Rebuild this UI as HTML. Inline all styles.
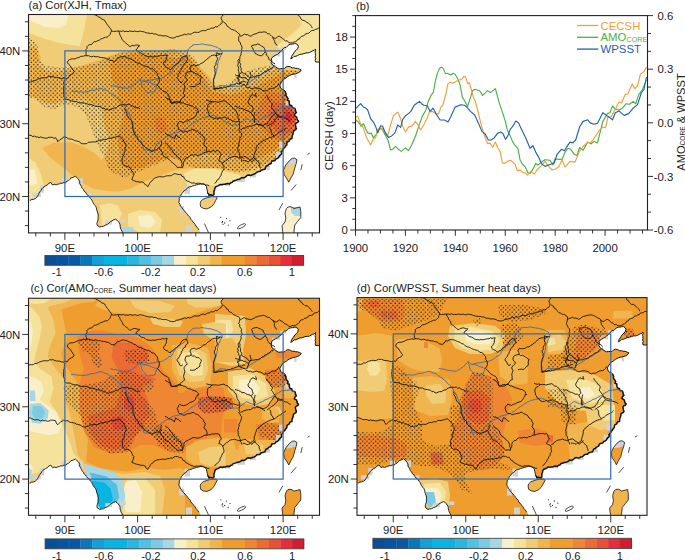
<!DOCTYPE html>
<html><head><meta charset="utf-8"><title>figure</title>
<style>html,body{margin:0;padding:0;background:#fff;} svg{display:block;} text{font-family:"Liberation Sans", sans-serif;}</style>
</head><body>
<svg width="685" height="560" viewBox="0 0 685 560">
<defs><pattern id="stip" patternUnits="userSpaceOnUse" width="4.33" height="4.38"><circle cx="1.1" cy="1.1" r="0.64" fill="#000"/><circle cx="3.27" cy="3.29" r="0.64" fill="#000"/></pattern></defs>
<rect width="685" height="560" fill="#fff"/>
<clipPath id="clipa"><rect x="28.5" y="14.5" width="291.00" height="218.40"/></clipPath>
<g clip-path="url(#clipa)">
<rect x="28.5" y="14.5" width="291.00" height="218.40" fill="#f1cc76"/>
<path d="M28.5,14.5 87.0,14.5 85.9,20.4 82.7,35.5 79.5,46.2 70.9,45.1 55.9,41.9 40.9,37.6 30.1,33.3 28.5,33.0Z" fill="#f6e39b"/>
<path d="M297.5,14.5 320.0,14.5 320.0,62.0 314.0,62.0 305.0,58.0 295.0,58.0 285.0,52.0 276.0,46.2 284.6,39.8 295.3,31.2 301.8,24.7Z" fill="#f6e39b"/>
<path d="M183.7,173.5 194.5,168.8 215.9,169.2 237.4,174.6 246.0,177.8 240.0,180.0 230.0,183.0 215.0,186.0 205.0,184.5 195.0,185.0 188.0,187.0Z" fill="#f6e39b"/>
<path d="M28.5,158.0 35.0,162.0 40.0,172.0 44.0,185.0 38.0,196.0 28.5,200.0Z" fill="#f6e39b"/>
<path d="M100.0,205.0 110.0,203.0 118.0,206.0 122.0,214.0 118.0,222.0 110.0,224.0 102.0,225.0Z" fill="#f6e39b"/>
<path d="M128.0,214.0 140.0,210.0 155.0,212.0 162.0,220.0 160.0,233.0 140.0,233.0 128.0,226.0Z" fill="#f6e39b"/>
<path d="M28.5,14.5 68.8,14.5 65.6,24.7 58.0,28.0 45.2,26.9 32.3,21.5 28.5,19.0Z" fill="#f9f0cb"/>
<path d="M28.5,169.0 35.0,170.0 37.0,184.0 28.5,186.0Z" fill="#f9f0cb"/>
<path d="M138.0,216.0 150.0,215.0 156.0,222.0 150.0,228.0 140.0,226.0Z" fill="#f9f0cb"/>
<path d="M120.0,228.0 133.0,227.0 134.0,233.0 120.0,233.0Z" fill="#a8d7e3"/>
<path d="M28.5,46.2 36.6,48.3 40.9,56.9 38.7,65.5 49.5,71.9 64.5,70.9 81.6,65.5 98.8,60.1 109.5,55.8 120.3,52.6 135.3,51.6 148.2,52.2 173.0,49.4 188.0,54.8 196.6,63.4 209.5,76.2 213.8,84.8 222.4,89.1 237.4,88.0 250.3,82.7 263.1,76.2 273.9,69.8 280.3,68.7 301.8,70.9 300.0,78.0 290.0,95.0 296.0,112.0 296.0,128.0 285.0,148.0 276.0,158.5 263.1,164.9 250.3,169.2 237.4,171.4 215.9,168.1 190.2,168.1 175.0,170.0 156.8,177.0 143.9,182.1 131.0,188.5 118.1,191.7 105.3,190.7 92.4,188.5 77.4,179.9 66.5,170.0 57.8,163.6 49.0,156.6 42.0,147.8 54.3,142.6 71.8,142.6 85.8,147.8 94.6,153.1 101.6,160.1 106.0,155.0 110.0,140.0 104.0,125.0 101.6,107.5 94.0,104.0 85.0,100.0 73.5,100.0 64.8,99.0 54.3,104.0 45.5,103.0 36.8,98.0 28.5,97.0Z" fill="#f0b54e"/>
<path d="M109.5,63.4 118.1,58.0 131.0,53.7 148.2,53.7 165.3,56.9 175.0,58.0 188.0,57.0 196.0,66.0 205.0,80.0 212.0,92.0 230.0,95.0 250.0,90.0 265.0,82.0 280.0,75.0 301.0,73.0 300.0,78.0 290.0,95.0 296.0,112.0 296.0,128.0 285.0,145.0 278.2,147.8 267.4,154.2 254.5,159.6 237.4,158.5 215.9,154.2 194.5,154.2 181.8,160.9 170.0,156.5 161.3,159.4 151.1,163.8 140.9,168.2 129.2,169.6 120.4,163.8 119.0,149.2 117.5,134.6 123.5,116.3 119.1,100.5 117.4,90.0 111.7,78.4Z" fill="#f09d30"/>
<path d="M155.0,119.0 161.0,117.0 166.0,121.0 167.0,129.0 162.0,134.0 156.0,131.0Z" fill="#ee8633"/>
<path d="M268.2,90.9 276.3,92.5 284.3,95.7 290.7,107.0 296.0,112.0 296.0,128.0 287.5,137.5 281.0,140.7 273.0,137.5 265.0,131.0 258.6,123.0 255.4,115.0 258.6,105.4 263.4,95.7Z" fill="#ee8633"/>
<path d="M273.0,102.1 281.0,103.8 290.7,105.4 294.0,111.8 296.0,120.0 294.0,126.3 290.7,132.7 284.3,134.3 276.3,131.0 269.8,123.0 268.2,111.8Z" fill="#ec6b34"/>
<path d="M282.7,107.0 290.7,107.8 294.0,113.4 295.0,120.0 293.1,123.0 287.5,124.6 283.5,118.2Z" fill="#e95137"/>
<path d="M285.5,112.0 290.0,112.5 292.0,117.0 289.0,121.0 286.0,119.0Z" fill="#e72e38"/>
<path d="M28.5,37.6 34.4,41.9 38.7,48.3 37.7,56.9 45.2,65.5 60.2,67.6 81.6,66.6 98.8,62.3 107.4,58.0 120.3,52.6 131.0,50.9 148.2,50.5 173.0,49.4 185.9,50.5 194.5,56.9 200.9,69.8 209.5,80.5 214.0,87.0 224.5,86.0 232.0,80.0 243.8,71.9 258.8,67.6 271.7,65.5 280.3,69.8 301.8,70.9 300.0,78.0 290.0,95.0 296.0,112.0 296.0,128.0 285.0,148.0 278.2,158.5 265.3,167.0 250.3,171.4 237.4,172.4 215.9,168.1 194.5,168.1 190.5,166.7 181.8,160.9 170.0,158.0 158.4,163.8 143.8,169.6 130.0,176.0 121.9,176.9 112.0,172.0 107.3,168.2 106.8,161.8 101.6,153.1 97.2,144.3 94.6,137.3 91.1,128.5 88.4,121.5 85.8,114.5 80.6,109.3 73.5,105.8 64.8,104.0 54.3,109.3 45.5,107.5 36.8,100.5 28.5,96.0Z" fill="url(#stip)"/>
<path d="M320.0,61.9 315.5,61.9 315.5,49.0 311.1,51.7 306.0,52.9 301.8,54.2 297.6,55.5 294.2,56.3 290.8,58.9 291.6,56.3 293.3,53.8 295.0,51.2 297.6,48.7 298.4,46.2 295.9,43.6 290.8,44.2 287.4,46.2 283.2,48.7 279.0,52.9 273.9,56.1 271.5,58.5 271.2,62.5 272.5,65.0 273.9,65.7 278.8,68.9 284.6,68.4 287.9,66.3 292.1,67.9 297.5,68.4 301.3,70.0 299.6,72.1 295.4,73.8 291.1,74.8 287.9,76.4 284.1,79.1 281.4,82.3 279.8,85.0 280.5,88.0 285.2,91.1 287.3,97.5 289.5,103.9 292.1,107.1 295.4,109.8 296.4,112.5 294.3,115.7 296.4,116.8 298.6,121.1 295.4,124.3 296.4,128.6 293.2,132.9 292.1,137.1 288.9,141.4 285.7,145.7 283.0,150.0 281.4,152.0 280.4,155.0 276.1,158.8 272.9,160.9 268.6,164.6 265.4,167.9 260.0,171.6 255.7,173.2 250.4,175.4 246.1,176.4 241.8,177.5 237.5,179.6 234.3,180.7 230.7,182.7 226.4,183.8 222.1,184.8 217.9,185.9 215.5,187.0 214.5,190.0 214.0,193.0 212.5,195.5 209.0,195.5 207.5,193.0 206.8,189.0 206.5,186.5 205.0,184.8 200.7,183.8 196.4,184.8 192.7,185.9 187.9,187.5 184.1,190.7 181.4,193.9 179.3,198.2 178.8,202.5 180.4,206.2 182.5,208.9 185.2,212.1 188.9,216.4 192.1,220.7 196.0,226.0 199.0,230.0 200.8,233.0 320.0,233.0Z" fill="#fff"/>
<path d="M28.0,200.8 29.8,200.8 36.8,197.3 42.9,187.7 45.5,185.9 50.8,182.4 52.5,185.0 57.8,184.2 65.7,182.4 70.9,178.0 75.3,176.3 78.8,179.8 80.6,185.0 84.1,191.2 89.3,196.4 91.9,199.9 96.3,207.8 98.1,216.6 97.2,225.3 99.8,227.1 105.1,225.3 110.3,221.8 115.6,219.2 119.1,222.7 122.6,233.0 28.0,233.0Z" fill="#fff"/>
<path d="M200.7,201.4 202.9,199.3 207.1,197.7 211.4,196.6 215.7,196.6 217.3,197.7 215.7,200.4 214.1,203.6 211.4,206.8 207.1,208.9 203.4,208.4 200.7,206.8 200.2,203.6Z" fill="#f1cc76" stroke="#111" stroke-width="0.8"/>
<path d="M61.5,178.0 66.6,178.0 66.6,183.5 61.5,183.5Z" fill="#d2d2d2"/>
<path d="M78.4,178.0 82.7,178.0 82.7,184.5 78.4,184.5Z" fill="#d2d2d2"/>
<path d="M32.3,192.8 40.9,192.8 40.9,197.0 32.3,197.0Z" fill="#d2d2d2"/>
<path d="M39.8,185.3 44.1,185.3 44.1,192.8 39.8,192.8Z" fill="#d2d2d2"/>
<path d="M87.0,192.8 91.3,192.8 91.3,196.5 87.0,196.5Z" fill="#d2d2d2"/>
<path d="M105.3,220.7 112.0,220.7 112.0,224.5 105.3,224.5Z" fill="#d2d2d2"/>
<path d="M120.0,219.0 126.0,219.0 126.0,222.5 120.0,222.5Z" fill="#d2d2d2"/>
<path d="M184.5,186.0 190.0,186.0 190.0,194.0 184.5,194.0Z" fill="#d2d2d2"/>
<path d="M179.0,206.0 184.0,206.0 184.0,213.0 179.0,213.0Z" fill="#d2d2d2"/>
<path d="M186.0,225.0 192.0,225.0 192.0,232.0 186.0,232.0Z" fill="#d2d2d2"/>
<path d="M237.0,178.0 245.0,178.0 245.0,182.0 237.0,182.0Z" fill="#d2d2d2"/>
<path d="M265.0,166.0 270.0,166.0 270.0,170.0 265.0,170.0Z" fill="#d2d2d2"/>
<path d="M276.0,152.0 281.0,152.0 281.0,158.0 276.0,158.0Z" fill="#d2d2d2"/>
<path d="M285.7,100.7 288.5,100.7 288.5,105.5 285.7,105.5Z" fill="#d2d2d2"/>
<path d="M279.0,141.4 283.0,141.4 283.0,147.9 279.0,147.9Z" fill="#d2d2d2"/>
<path d="M280.3,47.3 286.1,47.3 286.1,50.2 280.3,50.2Z" fill="#d2d2d2"/>
<path d="M272.1,54.3 275.0,54.3 275.0,56.6 272.1,56.6Z" fill="#d2d2d2"/>
<path d="M277.4,53.1 280.3,53.1 280.3,56.6 277.4,56.6Z" fill="#d2d2d2"/>
<path d="M294.3,74.3 296.6,74.3 296.6,78.6 294.3,78.6Z" fill="#d2d2d2"/>
<path d="M250.0,175.0 256.0,175.0 256.0,177.5 250.0,177.5Z" fill="#d2d2d2"/>
<path d="M225.0,183.0 230.0,183.0 230.0,186.0 225.0,186.0Z" fill="#d2d2d2"/>
<path d="M294.8,158.2 297.0,159.8 296.2,163.5 294.8,168.0 293.2,174.0 291.0,177.8 288.8,182.2 287.2,179.2 284.2,174.8 283.5,170.2 285.8,165.0 289.5,160.5 292.5,158.2Z" fill="#f1cc76"/>
<path d="M292.5,158.2 294.8,158.2 297.0,159.8 296.2,163.5 290.0,165.5 285.8,165.5 289.5,160.5Z" fill="#d2d2d2"/>
<path d="M294.8,158.2 297.0,159.8 296.2,163.5 294.8,168.0 293.2,174.0 291.0,177.8 288.8,182.2 287.2,179.2 284.2,174.8 283.5,170.2 285.8,165.0 289.5,160.5 292.5,158.2Z" fill="none" stroke="#111" stroke-width="0.8"/>
<path d="M288.0,207.0 291.0,206.7 294.0,208.5 300.0,207.0 300.8,211.5 300.8,217.5 297.8,221.2 294.8,225.0 294.0,231.0 294.0,233.5 282.5,233.5 282.7,231.8 282.0,225.8 285.0,222.0 285.8,218.2 285.0,213.0 286.5,208.5Z" fill="#f9f0cb"/>
<path d="M291.0,207.0 300.0,207.0 300.8,211.5 300.8,216.0 295.0,216.0 291.0,212.0Z" fill="#a8d7e3"/>
<path d="M288.0,207.0 291.0,206.7 294.0,208.5 300.0,207.0 300.8,211.5 300.8,217.5 297.8,221.2 294.8,225.0 294.0,231.0 294.0,233.5 282.5,233.5 282.7,231.8 282.0,225.8 285.0,222.0 285.8,218.2 285.0,213.0 286.5,208.5Z" fill="none" stroke="#111" stroke-width="0.8"/>
<path d="M320.0,61.9 317.8,62.1 315.5,61.9 315.2,60.3 315.7,58.7 315.1,57.1 315.5,55.5 315.4,53.8 315.1,52.2 315.5,50.6 315.5,49.0 314.3,50.3 312.6,50.9 311.1,51.7 309.5,52.5 307.8,52.9 306.0,52.9 303.9,53.6 301.8,54.2 299.6,54.5 297.6,55.5 296.0,56.3 294.2,56.3 292.7,57.8 290.8,58.9 291.6,56.3 293.3,53.8 295.0,51.2 296.4,50.0 297.6,48.7 298.4,46.2 297.5,44.6 295.9,43.6 294.2,43.7 292.5,44.1 290.8,44.2 288.9,44.8 287.4,46.2 286.2,47.4 284.4,47.6 283.2,48.7 281.9,50.2 280.7,51.8 279.0,52.9 277.5,54.3 275.7,55.2 273.9,56.1 272.5,57.1 271.5,58.5 271.7,60.5 271.2,62.5 272.5,65.0 273.9,65.7 275.5,66.8 277.1,67.9 278.8,68.9 280.7,68.6 282.7,68.6 284.6,68.4 286.0,67.0 287.9,66.3 290.2,66.7 292.1,67.9 293.9,67.8 295.7,68.4 297.5,68.4 299.4,69.1 301.3,70.0 299.6,72.1 297.6,73.1 295.4,73.8 293.2,74.2 291.1,74.8 289.5,75.6 287.9,76.4 286.1,77.9 284.1,79.1 282.5,80.5 281.4,82.3 279.8,85.0 280.5,88.0 282.0,89.2 283.8,89.9 285.2,91.1" fill="none" stroke="#111" stroke-width="1.0" stroke-linejoin="round"/>
<path d="M285.2,91.1 285.5,92.4 286.0,93.7 285.8,95.2 286.5,96.3 287.3,97.5 288.1,98.7 287.4,100.3 289.3,101.1 289.2,102.6 289.5,103.9 290.0,105.3 291.7,105.6 292.1,107.1 293.2,108.0 294.8,108.3 295.4,109.8 295.6,111.3 296.4,112.5 295.0,113.8 294.3,115.7 296.4,116.8 297.0,118.3 297.3,120.0 298.6,121.1 297.8,122.4 296.2,123.0 295.4,124.3 295.6,125.8 295.9,127.2 296.4,128.6 295.7,129.7 294.3,130.4 293.4,131.3 293.2,132.9 292.9,134.3 292.2,135.6 292.1,137.1 291.9,138.6 290.2,139.0 289.5,140.2 288.9,141.4 287.4,141.9 286.8,143.2 286.8,144.9 285.7,145.7 285.0,147.2 283.6,148.4 283.0,150.0 281.4,152.0 281.7,153.8 280.4,155.0 279.4,156.0 278.6,157.3 277.6,158.4 276.1,158.8 274.9,160.5 272.9,160.9 271.5,161.5 271.2,163.3 270.0,164.0 268.6,164.6 267.7,165.8 266.0,166.3 265.4,167.9 264.7,169.3 263.3,169.5 262.1,170.0 260.7,170.3 260.0,171.6 258.4,171.6 256.9,172.1 255.7,173.2 254.5,174.1 253.1,174.4 251.8,175.1 250.4,175.4 248.8,175.1 247.3,175.3 246.1,176.4 244.8,177.4 243.4,177.7 241.8,177.5 240.6,178.6 239.1,179.3 237.5,179.6 235.9,180.2 234.3,180.7 233.0,181.2 232.1,182.4 230.7,182.7 229.5,183.9 227.9,183.5 226.4,183.8 225.0,184.3 223.5,184.3 222.1,184.8 220.5,184.4 219.2,185.2 217.9,185.9 216.7,186.4 215.5,187.0 214.8,188.4 214.5,190.0 213.9,191.4 214.0,193.0 213.9,194.7 212.5,195.5 210.7,194.8 209.0,195.5 208.7,194.0 207.5,193.0" fill="none" stroke="#111" stroke-width="1.5" stroke-linejoin="round"/>
<path d="M207.5,193.0 207.4,190.9 206.8,189.0 206.5,186.5 205.0,184.8 202.9,184.0 200.7,183.8 198.6,184.4 196.4,184.8 194.6,185.4 192.7,185.9 191.2,186.7 189.5,186.9 187.9,187.5 186.9,188.8 185.6,189.9 184.1,190.7 182.9,192.5 181.4,193.9 180.6,196.2 179.3,198.2 179.2,200.4 178.8,202.5 179.9,204.2 180.4,206.2 181.8,207.3 182.5,208.9 184.1,210.3 185.2,212.1 186.7,213.3 187.7,214.9 188.9,216.4 190.3,217.6 190.8,219.4 192.1,220.7 193.0,222.1 194.3,223.2 195.2,224.6 196.0,226.0 197.1,227.3 198.1,228.6 199.0,230.0" fill="none" stroke="#111" stroke-width="0.9" stroke-linejoin="round"/>
<path d="M29.8,200.8 31.3,199.6 33.4,199.4 35.3,198.6 36.8,197.3 37.6,195.9 38.5,194.5 39.1,193.0 39.9,191.6 41.0,190.4 41.8,188.9 42.9,187.7 45.5,185.9 47.4,185.0 48.8,183.3 50.8,182.4 52.5,185.0 54.2,184.3 56.1,184.9 57.8,184.2 59.4,183.9 60.9,183.1 62.5,183.2 64.0,182.3 65.7,182.4 67.0,181.3 68.6,180.6 69.8,179.4 70.9,178.0 73.2,177.3 75.3,176.3 76.6,177.3 77.7,178.5 78.8,179.8 79.7,181.4 79.7,183.4 80.6,185.0 81.4,186.6 82.1,188.2 83.4,189.6 84.1,191.2 85.6,192.3 86.5,194.0 87.7,195.4 89.3,196.4 90.3,198.4 91.9,199.9 92.5,201.6 93.4,203.2 94.3,204.8 95.7,206.1 96.3,207.8 96.6,209.6 97.2,211.3 97.8,213.0 98.2,214.7 98.1,216.6 98.1,218.4 98.0,220.1 97.4,221.8 96.9,223.5 97.2,225.3 99.8,227.1 101.5,226.5 103.5,226.3 105.1,225.3 107.1,224.5 108.8,223.3 110.3,221.8 112.0,220.8 113.7,219.8 115.6,219.2 117.0,220.2 118.1,221.3 119.1,222.7 120.0,224.3 120.1,226.2 120.5,228.0 121.1,229.7 122.0,231.3 122.6,233.0" fill="none" stroke="#111" stroke-width="0.9" stroke-linejoin="round"/>
<path d="M110.5,85.4 112.1,85.8 113.7,86.3 115.5,86.1 117.0,86.8 118.6,87.3 120.3,87.4 122.2,87.8 124.1,88.1 126.1,88.1 128.0,88.4 129.4,87.3 131.1,86.7 132.4,85.5 134.0,84.7 135.3,83.6 136.6,82.5 137.5,81.0 138.8,79.8 140.0,78.6 141.6,80.3 143.6,81.5 145.3,81.3 146.9,80.6 148.5,80.2 150.2,79.9 151.9,80.1 153.5,79.5 155.2,79.3 156.7,78.6 158.4,78.7 160.1,78.5 161.7,78.0 163.3,77.5 164.7,76.5 166.3,75.6 167.6,74.4 169.0,73.3 170.8,72.9 172.1,71.6 172.9,70.2 173.6,68.6 174.6,67.3 175.1,65.7 176.4,64.6 177.9,63.9 179.1,62.9 180.2,61.5 181.5,60.6 182.9,59.7 184.1,58.3 185.4,57.0 186.9,55.8 187.3,53.8 187.4,51.8 187.9,49.9 189.1,48.6 190.2,47.2 191.8,46.4 192.8,44.9 194.4,44.7 196.1,44.6 197.7,44.5 199.4,44.5 201.0,44.0 202.6,43.9 204.2,44.5 205.9,44.6 207.5,44.9 209.1,45.2 210.8,45.2 212.4,45.8 214.0,46.4 215.6,46.8 217.3,47.3 218.6,48.5 220.3,48.9 221.5,50.7 222.2,52.8 221.6,54.3 220.8,55.7 220.2,57.2 219.7,58.8 218.9,60.2 218.3,61.7 217.9,63.4 217.4,65.0 217.6,66.7 216.9,68.3 216.8,70.0 216.3,71.6 216.0,73.3 215.2,74.8 214.8,76.5 214.3,78.2 213.7,79.8 213.4,81.5 213.1,83.5 213.4,85.4 213.3,87.4 213.4,89.4 215.1,88.4 216.7,87.4 218.4,86.5 220.0,85.4 221.7,85.5 223.4,85.7 225.2,85.8 226.9,86.2 228.6,86.2 230.3,86.4 232.1,86.6 233.8,86.4 235.5,86.1 237.1,86.1 238.8,86.3 240.5,86.1 242.1,85.4 243.8,85.3 245.5,85.4 246.8,84.4 248.0,83.2 249.3,82.3 250.6,81.2 252.2,80.5 253.4,79.5 254.9,78.8 256.3,78.0 257.5,76.7 259.1,76.2 260.5,75.3 261.7,74.1 263.2,73.5 264.7,72.9 266.2,72.1 267.3,70.8 269.0,70.4 270.2,69.2 271.6,68.4 273.0,67.6 274.3,66.3 275.0,64.7" fill="none" stroke="#3f6fa6" stroke-width="0.95" stroke-linejoin="round"/>
<path d="M140.0,78.6 140.2,80.3 141.0,81.8 141.2,83.5 141.6,85.1 142.0,86.7 143.3,88.1 144.7,89.6 145.8,91.1 147.0,92.7 148.6,92.7 150.2,92.0 151.8,92.2 153.4,91.9 155.0,91.7 155.3,89.6 156.2,87.7 157.0,85.7 155.3,84.9 153.5,84.2 151.6,83.7 150.0,82.7 148.5,82.0 146.8,81.9 145.3,81.4 143.6,81.5" fill="none" stroke="#3f6fa6" stroke-width="0.95" stroke-linejoin="round"/>
<path d="M71.2,91.3 72.9,91.2 74.6,91.4 76.3,91.4 77.9,92.1 79.6,91.9 81.3,91.9 83.0,92.3 84.6,91.9 86.3,91.9 87.9,91.5 89.5,90.8 91.1,90.4 92.8,90.3 94.4,90.2 96.0,89.6 97.6,89.3 99.1,88.5 100.7,88.4 102.4,88.7 103.8,89.7 105.4,90.1 107.0,90.5 108.5,91.3 109.6,92.6 111.1,93.4 112.3,94.5 113.9,95.0 114.9,96.5 116.4,97.3 117.9,98.4 118.8,100.1 120.3,101.2 121.7,102.5 123.0,103.8 124.3,105.2 125.2,106.9 125.9,108.7 127.2,110.1 128.0,111.9 128.9,113.4 129.3,115.2 130.1,116.8 130.9,118.5 131.5,120.2 131.9,121.9 132.6,123.4 132.9,125.0 133.2,126.7 133.6,128.2 133.7,129.9 134.4,131.4 134.7,133.0 135.3,134.6 135.6,136.2 135.9,137.8 137.6,138.5 138.9,139.7 140.5,140.6 141.8,141.8 142.0,143.5 142.6,145.0 143.2,146.6 143.4,148.2 143.8,149.8 145.4,150.3 147.1,149.8 148.7,150.5 150.4,150.4 152.1,150.6 153.7,150.8 154.6,149.2 155.1,147.3 155.9,145.7 156.6,144.0 158.1,143.0 159.7,142.0 160.9,140.6 162.5,139.8 163.9,138.6 165.3,137.4 167.0,136.7 168.6,135.7 170.2,134.8 171.9,134.1 173.4,133.3 174.9,132.9 176.5,132.4 178.2,132.4 179.6,131.6 181.2,131.0 182.8,130.8 184.0,129.6 185.7,129.0 187.1,128.1 188.4,127.0 189.6,125.8 190.9,124.8 192.3,123.9 193.8,123.0 195.3,122.1 196.6,121.0 198.2,120.3 199.6,119.3 201.3,118.8 202.6,117.6 204.5,117.5 206.2,116.9 208.0,116.3 209.9,116.4 211.7,115.6 213.5,115.4 215.0,116.0 216.6,116.5 217.9,117.5 219.4,118.2 220.8,119.0 222.3,119.7 223.9,120.4 225.2,121.5 226.8,122.2 228.2,123.3 229.7,124.1 231.0,125.2 232.7,125.2 234.3,124.9 235.9,124.9 237.6,125.2 239.0,124.0 240.4,122.9 242.0,122.0 243.4,120.8 245.0,119.8 246.3,118.6 248.0,119.4 249.8,120.1 251.5,120.8 253.4,121.2 255.1,121.9 256.5,121.1 258.2,120.8 259.4,119.5 261.0,119.2 262.5,118.4 263.9,117.6 265.2,116.6 266.9,116.3 268.4,115.6 269.7,114.7 271.2,114.0 272.6,113.2 274.2,112.4 275.4,111.1 277.0,110.4 278.5,109.5 280.1,108.7 281.4,107.6 283.2,107.6 284.9,107.4 286.6,107.0 288.4,107.0 290.1,106.5 291.6,107.4 293.1,108.2 294.7,108.8" fill="none" stroke="#3f6fa6" stroke-width="0.95" stroke-linejoin="round"/>
<path d="M92.8,14.2 94.4,14.7 96.0,15.2 97.4,16.1 98.8,17.1 100.4,17.5 101.5,19.1 103.1,19.5 104.6,20.2 105.4,21.8 106.4,23.2 107.3,24.8 108.5,26.1 109.5,27.8 111.0,29.1 111.5,31.1 113.3,31.4 115.0,31.4 116.8,31.1 118.5,31.1 120.3,31.1 121.8,31.4 123.4,30.8 124.9,31.7 126.5,31.2 128.0,31.7 129.6,31.1 131.3,31.2 133.0,31.7 134.7,31.0 136.4,31.5 138.1,31.7 139.7,31.1 141.2,31.4 142.8,31.6 144.3,32.0 145.8,32.6 147.3,33.0 148.9,33.1 150.4,33.5 152.1,33.2 153.5,34.0 155.2,33.9 156.8,34.4 158.3,35.3 160.1,35.1 161.7,35.7 163.3,36.0 165.1,35.7 166.7,36.1 168.3,36.7 169.8,37.5 171.4,37.9 173.1,38.0 174.8,37.7 176.3,36.7 178.1,36.5 179.7,35.9 181.3,35.4 183.0,35.0 184.5,34.2 186.4,34.8 187.8,33.7 189.6,34.3 191.3,33.9 192.8,33.1 194.2,32.2 195.8,32.3 197.4,32.4 199.0,32.3 200.4,31.3 201.9,30.8 203.4,30.4 205.1,30.9 206.5,30.0 207.9,29.2 209.5,29.2 210.8,28.2 212.4,28.1 214.0,28.1 215.2,26.7 216.9,27.0 218.3,26.1 219.6,24.8 221.2,23.8 222.2,22.2 222.1,20.5 221.2,18.9 221.2,17.2 222.6,16.0 223.2,14.2" fill="none" stroke="#141414" stroke-width="0.9" stroke-linejoin="round"/>
<path d="M111.5,31.1 110.6,32.7 110.1,34.6 108.7,36.0 107.3,37.1 105.5,37.2 103.9,37.8 102.4,38.6 100.7,39.0 99.3,40.2 97.6,40.7 96.1,41.6 94.2,41.8 92.8,42.9 91.7,44.4 89.7,44.6 88.1,45.5 86.9,46.8 87.1,48.4 85.9,49.7 86.0,51.3 86.0,52.8 86.0,54.4 86.9,55.8" fill="none" stroke="#141414" stroke-width="0.9" stroke-linejoin="round"/>
<path d="M118.4,31.1 119.3,32.6 119.8,34.3 120.3,36.0 121.4,37.4 121.8,39.3 123.2,40.5 124.3,41.9 125.8,43.0 127.2,44.3 128.7,45.4 129.9,46.8 131.2,45.9 132.7,45.4 134.4,45.8 135.8,44.9 137.8,45.1 139.7,45.8 138.0,46.8 137.3,48.7 135.8,49.9 137.4,50.6 138.7,51.8 140.4,52.5 141.7,53.8 143.3,54.2 144.6,55.5 146.2,56.0 147.8,56.5 149.5,56.7 151.2,56.7 152.8,56.9 154.5,56.8 156.1,56.2 157.8,56.2 159.4,55.8 160.9,55.1 162.6,55.7 164.1,55.1 165.7,55.3 167.2,54.8 166.7,56.4 166.8,58.1 166.2,59.7 165.7,61.4 163.9,62.0 163.3,63.7 164.7,64.9 165.3,66.7 167.0,67.6 168.7,68.5 170.2,69.6" fill="none" stroke="#141414" stroke-width="0.9" stroke-linejoin="round"/>
<path d="M86.9,55.8 88.6,55.7 90.2,56.4 91.8,56.8 93.5,56.1 95.1,56.7 96.8,56.7 98.5,56.8 100.1,57.4 101.7,57.6 103.4,57.7 105.0,58.0 106.6,58.7 108.3,59.0 109.5,60.4 111.3,60.5 113.0,60.8 114.4,61.7 115.8,60.7 116.9,59.4 117.4,57.7 119.1,57.4 120.8,56.8 122.5,56.6 124.3,56.7 126.1,56.9 127.5,57.9 129.2,58.3 130.8,59.1 132.3,59.8 133.8,60.7 135.2,61.5 136.4,62.6 137.9,63.1 139.4,63.5 140.8,64.2 142.2,65.0 143.6,65.7 145.1,66.1 146.5,66.6 148.0,66.9 149.4,67.7 150.5,69.0 152.3,68.6 153.5,69.6 154.8,70.9 156.0,72.3 157.4,73.5 157.4,75.2 158.5,76.6 158.9,78.2 159.3,79.8 159.4,81.5 158.5,83.5 157.4,85.4 158.7,86.7 159.6,88.5 161.3,89.4 162.5,90.7 164.0,91.7 166.0,91.9 167.2,93.3 168.7,95.0 169.2,97.3 169.5,98.8 169.8,100.4 170.7,101.7 171.2,103.2 173.1,103.3 175.1,102.6 177.0,103.2 178.9,102.1 181.0,101.2" fill="none" stroke="#141414" stroke-width="0.9" stroke-linejoin="round"/>
<path d="M86.9,55.8 85.2,55.6 83.6,56.1 81.9,56.3 80.3,56.5 78.8,57.7 77.1,57.7 75.7,58.6 74.1,58.9 72.4,58.9 70.8,59.1 69.3,59.7 67.9,60.9 67.3,62.6 68.6,64.3 70.2,65.7 71.1,67.2 71.9,68.8 73.2,70.1 74.2,71.6 73.2,73.5 71.2,74.5 69.3,75.5 68.8,77.3 67.3,78.5" fill="none" stroke="#141414" stroke-width="0.9" stroke-linejoin="round"/>
<path d="M28.5,82.2 30.3,82.1 31.9,81.5 33.4,80.6 35.2,80.8 36.7,79.9 38.1,78.9 39.8,78.5 41.4,77.8 43.1,77.7 44.9,77.8 46.6,77.6 48.2,76.6 49.8,76.3 51.6,76.5 53.2,76.9 54.8,77.3 56.5,77.4 58.2,77.6 59.7,78.3 61.4,78.5 63.4,78.0 65.3,78.3 67.3,78.5" fill="none" stroke="#141414" stroke-width="0.9" stroke-linejoin="round"/>
<path d="M64.3,79.5 64.3,81.4 63.7,83.4 64.3,85.4 63.9,87.0 63.5,88.5 63.8,90.2 63.9,91.8 63.4,93.3 64.2,94.7 63.8,96.5 64.6,97.9 65.3,99.3 66.9,99.4 68.6,99.5 70.0,100.4 71.6,101.0 73.2,101.2 74.9,101.4 76.5,101.6 78.1,102.4 79.6,103.0 81.4,102.5 83.0,103.2 84.7,103.0 86.3,103.7 87.9,104.1 89.5,104.8 91.2,104.5 92.8,105.2 94.3,105.9 95.9,106.3 97.5,106.4 99.2,106.4 100.7,107.1 102.1,108.3 103.9,108.1 105.2,109.3 107.1,109.2 108.5,110.1 109.9,109.3 111.6,109.4 112.8,108.4 114.4,108.1 116.1,107.9 117.3,106.7 118.7,105.6 120.3,105.2 121.8,104.7 123.4,104.7 124.9,104.8 126.5,104.9 128.0,104.2 129.7,104.5 131.1,105.4 132.6,105.9 134.0,106.8 135.3,107.9 137.1,107.4 138.7,107.8 140.0,108.8" fill="none" stroke="#141414" stroke-width="0.9" stroke-linejoin="round"/>
<path d="M131.9,121.9 132.8,123.5 132.7,125.2 132.4,127.0 132.8,128.6 133.3,130.3 133.9,131.9 134.2,133.6 135.1,135.0 136.6,136.0 137.6,137.4 137.7,139.3 138.7,140.6 139.8,141.8 141.4,142.6 142.1,144.4 143.5,145.3 144.7,146.5 145.8,147.8 147.4,148.6 149.0,149.5 150.6,150.3 151.7,151.8 153.2,150.8 154.8,150.0 156.7,149.9 157.8,148.2 159.6,147.8" fill="none" stroke="#141414" stroke-width="0.9" stroke-linejoin="round"/>
<path d="M125.0,108.8 125.1,110.6 126.5,111.9 127.0,113.6 127.0,115.4 128.0,116.9 128.7,118.4 130.0,119.3 131.4,120.3 131.9,121.9" fill="none" stroke="#141414" stroke-width="0.9" stroke-linejoin="round"/>
<path d="M28.5,134.9 30.0,135.3 31.5,135.6 32.8,136.6 34.5,136.1 35.9,136.9 37.5,136.9 39.0,137.7 40.7,136.9 42.2,137.5 43.8,137.8 45.5,138.2 47.2,138.1 48.9,137.3 50.6,137.3 52.3,137.3 54.0,138.3 55.7,137.8 57.0,139.7 57.7,141.8 59.7,139.8 61.2,139.1 62.6,138.3 63.6,136.9 65.3,137.2 67.0,137.6 68.4,138.9 70.2,139.0 71.9,139.1 73.5,139.8 74.8,140.6 76.4,140.8 77.8,141.3 79.4,141.6 80.5,143.0 81.8,143.7 83.4,143.8 85.1,143.7 86.8,143.7 88.2,142.3 89.9,142.2 91.6,142.1 93.3,141.8 95.1,142.0 96.7,141.7 98.2,140.7 99.8,140.2 101.5,140.1 103.2,139.8 104.8,139.4 106.5,139.5 107.9,138.2 109.7,138.6 111.2,137.8 112.8,137.7 114.5,137.4 116.0,137.0 117.6,136.4 119.1,135.9 120.5,137.1 121.9,138.4 123.0,139.8 123.9,141.1 124.2,142.6 125.7,143.5 126.0,145.1 126.0,146.8 124.9,148.2 125.1,150.0 124.9,151.6 124.0,153.1 124.0,154.8 122.9,156.1 122.7,157.7 122.0,159.1 121.9,161.0 122.6,162.6 122.9,164.3 124.0,165.8" fill="none" stroke="#141414" stroke-width="0.9" stroke-linejoin="round"/>
<path d="M124.0,165.8 125.6,166.0 127.1,166.3 128.6,166.8 129.9,167.7 130.9,169.2 131.7,170.9 133.0,172.2 133.9,173.7 133.7,175.3 133.0,176.7 132.3,178.1 131.9,179.7 133.3,180.4 134.8,181.0 136.3,181.6 137.9,181.7 139.8,182.2 141.9,181.9 143.8,182.7 144.8,184.3 146.6,185.2 147.8,186.7 148.8,185.1 149.6,183.3 150.7,181.7 152.1,180.9 153.0,179.4 154.3,178.4 155.7,177.7 157.6,177.1 159.6,176.6 161.6,176.8 163.2,177.0 164.8,176.4 166.3,175.9 167.9,175.8 169.5,175.7 171.2,175.8 172.5,174.7 173.9,173.9 175.5,173.7 177.4,174.4 179.4,174.6 181.4,174.7 181.9,176.3 183.8,176.9 184.4,178.4 185.4,179.7 187.2,181.0 189.3,181.7 190.7,182.6 192.1,183.2 194.0,182.7 195.3,183.7 196.9,183.4 198.5,183.2 200.0,183.3 201.6,184.3 203.2,183.7 204.6,184.3 206.0,185.2 207.7,185.1 209.1,185.7" fill="none" stroke="#141414" stroke-width="0.9" stroke-linejoin="round"/>
<path d="M159.6,147.8 160.0,149.6 161.3,151.0 162.3,152.5 162.5,154.4 163.6,155.8 164.8,157.2 166.8,157.4 168.0,158.9 169.5,159.7 171.5,161.8 172.6,163.0 174.1,163.9 175.2,165.2 176.6,166.2 177.5,167.7 179.1,167.3 180.8,167.4 182.4,167.7 183.0,166.3 183.5,164.9 183.4,163.3 183.6,161.8 184.5,160.4 185.1,159.0" fill="none" stroke="#141414" stroke-width="0.9" stroke-linejoin="round"/>
<path d="M245.0,156.3 246.2,157.6 247.9,158.2 249.2,159.4 250.6,160.4 251.7,161.8 253.3,160.7 254.3,159.1 255.6,157.7" fill="none" stroke="#141414" stroke-width="0.9" stroke-linejoin="round"/>
<path d="M161.6,141.8 161.6,143.5 161.1,145.0 160.2,146.3 159.6,147.8" fill="none" stroke="#141414" stroke-width="0.9" stroke-linejoin="round"/>
<path d="M239.8,121.9 239.5,123.5 239.2,125.1 239.7,126.7 239.4,128.3 238.8,129.9 239.6,131.3 240.9,132.5 241.8,133.9 241.5,135.5 241.0,136.9 239.8,138.2 239.8,139.8 239.6,141.5 238.9,143.0 238.8,144.6 238.3,146.2 237.8,147.8 237.8,149.5 238.0,151.1 239.2,152.6 239.8,154.1 239.8,155.8 240.0,157.4 241.1,158.7 241.9,160.1 241.8,161.8" fill="none" stroke="#141414" stroke-width="0.9" stroke-linejoin="round"/>
<path d="M170.2,69.6 171.8,68.6 172.7,66.9 174.1,65.7 175.6,65.0 176.5,63.6 178.1,63.1 179.0,61.7 179.9,60.5 180.6,59.0 181.5,57.6 182.9,56.7 184.9,56.3 186.9,55.8 187.2,57.8 187.9,59.7 186.5,60.6 186.3,62.4 184.8,63.2 184.0,64.6 182.9,65.7 182.2,67.1 181.8,68.8 181.0,70.2 180.0,71.6 179.2,73.1 178.0,74.3 178.2,76.3 177.0,77.5 178.0,78.8 178.7,80.3 179.6,81.7 181.0,82.7 182.9,81.5" fill="none" stroke="#141414" stroke-width="0.9" stroke-linejoin="round"/>
<path d="M207.5,110.6 208.3,111.9 208.9,113.3 209.0,114.9 210.2,116.3 211.7,117.4 213.5,117.9 215.0,118.9 216.6,118.0 218.4,118.7 220.0,117.8 221.8,118.0 223.4,117.4 225.0,116.9 226.2,118.0 228.0,118.1 229.0,119.6 230.8,119.8 232.0,120.9 233.6,121.0 235.1,121.7 236.6,121.9 238.3,121.3 239.8,121.9" fill="none" stroke="#141414" stroke-width="0.9" stroke-linejoin="round"/>
<path d="M212.5,101.8 214.5,101.6 216.4,101.9 218.3,102.2 220.2,101.7 222.1,101.1 224.0,100.8" fill="none" stroke="#141414" stroke-width="0.9" stroke-linejoin="round"/>
<path d="M222.2,53.8 220.2,53.9 218.2,53.4 216.3,52.8 216.3,54.6 216.3,56.3 217.6,57.9 217.3,59.7 216.6,61.3 215.9,62.8 216.1,64.6 214.6,65.9 214.4,67.6 215.1,69.0 214.8,70.6 215.1,72.0 215.4,73.5 214.8,75.0 214.6,76.6 214.0,78.0 213.4,79.5 213.5,81.1 213.8,82.8 213.7,84.5 214.1,86.1 214.3,87.7 214.4,89.4 215.8,88.5 217.6,88.7 219.1,88.2 220.6,87.5 222.2,87.4" fill="none" stroke="#141414" stroke-width="0.9" stroke-linejoin="round"/>
<path d="M240.1,36.3 241.7,35.8 243.1,35.1 244.4,34.1 246.1,34.6 247.8,34.8 249.4,35.7 251.0,36.3 252.4,35.0 254.1,34.2 255.9,33.7 257.6,33.0 259.2,32.2 260.9,32.3 262.6,32.1 264.2,31.9 266.1,32.2 267.4,33.7 269.3,33.9 270.7,35.2 272.0,36.5 273.4,37.7 275.1,38.5 276.6,37.8 277.8,36.5 279.5,36.3 281.0,37.4 282.5,38.4 283.9,39.6 285.3,40.9 287.3,40.9 288.6,42.5 290.4,42.9 292.2,42.9 293.8,42.1 295.5,41.6 297.0,40.7 297.8,39.3 299.6,38.9 300.3,37.4 301.4,36.3 303.1,36.0 304.5,35.3 305.6,33.7 307.4,33.6 308.9,33.1 310.1,31.9 311.3,30.7 312.9,30.4 314.5,30.2 315.6,29.0 317.4,29.1 318.5,27.8 320.0,27.4" fill="none" stroke="#141414" stroke-width="0.9" stroke-linejoin="round"/>
<path d="M297.6,14.2 298.3,15.7 299.9,16.4 300.5,17.8 301.1,19.3 302.5,20.2 304.1,20.6 305.6,21.4 306.9,22.4 308.4,23.1 309.5,24.2 310.8,25.3 311.6,26.6 312.3,28.1" fill="none" stroke="#141414" stroke-width="0.9" stroke-linejoin="round"/>
<path d="M239.6,34.0 239.8,35.5 238.6,36.9 238.7,38.4 238.7,39.9 239.0,41.6 240.5,42.7 240.6,44.5 241.6,45.8 242.1,47.8 241.6,49.8 241.6,51.8 241.0,53.3 241.0,55.0 240.0,56.4 239.9,58.1 239.6,59.7 239.8,61.2 239.6,62.8 240.8,64.1 240.0,65.8 240.7,67.2 241.2,68.6 241.0,70.2 241.6,71.6 240.9,73.2 239.2,74.2 238.6,76.0 237.7,77.5 238.3,79.0 238.3,80.6 239.2,82.0 239.6,83.5 241.2,83.6 242.5,84.7 244.2,84.4 245.5,85.4" fill="none" stroke="#141414" stroke-width="0.9" stroke-linejoin="round"/>
<path d="M223.2,21.3 224.1,22.7 225.7,23.4 226.5,24.9 227.3,26.4 228.8,27.2 230.0,28.3 231.3,29.3 232.9,29.8 234.4,30.2 235.8,31.1 237.1,32.0 238.2,33.3 239.6,34.0" fill="none" stroke="#141414" stroke-width="0.9" stroke-linejoin="round"/>
<path d="M251.4,45.8 252.8,45.3 254.4,44.9 256.0,44.9 257.3,43.9 259.0,44.3 260.4,45.1 261.6,46.3 263.2,46.8 264.4,48.3 265.1,49.9 265.2,51.8 264.0,53.2 262.9,54.8 261.3,55.8 259.8,55.5 258.2,55.1 256.9,54.2 255.4,53.8 254.7,52.2 253.5,50.8 253.1,49.0 252.2,47.4 251.4,45.8" fill="none" stroke="#141414" stroke-width="0.9" stroke-linejoin="round"/>
<path d="M265.2,51.8 266.4,53.2 266.3,55.2 267.8,56.4 268.7,58.0 269.1,59.7 270.8,60.3 272.0,61.8 273.3,63.0 275.0,63.7" fill="none" stroke="#141414" stroke-width="0.9" stroke-linejoin="round"/>
<path d="M273.0,37.0 273.2,38.7 274.1,40.2 274.8,41.7 275.0,43.4 276.5,44.3 277.0,45.8" fill="none" stroke="#141414" stroke-width="0.9" stroke-linejoin="round"/>
<path d="M241.6,71.6 242.8,72.7 244.2,73.6 245.7,74.4 246.8,75.7 248.2,76.5 249.5,77.5 251.2,77.7 252.8,77.1 254.3,76.2 256.1,76.7 257.6,75.3 259.3,75.5 260.7,74.7 262.0,73.7 263.3,72.7 264.6,71.7 266.5,71.6 267.4,69.9 269.1,69.6 270.4,68.7 272.0,68.1 273.0,66.7" fill="none" stroke="#141414" stroke-width="0.9" stroke-linejoin="round"/>
<path d="M224.0,100.8 225.7,101.4 227.2,102.5 228.4,103.9 230.0,104.8 231.2,106.0 232.3,107.3 233.3,108.7 235.1,109.4 236.0,110.8 236.7,112.3 237.2,113.8 238.0,115.2 238.0,116.9 238.2,118.7 238.9,120.4 239.8,121.9" fill="none" stroke="#141414" stroke-width="0.9" stroke-linejoin="round"/>
<path d="M191.2,65.3 192.8,65.6 194.4,64.7 195.9,65.7 197.5,65.3 199.3,64.7 200.8,63.6 202.5,62.8 203.9,62.1 205.0,60.9 206.1,59.7 207.5,59.0 208.5,57.7 209.8,56.9 210.9,55.8 212.5,55.3 214.2,55.1 215.8,55.6 217.5,55.3 220.0,54.0" fill="none" stroke="#141414" stroke-width="0.9" stroke-linejoin="round"/>
<path d="M191.2,65.3 190.0,67.8 190.4,69.8 191.2,71.6 189.5,71.6 187.9,72.2 186.2,72.9 185.9,74.8 185.0,76.6 185.8,77.9 186.7,79.1 187.5,80.4 186.0,81.4 185.0,82.9 183.8,84.2 184.6,86.0 185.0,88.0 184.2,89.8 183.8,91.7 183.4,93.5 184.5,95.0 184.4,96.8 182.5,97.7 181.3,99.3 180.4,100.9 178.8,101.8" fill="none" stroke="#141414" stroke-width="0.9" stroke-linejoin="round"/>
<path d="M191.2,71.6 192.9,72.0 194.5,72.6 195.8,73.8 197.5,74.1 198.5,75.4 199.8,76.0 201.3,76.6 201.1,78.2 200.2,79.7 200.5,81.4 200.0,82.9 198.9,84.1 197.2,84.4 196.2,85.6 195.0,86.7 193.3,86.5 191.7,86.5 190.0,86.7" fill="none" stroke="#141414" stroke-width="0.9" stroke-linejoin="round"/>
<path d="M213.8,88.7 215.3,89.1 216.7,88.4 218.3,88.7 219.8,88.3 221.2,88.0 222.9,88.1 224.4,87.3 226.0,87.3 227.5,86.7 229.0,86.3 230.4,85.5 231.9,84.9 233.5,84.8 235.0,84.2 236.5,83.3 238.5,83.8 239.9,82.5 241.5,82.0 243.2,81.6 245.0,81.7" fill="none" stroke="#141414" stroke-width="0.9" stroke-linejoin="round"/>
<path d="M238.8,59.0 237.9,60.5 238.3,62.2 238.2,63.8 237.5,65.3 238.4,66.8 238.7,68.4 238.2,70.1 238.8,71.6 239.0,73.3 239.4,75.0 240.0,76.6 238.5,77.7 237.5,79.1" fill="none" stroke="#141414" stroke-width="0.9" stroke-linejoin="round"/>
<path d="M206.3,100.5 207.9,100.3 209.4,101.3 211.0,101.3 212.5,101.8 211.0,102.4 209.8,103.4 208.5,104.2 207.5,105.6 208.0,107.2 207.1,108.9 207.5,110.6" fill="none" stroke="#141414" stroke-width="0.9" stroke-linejoin="round"/>
<path d="M165.0,96.8 166.4,98.0 168.1,98.9 170.0,99.3 171.1,101.0 171.2,103.0 172.7,102.4 174.3,102.0 175.8,101.6 177.5,101.8 179.0,102.5 180.6,102.8 182.2,102.9 183.8,103.0 185.2,104.0 186.8,104.5 188.5,104.7 190.0,105.6 191.7,105.7 193.3,106.4 194.6,107.7 196.2,108.1 197.4,109.1 198.1,110.5 198.7,111.9 197.2,111.9 196.6,113.3 196.4,114.8 195.4,116.1 194.5,117.3 193.3,118.2 191.7,118.4 190.5,119.4 189.1,119.9 187.4,121.0 185.3,121.2 183.8,122.6 181.8,122.0 179.7,121.3 178.5,122.4 177.8,123.9 177.1,125.3 178.3,127.2 178.4,129.4 179.8,129.9 181.1,130.7 182.3,131.7 183.8,132.1 185.5,131.5 187.4,131.4 189.1,130.8 191.1,130.1 193.1,129.4 194.6,129.7 195.6,131.1 197.4,131.0 198.5,132.1 199.6,133.7 201.4,134.5 202.5,136.1 203.9,137.1 204.6,138.6 205.2,140.1 204.2,142.1 203.9,144.3 204.3,145.9 206.2,146.6 206.6,148.3 206.6,150.3 206.6,152.3" fill="none" stroke="#141414" stroke-width="0.9" stroke-linejoin="round"/>
<path d="M165.0,133.4 166.4,134.1 167.5,135.1 169.2,135.1 170.4,136.1 171.7,137.0 173.2,137.8 174.4,138.8 175.4,136.9 175.7,134.8 177.2,135.6 178.1,137.2 179.9,137.6 181.1,138.8" fill="none" stroke="#141414" stroke-width="0.9" stroke-linejoin="round"/>
<path d="M185.1,159.0 186.3,157.9 187.9,157.6 189.1,156.6 190.2,155.4 191.8,155.0 193.4,155.2 195.0,154.5 196.6,155.4 198.2,155.3 199.8,155.0 201.3,154.6 202.6,153.8 203.8,152.8 205.2,152.3 206.9,151.9 208.5,151.5 210.3,151.8 211.9,151.0 213.6,150.5 215.2,151.5 216.9,150.4 218.6,151.0 219.8,152.1 220.6,153.5 221.3,155.0 220.2,156.2 219.9,157.7 219.4,159.2 218.6,160.5 219.7,161.7 221.4,161.9 222.6,163.1 223.9,162.0 225.3,161.0 226.8,160.1 228.1,159.0 229.3,157.7 231.1,157.4 232.9,156.6 234.7,156.3 236.8,156.8 238.7,157.7 240.2,157.0 241.9,157.4 243.5,156.9 245.0,156.3" fill="none" stroke="#141414" stroke-width="0.9" stroke-linejoin="round"/>
<path d="M222.6,163.1 222.8,165.0 223.9,166.6 224.0,168.5 223.4,169.9 222.4,171.1 221.9,172.5 221.3,173.9 220.8,175.9 219.5,177.5 218.6,179.3 216.9,180.3 216.2,182.2 214.6,183.3" fill="none" stroke="#141414" stroke-width="0.9" stroke-linejoin="round"/>
<path d="M165.0,142.8 166.5,143.6 167.7,144.8 168.6,146.2 170.0,147.1 170.4,148.6 171.9,149.5 172.6,150.8 173.0,152.3 174.6,153.4 175.9,154.8 177.1,156.3 178.4,157.7 180.1,158.8 181.1,160.5 181.6,162.1 182.1,163.8 181.5,165.6 182.4,167.2" fill="none" stroke="#141414" stroke-width="0.9" stroke-linejoin="round"/>
<path d="M240.4,129.4 242.1,129.1 243.4,127.8 245.4,128.3 246.6,126.7 248.4,126.6 250.0,126.0 251.8,126.1 253.3,125.4 254.9,124.8 256.4,124.0 258.2,124.4 260.1,124.5 261.8,125.3 263.6,125.1 265.3,124.0 267.2,124.0 267.8,122.5 268.9,121.2 269.9,119.9 270.3,118.3 271.5,117.2 272.5,115.9 274.1,114.8 275.2,113.2" fill="none" stroke="#141414" stroke-width="0.9" stroke-linejoin="round"/>
<path d="M269.9,126.6 270.1,128.5 270.8,130.3 271.2,132.1 272.0,133.5 273.0,134.7 273.9,136.1 272.0,137.2 269.9,137.5 268.5,138.1 267.2,138.9 265.7,139.2 264.5,140.1 262.9,140.6 261.9,142.0 260.5,142.8 259.1,144.1 257.6,145.3 256.4,146.9 256.1,148.7 255.9,150.6 255.1,152.3 254.4,154.1 253.8,155.8 253.8,157.7 252.3,158.5 251.0,159.6 249.5,160.4 248.4,161.8 246.7,161.1 244.8,160.7 243.0,160.5" fill="none" stroke="#141414" stroke-width="0.9" stroke-linejoin="round"/>
<path d="M253.8,157.7 254.9,158.8 256.1,159.7 256.9,161.0 258.4,161.7 259.1,163.1 259.7,164.9 259.7,166.8 260.5,168.5" fill="none" stroke="#141414" stroke-width="0.9" stroke-linejoin="round"/>
<path d="M273.9,136.1 275.4,135.4 276.7,134.4 277.9,133.4 279.1,132.3 280.5,131.6 281.9,130.8 283.2,129.8 284.7,129.0 286.0,128.0" fill="none" stroke="#141414" stroke-width="0.9" stroke-linejoin="round"/>
<path d="M275.2,113.2 276.6,114.0 277.7,115.1 279.2,115.9 280.7,116.7 282.5,116.2 284.0,116.9" fill="none" stroke="#141414" stroke-width="0.9" stroke-linejoin="round"/>
<path d="M255.1,111.9 254.5,113.6 253.9,115.4 253.8,117.3 254.2,119.1 254.3,121.0 254.5,122.9" fill="none" stroke="#141414" stroke-width="0.9" stroke-linejoin="round"/>
<path d="M245.7,86.7 247.1,87.8 249.1,87.2 250.5,88.3 252.1,88.8 254.2,87.9 256.4,87.8 258.5,88.6 260.7,88.8 262.0,90.4 263.9,91.0 265.6,90.8 267.2,90.5 268.6,89.2 270.4,88.8 272.6,88.4 274.7,87.8 276.3,86.7 277.9,85.6 278.9,83.5" fill="none" stroke="#141414" stroke-width="0.9" stroke-linejoin="round"/>
<path d="M255.4,93.1 255.7,94.9 256.4,96.5 255.0,95.9 253.6,95.2 252.1,94.7 250.7,95.9 250.0,97.5 249.3,98.9 248.7,100.4 247.9,101.8 248.9,104.0 250.2,105.5 252.1,106.1 253.0,108.2 253.2,110.4 251.1,112.6 252.0,114.3 253.2,115.8 254.4,117.4 255.4,119.1 254.6,120.6 254.3,122.3" fill="none" stroke="#141414" stroke-width="0.9" stroke-linejoin="round"/>
<path d="M235.0,106.1 237.0,106.4 238.4,108.1 240.4,108.2 242.2,108.8 244.1,109.2 245.7,110.4 247.6,110.9 249.3,111.7 251.1,112.6" fill="none" stroke="#141414" stroke-width="0.9" stroke-linejoin="round"/>
<path d="M266.1,95.3 267.6,96.6 268.2,98.6 269.4,100.1 270.4,101.8 271.5,102.8 272.5,104.0 271.7,105.5 271.4,107.2 272.6,108.7 273.6,110.4 274.9,111.9 275.7,113.7 277.1,115.1 277.9,116.9 276.6,118.1 275.3,119.3 274.6,120.9 273.6,122.3 272.2,123.7 270.4,124.4 268.6,125.2 267.2,126.6" fill="none" stroke="#141414" stroke-width="0.9" stroke-linejoin="round"/>
<path d="M277.9,116.9 279.7,117.1 281.5,117.3 283.2,118.0 285.5,118.1 287.5,119.1 288.9,120.4 290.7,121.2" fill="none" stroke="#141414" stroke-width="0.9" stroke-linejoin="round"/>
<path d="M256.4,123.3 258.1,124.4 259.9,124.9 261.8,125.5 263.4,126.6 265.0,127.6" fill="none" stroke="#141414" stroke-width="0.9" stroke-linejoin="round"/>
<path d="M235.0,74.8 236.8,75.6 238.7,76.0 240.4,77.0 242.1,77.9 244.0,77.5 245.7,78.0 247.2,79.3 248.9,80.3 247.8,81.9 247.1,83.7 246.8,85.6" fill="none" stroke="#141414" stroke-width="0.9" stroke-linejoin="round"/>
<path d="M250.0,71.6 250.6,73.8 251.1,75.9 250.6,77.5 249.6,78.8 248.9,80.3" fill="none" stroke="#141414" stroke-width="0.9" stroke-linejoin="round"/>
<circle cx="220.8" cy="217.3" r="0.65" fill="#333"/>
<circle cx="226.5" cy="218.6" r="0.65" fill="#333"/>
<circle cx="230.0" cy="220.8" r="0.65" fill="#333"/>
<circle cx="222.1" cy="222.5" r="0.65" fill="#333"/>
<circle cx="223.0" cy="224.3" r="0.65" fill="#333"/>
<circle cx="228.2" cy="225.1" r="0.65" fill="#333"/>
<circle cx="224.7" cy="223.0" r="0.65" fill="#333"/>
<circle cx="222.5" cy="221.5" r="0.65" fill="#333"/>
<path d="M237.4,228.6 238.5,226.3 241.5,224.6 244.5,223.6 245.6,224.3 244.6,226.2 241.5,227.8 238.6,229.0Z" fill="none" stroke="#222" stroke-width="0.8"/>
<path d="M302.2,164.2 300.8,170.2" fill="none" stroke="#222" stroke-width="0.8"/>
<path d="M296.2,184.5 291.0,190.5" fill="none" stroke="#222" stroke-width="0.8"/>
<path d="M282.7,203.2 279.0,210.0" fill="none" stroke="#222" stroke-width="0.8"/>
<path d="M309.8,153.0 307.5,154.5" fill="none" stroke="#222" stroke-width="0.8"/>
<path d="M204.5,223.6 208.6,232.8" fill="none" stroke="#222" stroke-width="0.8"/>
</g>
<line x1="35.77" y1="232.90" x2="35.77" y2="236.50" stroke="#333" stroke-width="1"/>
<line x1="50.33" y1="232.90" x2="50.33" y2="236.50" stroke="#333" stroke-width="1"/>
<line x1="64.88" y1="232.90" x2="64.88" y2="239.90" stroke="#333" stroke-width="1"/>
<text x="64.88" y="251.50" font-size="11.4" text-anchor="middle" fill="#222" >90E</text>
<line x1="79.42" y1="232.90" x2="79.42" y2="236.50" stroke="#333" stroke-width="1"/>
<line x1="93.97" y1="232.90" x2="93.97" y2="236.50" stroke="#333" stroke-width="1"/>
<line x1="108.53" y1="232.90" x2="108.53" y2="236.50" stroke="#333" stroke-width="1"/>
<line x1="123.08" y1="232.90" x2="123.08" y2="236.50" stroke="#333" stroke-width="1"/>
<line x1="137.62" y1="232.90" x2="137.62" y2="239.90" stroke="#333" stroke-width="1"/>
<text x="137.62" y="251.50" font-size="11.4" text-anchor="middle" fill="#222" >100E</text>
<line x1="152.18" y1="232.90" x2="152.18" y2="236.50" stroke="#333" stroke-width="1"/>
<line x1="166.72" y1="232.90" x2="166.72" y2="236.50" stroke="#333" stroke-width="1"/>
<line x1="181.28" y1="232.90" x2="181.28" y2="236.50" stroke="#333" stroke-width="1"/>
<line x1="195.82" y1="232.90" x2="195.82" y2="236.50" stroke="#333" stroke-width="1"/>
<line x1="210.38" y1="232.90" x2="210.38" y2="239.90" stroke="#333" stroke-width="1"/>
<text x="210.38" y="251.50" font-size="11.4" text-anchor="middle" fill="#222" >110E</text>
<line x1="224.93" y1="232.90" x2="224.93" y2="236.50" stroke="#333" stroke-width="1"/>
<line x1="239.47" y1="232.90" x2="239.47" y2="236.50" stroke="#333" stroke-width="1"/>
<line x1="254.03" y1="232.90" x2="254.03" y2="236.50" stroke="#333" stroke-width="1"/>
<line x1="268.57" y1="232.90" x2="268.57" y2="236.50" stroke="#333" stroke-width="1"/>
<line x1="283.12" y1="232.90" x2="283.12" y2="239.90" stroke="#333" stroke-width="1"/>
<text x="283.12" y="251.50" font-size="11.4" text-anchor="middle" fill="#222" >120E</text>
<line x1="297.68" y1="232.90" x2="297.68" y2="236.50" stroke="#333" stroke-width="1"/>
<line x1="312.23" y1="232.90" x2="312.23" y2="236.50" stroke="#333" stroke-width="1"/>
<line x1="24.90" y1="225.62" x2="28.50" y2="225.62" stroke="#333" stroke-width="1"/>
<line x1="24.90" y1="211.06" x2="28.50" y2="211.06" stroke="#333" stroke-width="1"/>
<line x1="22.20" y1="196.50" x2="28.50" y2="196.50" stroke="#333" stroke-width="1"/>
<text x="20.30" y="200.80" font-size="11.4" text-anchor="end" fill="#222" >20N</text>
<line x1="24.90" y1="181.94" x2="28.50" y2="181.94" stroke="#333" stroke-width="1"/>
<line x1="24.90" y1="167.38" x2="28.50" y2="167.38" stroke="#333" stroke-width="1"/>
<line x1="24.90" y1="152.82" x2="28.50" y2="152.82" stroke="#333" stroke-width="1"/>
<line x1="24.90" y1="138.26" x2="28.50" y2="138.26" stroke="#333" stroke-width="1"/>
<line x1="22.20" y1="123.70" x2="28.50" y2="123.70" stroke="#333" stroke-width="1"/>
<text x="20.30" y="128.00" font-size="11.4" text-anchor="end" fill="#222" >30N</text>
<line x1="24.90" y1="109.14" x2="28.50" y2="109.14" stroke="#333" stroke-width="1"/>
<line x1="24.90" y1="94.58" x2="28.50" y2="94.58" stroke="#333" stroke-width="1"/>
<line x1="24.90" y1="80.02" x2="28.50" y2="80.02" stroke="#333" stroke-width="1"/>
<line x1="24.90" y1="65.46" x2="28.50" y2="65.46" stroke="#333" stroke-width="1"/>
<line x1="22.20" y1="50.90" x2="28.50" y2="50.90" stroke="#333" stroke-width="1"/>
<text x="20.30" y="55.20" font-size="11.4" text-anchor="end" fill="#222" >40N</text>
<line x1="24.90" y1="36.34" x2="28.50" y2="36.34" stroke="#333" stroke-width="1"/>
<line x1="24.90" y1="21.78" x2="28.50" y2="21.78" stroke="#333" stroke-width="1"/>
<rect x="28.50" y="14.50" width="291.00" height="218.40" fill="none" stroke="#222" stroke-width="1.1"/>
<rect x="64.88" y="50.90" width="218.25" height="145.60" fill="none" stroke="#2f69b3" stroke-width="1.2"/>
<rect x="44.90" y="255.50" width="12.06" height="9.80" fill="#0b4e95"/>
<rect x="56.66" y="255.50" width="12.06" height="9.80" fill="#0653a0"/>
<rect x="68.42" y="255.50" width="12.06" height="9.80" fill="#0858a4"/>
<rect x="80.18" y="255.50" width="12.06" height="9.80" fill="#0a78b8"/>
<rect x="91.94" y="255.50" width="12.06" height="9.80" fill="#12a0d6"/>
<rect x="103.70" y="255.50" width="23.82" height="9.80" fill="#08b4e2"/>
<rect x="127.22" y="255.50" width="12.06" height="9.80" fill="#2cb6dd"/>
<rect x="138.98" y="255.50" width="12.06" height="9.80" fill="#52c0e0"/>
<rect x="150.74" y="255.50" width="12.06" height="9.80" fill="#7ccbe3"/>
<rect x="162.50" y="255.50" width="12.06" height="9.80" fill="#a8d7e3"/>
<rect x="174.26" y="255.50" width="12.06" height="9.80" fill="#f9f0cb"/>
<rect x="186.02" y="255.50" width="12.06" height="9.80" fill="#f6e39b"/>
<rect x="197.78" y="255.50" width="12.06" height="9.80" fill="#f1cc76"/>
<rect x="209.54" y="255.50" width="12.06" height="9.80" fill="#f0b54e"/>
<rect x="221.30" y="255.50" width="23.82" height="9.80" fill="#f09d30"/>
<rect x="244.82" y="255.50" width="12.06" height="9.80" fill="#ee8633"/>
<rect x="256.58" y="255.50" width="12.06" height="9.80" fill="#ec6b34"/>
<rect x="268.34" y="255.50" width="12.06" height="9.80" fill="#e95137"/>
<rect x="280.10" y="255.50" width="12.06" height="9.80" fill="#e72e38"/>
<rect x="291.86" y="255.50" width="12.06" height="9.80" fill="#d11d30"/>
<rect x="44.90" y="255.50" width="258.72" height="9.80" fill="none" stroke="#444" stroke-width="0.9"/>
<text x="56.66" y="276.40" font-size="11.2" text-anchor="middle" fill="#222" >-1</text>
<text x="103.70" y="276.40" font-size="11.2" text-anchor="middle" fill="#222" >-0.6</text>
<text x="150.74" y="276.40" font-size="11.2" text-anchor="middle" fill="#222" >-0.2</text>
<text x="197.78" y="276.40" font-size="11.2" text-anchor="middle" fill="#222" >0.2</text>
<text x="244.82" y="276.40" font-size="11.2" text-anchor="middle" fill="#222" >0.6</text>
<text x="291.86" y="276.40" font-size="11.2" text-anchor="middle" fill="#222" >1</text>
<clipPath id="clipc"><rect x="28.5" y="298.25" width="291.00" height="217.05"/></clipPath>
<g clip-path="url(#clipc)">
<rect x="28.5" y="298.25" width="291.00" height="217.05" fill="#f09d30"/>
<path d="M28.5,298.0 100.0,298.0 92.8,301.9 81.0,303.0 61.4,309.8 63.4,319.6 67.3,337.3 61.4,353.0 63.4,362.8 73.2,376.6 81.0,388.4 81.0,402.1 79.8,408.3 83.9,431.1 88.0,440.0 86.0,462.1 100.5,468.3 115.0,470.4 128.0,471.4 145.0,468.0 165.0,470.0 180.0,468.0 185.0,470.0 185.0,516.0 28.5,516.0Z" fill="#f0b54e"/>
<path d="M100.0,298.0 222.0,298.0 222.0,305.0 200.0,312.0 185.0,318.0 170.0,320.0 150.0,318.0 130.0,314.0 110.0,312.0 95.0,306.0Z" fill="#f0b54e"/>
<path d="M28.5,298.0 75.0,298.0 63.4,303.0 50.0,306.0 47.6,307.8 53.5,319.6 55.5,333.4 49.6,347.1 47.6,356.9 55.5,368.7 65.3,380.5 67.3,390.3 65.3,402.1 69.4,412.0 73.5,430.0 77.7,455.0 83.0,463.0 95.0,468.0 110.0,472.0 125.0,474.0 145.0,472.0 160.0,476.0 165.0,490.0 162.0,516.0 28.5,516.0Z" fill="#f1cc76"/>
<path d="M130.0,300.0 160.0,301.0 175.0,306.0 170.0,312.0 150.0,313.0 135.0,308.0Z" fill="#f1cc76"/>
<path d="M150.0,318.0 165.0,318.0 183.0,321.0 180.0,327.0 165.0,327.0 153.0,324.0Z" fill="#f1cc76"/>
<path d="M28.5,305.9 33.9,309.8 39.8,317.6 41.8,327.5 39.8,337.3 35.9,353.0 33.9,360.9 39.8,368.7 51.6,376.6 53.5,388.4 49.6,402.1 57.0,412.4 63.0,424.8 69.4,441.4 73.5,453.8 79.8,460.0 60.0,466.0 40.0,472.0 28.5,475.0Z" fill="#f6e39b"/>
<path d="M28.5,298.0 52.0,298.0 45.0,303.0 35.0,304.0 28.5,303.0Z" fill="#f6e39b"/>
<path d="M128.0,478.0 145.0,478.0 155.0,490.0 155.0,516.0 124.0,516.0 120.0,495.0Z" fill="#f6e39b"/>
<path d="M28.5,315.0 31.0,323.5 32.9,331.4 31.9,341.2 30.0,349.1 28.5,352.0Z" fill="#f9f0cb"/>
<path d="M28.5,376.0 35.9,378.5 41.8,382.5 43.7,390.3 39.8,400.2 57.0,412.4 61.1,424.8 59.1,433.1 48.7,435.2 38.4,433.1 28.5,431.1Z" fill="#f9f0cb"/>
<path d="M28.5,462.0 33.0,468.0 30.0,481.0 28.5,481.0Z" fill="#f9f0cb"/>
<path d="M126.0,482.0 136.0,480.0 142.0,492.0 140.0,512.0 126.0,512.0 122.0,495.0Z" fill="#f9f0cb"/>
<path d="M30.0,404.1 40.4,403.1 48.7,410.4 47.7,418.6 40.4,423.8 32.1,422.8 29.0,414.0Z" fill="#a8d7e3"/>
<path d="M33.0,406.0 41.0,406.0 45.0,412.0 43.0,418.0 36.0,420.0 32.0,414.0Z" fill="#7ccbe3"/>
<path d="M28.5,468.0 32.0,470.0 31.0,479.0 28.5,479.0Z" fill="#a8d7e3"/>
<path d="M83.9,464.2 100.5,468.3 115.0,472.5 123.2,482.8 125.3,497.3 123.2,507.7 115.0,512.0 100.0,512.0 92.0,500.0 88.0,485.0Z" fill="#a8d7e3"/>
<path d="M90.1,472.5 106.7,476.6 117.0,484.9 119.1,497.3 115.0,505.6 106.0,509.0 96.0,505.0 92.0,490.0Z" fill="#52c0e0"/>
<path d="M92.2,480.7 104.6,482.8 110.8,489.0 112.9,499.4 108.7,506.6 100.5,509.7 96.0,498.0 93.0,488.0Z" fill="#08b4e2"/>
<path d="M187.0,298.0 222.0,298.0 222.0,305.0 210.0,307.5 195.0,307.5 187.0,303.0Z" fill="#f1cc76"/>
<path d="M215.0,314.0 245.0,316.0 246.0,335.0 243.0,350.0 245.0,364.0 232.0,366.0 215.0,362.0Z" fill="#f1cc76"/>
<path d="M215.0,340.0 232.0,338.0 240.0,350.0 236.0,362.0 215.0,362.0Z" fill="#f0b54e"/>
<path d="M215.0,320.0 231.0,320.0 233.0,330.0 228.0,338.0 215.0,338.0Z" fill="#f6e39b"/>
<path d="M217.0,324.0 227.0,324.0 228.0,332.0 218.0,334.0Z" fill="#f9f0cb"/>
<path d="M202.0,324.0 215.0,322.0 226.0,324.0 226.0,338.0 214.0,340.0 204.0,334.0Z" fill="#f1cc76"/>
<path d="M228.0,372.0 250.0,368.0 268.0,378.0 275.0,392.0 270.0,404.0 255.0,406.0 238.0,402.0 228.0,390.0Z" fill="#f1cc76"/>
<path d="M233.0,376.0 252.0,374.0 266.0,384.0 268.0,396.0 258.0,400.0 242.0,398.0 233.0,388.0Z" fill="#f6e39b"/>
<path d="M239.0,380.0 252.0,379.0 260.0,388.0 257.0,394.0 245.0,393.0 239.0,388.0Z" fill="#f9f0cb"/>
<path d="M110.8,418.6 120.0,416.0 125.3,420.0 124.0,429.0 114.0,430.0Z" fill="#e95137"/>
<path d="M124.0,398.0 132.0,396.0 135.0,404.0 130.0,412.0 124.0,408.0Z" fill="#e95137"/>
<path d="M163.6,417.0 180.0,414.0 195.0,416.0 207.0,420.0 207.0,438.7 195.0,440.0 183.4,452.5 170.0,452.0 153.7,445.0 153.7,428.8Z" fill="#ee8633"/>
<path d="M255.6,424.8 270.0,422.0 281.4,424.0 281.4,440.6 270.0,442.0 259.0,440.0Z" fill="#ee8633"/>
<path d="M224.0,419.0 236.0,419.0 237.0,431.0 226.0,431.0Z" fill="#ee8633"/>
<path d="M265.0,370.0 280.0,368.0 286.0,375.0 285.0,386.4 275.0,388.0 266.0,380.0Z" fill="#ee8633"/>
<path d="M275.0,352.0 290.0,351.0 301.0,354.0 300.0,358.5 285.0,358.5 276.0,357.0Z" fill="#ee8633"/>
<path d="M269.0,410.0 278.0,406.0 282.0,412.0 278.0,420.0 270.0,420.0Z" fill="#f1cc76"/>
<path d="M281.0,382.0 292.0,384.0 295.0,398.0 285.0,398.0Z" fill="#f0b54e"/>
<path d="M77.4,336.6 92.4,330.2 103.1,330.2 118.1,334.5 131.0,335.6 138.9,337.9 151.8,347.5 158.2,357.2 163.0,370.0 171.1,378.0 177.5,386.1 179.1,395.7 175.9,405.4 177.5,415.0 183.4,430.0 183.4,452.5 170.0,452.0 153.7,445.0 140.0,445.0 128.0,451.8 110.8,453.8 94.3,447.6 83.9,431.1 79.8,410.0 79.5,383.8 83.8,368.8 79.5,353.8Z" fill="#ee8633"/>
<path d="M113.2,344.3 119.6,341.9 130.9,342.7 142.2,345.9 148.6,352.3 147.0,360.4 138.9,366.8 142.2,373.2 151.8,376.4 156.6,379.7 150.2,382.9 142.2,386.1 148.0,400.0 150.0,415.0 140.0,430.0 132.0,440.0 128.0,447.6 115.0,449.7 100.5,445.5 90.1,433.1 88.0,416.6 100.0,412.0 115.0,408.0 119.6,395.0 119.6,373.2 116.4,366.8 111.6,357.2Z" fill="#ec6b34"/>
<path d="M110.8,418.6 120.0,416.0 125.3,420.0 124.0,429.0 114.0,430.0Z" fill="#e95137"/>
<path d="M124.0,398.0 132.0,396.0 135.0,404.0 130.0,412.0 124.0,408.0Z" fill="#e95137"/>
<path d="M172.0,345.0 190.0,343.0 208.0,348.0 212.0,365.0 210.0,385.0 195.0,388.0 180.0,385.0 172.0,370.0Z" fill="#f0b54e"/>
<path d="M177.5,349.0 195.0,347.0 206.5,354.0 208.0,370.0 204.0,381.0 190.0,382.0 179.0,375.0 176.0,362.0Z" fill="#f1cc76"/>
<path d="M180.0,353.0 196.0,352.0 203.0,360.0 203.0,375.0 192.0,376.0 181.0,368.0Z" fill="#f6e39b"/>
<path d="M185.0,390.0 200.0,388.0 215.0,386.0 224.0,388.0 224.0,410.0 210.0,415.0 195.0,415.0 185.0,405.0Z" fill="#ee8633"/>
<path d="M30.0,390.6 35.0,390.6 35.5,401.0 30.0,401.0Z" fill="#a8d7e3"/>
<path d="M165.0,395.0 190.0,392.0 224.0,392.0 226.0,405.0 222.0,420.0 221.0,437.0 205.0,436.0 192.0,438.0 183.0,445.0 170.0,440.0 165.0,430.0Z" fill="#ee8633"/>
<path d="M198.0,397.0 215.0,396.0 232.0,398.0 233.0,408.0 222.0,412.0 205.0,413.0 198.0,408.0Z" fill="#ec6b34"/>
<path d="M224.0,419.0 237.4,419.0 237.4,432.5 224.0,432.5Z" fill="#ee8633"/>
<path d="M262.0,408.0 272.0,406.0 279.0,410.0 279.0,422.0 268.0,423.0 262.0,418.0Z" fill="#f0b54e"/>
<path d="M186.0,447.0 200.0,440.0 215.0,438.5 235.0,438.0 255.0,440.0 275.0,440.0 281.0,441.0 270.0,448.0 255.0,456.0 240.0,462.0 229.0,466.5 210.0,467.0 195.0,466.0 186.0,458.0Z" fill="#f0b54e"/>
<path d="M198.4,452.0 210.0,447.0 222.0,446.4 226.0,452.0 225.5,465.6 210.0,466.0 200.0,463.0Z" fill="#f1cc76"/>
<path d="M244.0,445.0 255.0,443.0 263.0,445.0 264.0,452.0 255.0,455.0 246.0,454.0Z" fill="#f1cc76"/>
<path d="M233.4,439.4 241.6,439.4 238.0,449.6 236.0,449.6Z" fill="#f09d30"/>
<path d="M77.1,339.3 86.9,338.3 96.8,340.2 100.7,345.2 98.7,353.0 102.7,364.8 98.7,368.7 92.8,362.8 90.9,355.0 83.0,351.0 79.1,345.2Z" fill="url(#stip)"/>
<path d="M124.0,350.0 140.0,349.0 150.0,354.0 149.5,363.0 138.0,364.0 126.0,362.0Z" fill="url(#stip)"/>
<path d="M153.7,428.8 170.0,430.0 183.4,440.0 183.4,452.5 170.0,452.0 158.0,445.0Z" fill="url(#stip)"/>
<path d="M198.0,398.0 215.0,396.0 232.0,398.0 233.0,408.0 222.0,412.0 205.0,414.0 198.0,408.0Z" fill="url(#stip)"/>
<path d="M265.0,372.0 278.0,370.0 285.0,375.0 285.0,386.4 275.0,388.0 266.0,382.0Z" fill="url(#stip)"/>
<path d="M215.0,396.0 226.0,396.0 231.0,408.0 215.0,410.0Z" fill="url(#stip)"/>
<path d="M257.0,425.0 270.0,423.0 281.0,426.0 281.0,440.0 270.0,440.0 260.0,436.0Z" fill="url(#stip)"/>
<path d="M80.0,385.4 100.0,382.0 119.3,371.6 127.2,369.6 137.0,373.6 150.7,379.5 155.0,386.0 148.0,392.0 140.0,392.0 144.8,399.1 154.7,410.9 158.6,424.7 166.4,432.5 176.3,438.4 178.2,446.3 165.0,447.0 156.0,440.0 148.0,432.0 140.0,432.0 134.0,440.0 128.0,452.0 110.8,453.8 98.4,447.6 88.0,435.2 81.8,420.7 75.6,410.0 66.0,400.0 63.4,386.4 77.0,384.0Z" fill="url(#stip)"/>
<path d="M320.0,345.4 315.5,345.4 315.5,332.5 311.1,335.2 306.0,336.4 301.8,337.7 297.6,339.0 294.2,339.8 290.8,342.4 291.6,339.8 293.3,337.3 295.0,334.7 297.6,332.2 298.4,329.8 295.9,327.2 290.8,327.8 287.4,329.8 283.2,332.2 279.0,336.4 273.9,339.6 271.5,342.0 271.2,346.0 272.5,348.4 273.9,349.1 278.8,352.3 284.6,351.8 287.9,349.7 292.1,351.3 297.5,351.8 301.3,353.4 299.6,355.5 295.4,357.1 291.1,358.2 287.9,359.8 284.1,362.5 281.4,365.6 279.8,368.3 280.5,371.3 285.2,374.4 287.3,380.7 289.5,387.1 292.1,390.3 295.4,393.0 296.4,395.6 294.3,398.8 296.4,399.9 298.6,404.2 295.4,407.4 296.4,411.6 293.2,415.9 292.1,420.1 288.9,424.4 285.7,428.6 283.0,432.9 281.4,434.9 280.4,437.9 276.1,441.7 272.9,443.7 268.6,447.4 265.4,450.7 260.0,454.4 255.7,456.0 250.4,458.2 246.1,459.1 241.8,460.2 237.5,462.3 234.3,463.4 230.7,465.4 226.4,466.5 222.1,467.5 217.9,468.6 215.5,469.7 214.5,472.7 214.0,475.6 212.5,478.1 209.0,478.1 207.5,475.6 206.8,471.7 206.5,469.2 205.0,467.5 200.7,466.5 196.4,467.5 192.7,468.6 187.9,470.2 184.1,473.4 181.4,476.5 179.3,480.8 178.8,485.1 180.4,488.8 182.5,491.4 185.2,494.6 188.9,498.9 192.1,503.2 196.0,508.4 199.0,512.4 200.8,515.4 320.0,515.4Z" fill="#fff"/>
<path d="M28.0,483.4 29.8,483.4 36.8,479.9 42.9,470.4 45.5,468.6 50.8,465.1 52.5,467.7 57.8,466.9 65.7,465.1 70.9,460.7 75.3,459.0 78.8,462.5 80.6,467.7 84.1,473.9 89.3,479.0 91.9,482.5 96.3,490.4 98.1,499.1 97.2,507.7 99.8,509.5 105.1,507.7 110.3,504.3 115.6,501.7 119.1,505.2 122.6,515.4 28.0,515.4Z" fill="#fff"/>
<path d="M200.7,484.0 202.9,481.9 207.1,480.3 211.4,479.2 215.7,479.2 217.3,480.3 215.7,483.0 214.1,486.2 211.4,489.4 207.1,491.4 203.4,491.0 200.7,489.4 200.2,486.2Z" fill="#f0b54e" stroke="#111" stroke-width="0.8"/>
<path d="M61.5,460.7 66.6,460.7 66.6,466.2 61.5,466.2Z" fill="#d2d2d2"/>
<path d="M78.4,460.7 82.7,460.7 82.7,467.2 78.4,467.2Z" fill="#d2d2d2"/>
<path d="M32.3,475.4 40.9,475.4 40.9,479.6 32.3,479.6Z" fill="#d2d2d2"/>
<path d="M39.8,468.0 44.1,468.0 44.1,475.4 39.8,475.4Z" fill="#d2d2d2"/>
<path d="M87.0,475.4 91.3,475.4 91.3,479.1 87.0,479.1Z" fill="#d2d2d2"/>
<path d="M105.3,503.2 112.0,503.2 112.0,507.0 105.3,507.0Z" fill="#d2d2d2"/>
<path d="M120.0,501.5 126.0,501.5 126.0,505.0 120.0,505.0Z" fill="#d2d2d2"/>
<path d="M184.5,468.7 190.0,468.7 190.0,476.6 184.5,476.6Z" fill="#d2d2d2"/>
<path d="M179.0,488.6 184.0,488.6 184.0,495.5 179.0,495.5Z" fill="#d2d2d2"/>
<path d="M186.0,507.4 192.0,507.4 192.0,514.4 186.0,514.4Z" fill="#d2d2d2"/>
<path d="M237.0,460.7 245.0,460.7 245.0,464.7 237.0,464.7Z" fill="#d2d2d2"/>
<path d="M265.0,448.8 270.0,448.8 270.0,452.8 265.0,452.8Z" fill="#d2d2d2"/>
<path d="M276.0,434.9 281.0,434.9 281.0,440.9 276.0,440.9Z" fill="#d2d2d2"/>
<path d="M285.7,383.9 288.5,383.9 288.5,388.7 285.7,388.7Z" fill="#d2d2d2"/>
<path d="M279.0,424.4 283.0,424.4 283.0,430.8 279.0,430.8Z" fill="#d2d2d2"/>
<path d="M280.3,330.8 286.1,330.8 286.1,333.7 280.3,333.7Z" fill="#d2d2d2"/>
<path d="M272.1,337.8 275.0,337.8 275.0,340.1 272.1,340.1Z" fill="#d2d2d2"/>
<path d="M277.4,336.6 280.3,336.6 280.3,340.1 277.4,340.1Z" fill="#d2d2d2"/>
<path d="M294.3,357.7 296.6,357.7 296.6,362.0 294.3,362.0Z" fill="#d2d2d2"/>
<path d="M250.0,457.8 256.0,457.8 256.0,460.2 250.0,460.2Z" fill="#d2d2d2"/>
<path d="M225.0,465.7 230.0,465.7 230.0,468.7 225.0,468.7Z" fill="#d2d2d2"/>
<path d="M294.8,441.1 297.0,442.6 296.2,446.3 294.8,450.8 293.2,456.8 291.0,460.5 288.8,465.0 287.2,462.0 284.2,457.5 283.5,453.0 285.8,447.8 289.5,443.3 292.5,441.1Z" fill="#f09d30"/>
<path d="M292.5,441.1 294.8,441.1 297.0,442.6 296.2,446.3 290.0,448.3 285.8,448.3 289.5,443.3Z" fill="#d2d2d2"/>
<path d="M294.8,441.1 297.0,442.6 296.2,446.3 294.8,450.8 293.2,456.8 291.0,460.5 288.8,465.0 287.2,462.0 284.2,457.5 283.5,453.0 285.8,447.8 289.5,443.3 292.5,441.1Z" fill="none" stroke="#111" stroke-width="0.8"/>
<path d="M288.0,489.6 291.0,489.3 294.0,491.1 300.0,489.6 300.8,494.0 300.8,500.0 297.8,503.7 294.8,507.4 294.0,513.4 294.0,515.9 282.5,515.9 282.7,514.2 282.0,508.2 285.0,504.5 285.8,500.7 285.0,495.5 286.5,491.1Z" fill="#f09d30"/>
<path d="M288.0,489.6 291.0,489.3 294.0,491.1 300.0,489.6 300.8,494.0 300.8,500.0 297.8,503.7 294.8,507.4 294.0,513.4 294.0,515.9 282.5,515.9 282.7,514.2 282.0,508.2 285.0,504.5 285.8,500.7 285.0,495.5 286.5,491.1Z" fill="none" stroke="#111" stroke-width="0.8"/>
<path d="M320.0,345.4 317.8,345.5 315.5,345.4 315.2,343.8 315.7,342.2 315.1,340.5 315.5,338.9 315.4,337.3 315.1,335.7 315.5,334.1 315.5,332.5 314.3,333.8 312.6,334.4 311.1,335.2 309.5,336.0 307.8,336.4 306.0,336.4 303.9,337.1 301.8,337.7 299.6,338.0 297.6,339.0 296.0,339.8 294.2,339.8 292.7,341.3 290.8,342.4 291.6,339.8 293.3,337.3 295.0,334.7 296.4,333.6 297.6,332.2 298.4,329.8 297.5,328.2 295.9,327.2 294.2,327.3 292.5,327.7 290.8,327.8 288.9,328.3 287.4,329.8 286.2,331.0 284.4,331.1 283.2,332.2 281.9,333.8 280.7,335.3 279.0,336.4 277.5,337.8 275.7,338.7 273.9,339.6 272.5,340.6 271.5,342.0 271.7,344.0 271.2,346.0 272.5,348.4 273.9,349.1 275.5,350.3 277.1,351.4 278.8,352.3 280.7,352.0 282.7,352.0 284.6,351.8 286.0,350.4 287.9,349.7 290.2,350.1 292.1,351.3 293.9,351.2 295.7,351.8 297.5,351.8 299.4,352.5 301.3,353.4 299.6,355.5 297.6,356.5 295.4,357.1 293.2,357.6 291.1,358.2 289.5,359.0 287.9,359.8 286.1,361.3 284.1,362.5 282.5,363.9 281.4,365.6 279.8,368.3 280.5,371.3 282.0,372.5 283.8,373.1 285.2,374.4" fill="none" stroke="#111" stroke-width="1.0" stroke-linejoin="round"/>
<path d="M285.2,374.4 285.5,375.7 286.0,376.9 285.8,378.4 286.5,379.6 287.3,380.7 288.1,381.9 287.4,383.6 289.3,384.3 289.2,385.8 289.5,387.1 290.0,388.5 291.7,388.8 292.1,390.3 293.2,391.2 294.8,391.4 295.4,393.0 295.6,394.4 296.4,395.6 295.0,397.0 294.3,398.8 296.4,399.9 297.0,401.4 297.3,403.1 298.6,404.2 297.8,405.5 296.2,406.1 295.4,407.4 295.6,408.8 295.9,410.3 296.4,411.6 295.7,412.8 294.3,413.4 293.4,414.4 293.2,415.9 292.9,417.3 292.2,418.6 292.1,420.1 291.9,421.6 290.2,422.0 289.5,423.1 288.9,424.4 287.4,424.9 286.8,426.2 286.8,427.8 285.7,428.6 285.0,430.2 283.6,431.3 283.0,432.9 281.4,434.9 281.7,436.7 280.4,437.9 279.4,438.9 278.6,440.2 277.6,441.2 276.1,441.7 274.9,443.4 272.9,443.7 271.5,444.3 271.2,446.1 270.0,446.8 268.6,447.4 267.7,448.7 266.0,449.1 265.4,450.7 264.7,452.1 263.3,452.2 262.1,452.8 260.7,453.1 260.0,454.4 258.4,454.4 256.9,454.8 255.7,456.0 254.5,456.9 253.1,457.2 251.8,457.8 250.4,458.2 248.8,457.8 247.3,458.0 246.1,459.1 244.8,460.1 243.4,460.4 241.8,460.2 240.6,461.4 239.1,462.1 237.5,462.3 235.9,462.9 234.3,463.4 233.0,463.9 232.1,465.1 230.7,465.4 229.5,466.6 227.9,466.2 226.4,466.5 225.0,467.0 223.5,467.0 222.1,467.5 220.5,467.1 219.2,467.9 217.9,468.6 216.7,469.1 215.5,469.7 214.8,471.1 214.5,472.7 213.9,474.1 214.0,475.6 213.9,477.3 212.5,478.1 210.7,477.4 209.0,478.1 208.7,476.6 207.5,475.6" fill="none" stroke="#111" stroke-width="1.5" stroke-linejoin="round"/>
<path d="M207.5,475.6 207.4,473.6 206.8,471.7 206.5,469.2 205.0,467.5 202.9,466.7 200.7,466.5 198.6,467.1 196.4,467.5 194.6,468.1 192.7,468.6 191.2,469.4 189.5,469.5 187.9,470.2 186.9,471.5 185.6,472.6 184.1,473.4 182.9,475.1 181.4,476.5 180.6,478.8 179.3,480.8 179.2,483.0 178.8,485.1 179.9,486.8 180.4,488.8 181.8,489.9 182.5,491.4 184.1,492.9 185.2,494.6 186.7,495.8 187.7,497.4 188.9,498.9 190.3,500.1 190.8,501.9 192.1,503.2 193.0,504.5 194.3,505.6 195.2,507.0 196.0,508.4 197.1,509.7 198.1,511.0 199.0,512.4" fill="none" stroke="#111" stroke-width="0.9" stroke-linejoin="round"/>
<path d="M29.8,483.4 31.3,482.2 33.4,482.0 35.3,481.2 36.8,479.9 37.6,478.5 38.5,477.2 39.1,475.6 40.0,474.3 41.0,473.0 41.8,471.6 42.9,470.4 45.5,468.6 47.4,467.7 48.8,466.0 50.8,465.1 52.5,467.7 54.2,467.0 56.1,467.6 57.8,466.9 59.4,466.6 60.9,465.8 62.5,465.9 64.0,465.0 65.7,465.1 67.0,464.0 68.6,463.3 69.8,462.1 70.9,460.7 73.2,460.1 75.3,459.0 76.6,460.0 77.7,461.3 78.8,462.5 79.7,464.1 79.7,466.1 80.6,467.7 81.4,469.3 82.1,470.9 83.4,472.2 84.1,473.9 85.6,475.0 86.5,476.7 87.7,478.1 89.3,479.0 90.3,481.0 91.9,482.5 92.5,484.2 93.4,485.8 94.3,487.3 95.7,488.7 96.3,490.4 96.6,492.1 97.2,493.8 97.8,495.5 98.2,497.3 98.1,499.1 98.1,500.9 98.0,502.6 97.4,504.3 96.9,506.0 97.2,507.7 99.8,509.5 101.5,508.9 103.5,508.8 105.1,507.7 107.1,507.0 108.8,505.8 110.3,504.3 112.0,503.3 113.7,502.3 115.6,501.7 117.0,502.7 118.1,503.8 119.1,505.2 120.0,506.8 120.1,508.6 120.5,510.4 121.1,512.1 122.0,513.7 122.6,515.4" fill="none" stroke="#111" stroke-width="0.9" stroke-linejoin="round"/>
<path d="M110.5,368.7 112.1,369.1 113.7,369.6 115.5,369.4 117.0,370.1 118.6,370.6 120.3,370.7 122.2,371.1 124.1,371.4 126.1,371.4 128.0,371.7 129.4,370.6 131.1,370.0 132.4,368.8 134.0,368.0 135.3,366.9 136.6,365.8 137.5,364.3 138.8,363.2 140.0,362.0 141.6,363.6 143.6,364.8 145.3,364.6 146.9,363.9 148.5,363.5 150.2,363.2 151.9,363.4 153.5,362.8 155.2,362.7 156.7,361.9 158.4,362.1 160.1,361.9 161.7,361.3 163.3,360.9 164.7,359.8 166.3,359.0 167.6,357.7 169.0,356.7 170.8,356.3 172.1,355.0 172.9,353.6 173.6,352.1 174.6,350.7 175.1,349.1 176.4,348.1 177.9,347.3 179.1,346.3 180.2,345.0 181.5,344.0 182.9,343.2 184.1,341.8 185.4,340.5 186.9,339.3 187.3,337.3 187.4,335.3 187.9,333.4 189.1,332.1 190.2,330.8 191.8,329.9 192.8,328.5 194.4,328.2 196.1,328.1 197.7,328.1 199.4,328.1 201.0,327.6 202.6,327.5 204.2,328.1 205.9,328.1 207.5,328.5 209.1,328.8 210.8,328.8 212.4,329.4 214.0,330.0 215.6,330.4 217.3,330.9 218.6,332.0 220.3,332.4 221.5,334.2 222.2,336.3 221.6,337.8 220.8,339.2 220.2,340.7 219.7,342.3 218.9,343.7 218.3,345.2 217.9,346.8 217.4,348.4 217.6,350.2 216.9,351.7 216.8,353.4 216.3,355.0 216.0,356.7 215.2,358.2 214.8,359.9 214.3,361.5 213.7,363.1 213.4,364.8 213.1,366.8 213.4,368.8 213.3,370.7 213.4,372.7 215.1,371.7 216.7,370.7 218.4,369.8 220.0,368.7 221.7,368.8 223.4,369.0 225.2,369.1 226.9,369.5 228.6,369.5 230.3,369.7 232.1,369.9 233.8,369.7 235.5,369.4 237.1,369.5 238.8,369.6 240.5,369.4 242.1,368.7 243.8,368.6 245.5,368.7 246.8,367.7 248.0,366.5 249.3,365.6 250.6,364.5 252.2,363.9 253.4,362.8 254.9,362.1 256.3,361.4 257.5,360.1 259.1,359.6 260.5,358.7 261.7,357.5 263.2,356.9 264.7,356.3 266.2,355.5 267.3,354.2 269.0,353.8 270.2,352.6 271.6,351.8 273.0,351.0 274.3,349.7 275.0,348.1" fill="none" stroke="#3f6fa6" stroke-width="0.95" stroke-linejoin="round"/>
<path d="M140.0,362.0 140.2,363.7 141.0,365.1 141.2,366.8 141.6,368.4 142.0,370.0 143.3,371.4 144.7,372.9 145.8,374.4 147.0,376.0 148.6,376.0 150.2,375.3 151.8,375.4 153.4,375.2 155.0,375.0 155.3,372.9 156.2,371.0 157.0,369.0 155.3,368.2 153.5,367.5 151.6,367.0 150.0,366.0 148.5,365.4 146.8,365.2 145.3,364.8 143.6,364.8" fill="none" stroke="#3f6fa6" stroke-width="0.95" stroke-linejoin="round"/>
<path d="M71.2,374.6 72.9,374.5 74.6,374.7 76.3,374.7 77.9,375.4 79.6,375.2 81.3,375.2 83.0,375.6 84.6,375.2 86.3,375.2 87.9,374.8 89.5,374.1 91.1,373.7 92.8,373.6 94.4,373.5 96.0,372.9 97.6,372.6 99.1,371.8 100.7,371.7 102.4,372.0 103.8,373.0 105.4,373.4 107.0,373.7 108.5,374.6 109.6,375.8 111.1,376.6 112.3,377.7 113.9,378.3 114.9,379.7 116.4,380.5 117.9,381.6 118.8,383.3 120.3,384.4 121.7,385.7 123.0,387.0 124.3,388.4 125.2,390.1 125.9,391.8 127.2,393.3 128.0,395.0 128.9,396.6 129.3,398.3 130.1,399.9 130.9,401.6 131.5,403.2 131.9,405.0 132.6,406.5 132.9,408.1 133.2,409.7 133.6,411.3 133.7,412.9 134.4,414.4 134.7,416.1 135.3,417.6 135.6,419.2 135.9,420.8 137.6,421.5 138.9,422.7 140.5,423.5 141.8,424.8 142.0,426.4 142.6,428.0 143.2,429.5 143.4,431.1 143.8,432.7 145.4,433.2 147.1,432.8 148.7,433.4 150.4,433.3 152.1,433.5 153.7,433.7 154.6,432.1 155.1,430.3 155.9,428.6 156.6,426.9 158.1,425.9 159.7,425.0 160.9,423.6 162.5,422.8 163.9,421.6 165.3,420.4 167.0,419.7 168.6,418.7 170.2,417.8 171.9,417.1 173.4,416.3 174.9,415.9 176.5,415.4 178.2,415.4 179.6,414.6 181.2,414.0 182.8,413.8 184.0,412.6 185.7,412.1 187.1,411.1 188.4,410.0 189.6,408.9 190.9,407.9 192.3,406.9 193.8,406.1 195.3,405.2 196.6,404.1 198.2,403.4 199.6,402.4 201.3,401.9 202.6,400.7 204.5,400.7 206.2,400.0 208.0,399.4 209.9,399.6 211.7,398.7 213.5,398.5 215.0,399.1 216.6,399.6 217.9,400.6 219.4,401.4 220.8,402.1 222.3,402.8 223.9,403.5 225.2,404.6 226.8,405.3 228.2,406.3 229.7,407.1 231.0,408.3 232.7,408.2 234.3,408.0 235.9,408.0 237.6,408.3 239.0,407.1 240.4,406.0 242.0,405.0 243.4,403.9 245.0,402.9 246.3,401.7 248.0,402.5 249.8,403.2 251.5,403.9 253.4,404.3 255.1,405.0 256.5,404.2 258.2,403.9 259.4,402.6 261.0,402.3 262.5,401.5 263.9,400.7 265.2,399.7 266.9,399.4 268.4,398.7 269.7,397.8 271.2,397.2 272.6,396.3 274.2,395.6 275.4,394.3 277.0,393.6 278.5,392.6 280.1,391.9 281.4,390.8 283.2,390.8 284.9,390.6 286.6,390.2 288.4,390.2 290.1,389.7 291.6,390.6 293.1,391.4 294.7,392.0" fill="none" stroke="#3f6fa6" stroke-width="0.95" stroke-linejoin="round"/>
<path d="M92.8,298.0 94.4,298.4 96.0,299.0 97.4,299.8 98.8,300.8 100.4,301.3 101.5,302.8 103.1,303.2 104.6,303.9 105.4,305.5 106.4,306.9 107.3,308.4 108.5,309.8 109.5,311.4 111.0,312.8 111.5,314.7 113.3,315.1 115.0,315.0 116.8,314.7 118.5,314.7 120.3,314.7 121.8,315.0 123.4,314.4 124.9,315.3 126.5,314.9 128.0,315.3 129.6,314.7 131.3,314.8 133.0,315.3 134.7,314.6 136.4,315.2 138.1,315.4 139.7,314.7 141.2,315.0 142.8,315.2 144.3,315.6 145.8,316.2 147.3,316.6 148.9,316.8 150.4,317.1 152.1,316.8 153.5,317.6 155.2,317.5 156.8,318.0 158.3,318.9 160.1,318.7 161.7,319.3 163.3,319.6 165.1,319.4 166.7,319.8 168.3,320.3 169.8,321.1 171.4,321.5 173.1,321.6 174.8,321.3 176.3,320.4 178.1,320.1 179.7,319.6 181.3,319.1 183.0,318.6 184.5,317.8 186.4,318.4 187.8,317.3 189.6,317.9 191.3,317.5 192.8,316.7 194.2,315.8 195.8,316.0 197.4,316.1 199.0,315.9 200.4,315.0 201.9,314.4 203.4,314.0 205.1,314.6 206.5,313.7 207.9,312.9 209.5,312.8 210.8,311.8 212.4,311.8 214.0,311.8 215.2,310.4 216.9,310.7 218.3,309.8 219.6,308.5 221.2,307.5 222.2,305.9 222.1,304.2 221.2,302.6 221.2,300.9 222.6,299.7 223.2,298.0" fill="none" stroke="#141414" stroke-width="0.9" stroke-linejoin="round"/>
<path d="M111.5,314.7 110.6,316.3 110.1,318.2 108.7,319.6 107.3,320.8 105.5,320.8 103.9,321.5 102.4,322.2 100.7,322.6 99.3,323.8 97.6,324.3 96.1,325.1 94.2,325.4 92.8,326.5 91.7,328.0 89.7,328.2 88.2,329.1 86.9,330.4 87.1,332.4 85.8,334.3 86.0,336.3 86.2,337.9 86.9,339.3" fill="none" stroke="#141414" stroke-width="0.9" stroke-linejoin="round"/>
<path d="M118.4,314.7 118.6,316.5 119.9,317.9 120.3,319.6 121.4,321.0 122.4,322.5 122.8,324.4 124.3,325.5 125.6,326.8 127.2,327.8 128.6,329.1 129.9,330.4 131.3,329.7 132.7,328.9 134.2,328.5 135.8,328.5 137.7,329.3 139.7,329.4 138.6,330.9 136.7,331.7 135.8,333.4 137.4,334.1 138.9,335.1 140.2,336.3 141.7,337.3 143.4,337.5 144.9,338.3 146.2,339.6 147.8,340.1 149.5,340.2 151.2,340.4 152.8,340.1 154.5,340.2 156.1,340.1 157.8,339.5 159.4,339.3 161.0,339.4 162.5,338.4 164.1,339.0 165.6,338.4 167.2,338.3 166.6,339.9 166.4,341.5 166.2,343.2 165.4,344.7 164.7,346.1 163.3,347.1 163.9,348.9 165.3,350.1 167.2,350.7 168.6,352.0 170.2,353.0" fill="none" stroke="#141414" stroke-width="0.9" stroke-linejoin="round"/>
<path d="M86.9,339.3 88.6,339.3 90.2,339.4 91.8,340.0 93.4,340.5 95.2,339.8 96.8,340.2 98.4,340.7 100.1,340.6 101.7,341.3 103.4,341.4 105.0,341.5 106.6,342.2 108.3,342.4 109.8,343.1 111.1,344.5 112.8,344.6 114.4,345.2 115.1,343.7 116.8,342.8 117.4,341.2 119.2,341.5 120.8,340.6 122.5,340.0 124.3,340.2 126.0,340.5 127.7,341.1 129.1,342.0 130.8,342.4 132.3,343.2 133.8,344.2 135.3,344.6 136.6,345.7 137.8,346.7 139.3,347.3 140.8,347.6 142.2,348.3 143.6,349.1 145.0,349.7 146.5,350.1 147.9,350.6 149.4,350.8 150.8,351.6 151.9,353.0 153.5,353.0 155.1,354.0 156.1,355.6 157.4,356.9 157.6,358.5 157.8,360.2 158.9,361.6 159.3,363.2 159.4,364.8 158.7,366.9 157.4,368.7 158.8,369.9 160.0,371.3 161.3,372.7 162.5,374.1 164.0,375.0 165.5,376.0 167.2,376.6 168.7,378.3 169.2,380.5 170.2,381.8 170.0,383.5 170.3,385.1 171.2,386.4 173.1,386.4 175.1,386.5 177.0,386.4 178.7,384.9 181.0,384.4" fill="none" stroke="#141414" stroke-width="0.9" stroke-linejoin="round"/>
<path d="M86.9,339.3 85.3,339.7 83.5,339.4 81.9,339.9 80.3,340.1 78.6,340.3 77.1,341.2 75.6,341.9 74.1,342.5 72.5,342.8 70.9,342.8 69.3,343.2 68.1,344.5 67.3,346.1 68.4,348.0 70.2,349.1 71.0,350.7 72.1,352.1 72.9,353.7 74.2,355.0 73.2,356.9 71.3,357.9 69.3,358.9 68.2,360.4 67.3,361.9" fill="none" stroke="#141414" stroke-width="0.9" stroke-linejoin="round"/>
<path d="M28.5,365.5 30.1,364.6 31.9,364.8 33.6,364.5 34.9,363.3 36.8,363.5 38.3,362.6 39.8,361.9 41.4,361.4 43.1,360.9 44.8,360.7 46.6,360.9 48.3,360.7 49.8,359.7 51.6,359.9 53.3,359.7 54.9,360.6 56.5,361.0 58.2,361.1 59.8,361.2 61.4,361.9 63.4,362.0 65.3,361.3 67.3,361.9" fill="none" stroke="#141414" stroke-width="0.9" stroke-linejoin="round"/>
<path d="M64.3,362.8 64.5,364.8 64.3,366.7 64.3,368.7 63.6,370.2 63.8,371.8 63.3,373.4 63.6,375.0 63.4,376.6 64.2,378.0 64.6,379.5 64.3,381.2 65.3,382.5 66.8,383.1 68.5,383.0 70.2,383.1 71.6,384.0 73.2,384.4 74.8,384.9 76.5,385.0 78.2,385.1 79.7,385.9 81.3,386.6 83.0,386.4 84.7,386.4 86.4,386.5 87.9,387.2 89.6,387.6 91.1,388.3 92.8,388.4 94.5,388.4 95.9,389.5 97.5,389.8 99.1,389.9 100.7,390.3 102.4,390.6 103.6,392.0 105.5,391.9 106.8,393.1 108.5,393.3 109.9,392.5 111.3,392.0 113.0,392.1 114.4,391.3 115.8,390.4 117.6,390.3 118.8,389.1 120.3,388.4 121.8,387.8 123.3,387.7 124.9,387.7 126.5,387.8 128.0,387.4 129.3,388.5 131.2,388.3 132.6,389.2 134.0,390.0 135.6,390.2 136.8,391.5 138.6,391.1 140.0,392.0" fill="none" stroke="#141414" stroke-width="0.9" stroke-linejoin="round"/>
<path d="M131.9,405.0 132.8,406.5 133.1,408.2 133.0,409.9 132.8,411.7 133.1,413.3 133.9,414.9 134.5,416.5 135.1,418.0 136.0,419.4 137.4,420.5 138.4,421.8 138.5,423.7 139.8,424.8 140.8,426.2 142.6,426.8 143.3,428.5 144.7,429.4 145.8,430.7 147.4,431.6 148.9,432.5 150.4,433.4 151.7,434.7 153.0,433.4 154.7,432.9 156.4,432.1 158.3,432.0 159.6,430.7" fill="none" stroke="#141414" stroke-width="0.9" stroke-linejoin="round"/>
<path d="M125.0,392.0 126.0,393.4 125.7,395.4 127.1,396.7 127.6,398.3 128.0,400.0 128.7,401.5 129.6,402.7 131.0,403.7 131.9,405.0" fill="none" stroke="#141414" stroke-width="0.9" stroke-linejoin="round"/>
<path d="M28.5,417.9 30.1,417.8 31.5,418.7 33.0,419.0 34.3,420.0 35.9,419.9 37.5,419.7 39.1,420.1 40.6,420.9 42.3,420.1 43.8,420.8 45.5,420.7 47.2,421.2 48.9,421.1 50.6,420.2 52.3,420.2 54.0,420.3 55.7,420.8 56.2,423.0 57.7,424.8 59.7,422.8 60.8,421.6 62.5,421.1 63.6,419.9 65.1,420.8 67.0,420.7 68.6,421.1 70.0,422.4 71.8,422.5 73.5,422.8 75.0,423.1 76.2,424.2 77.8,424.3 79.3,424.8 80.8,425.1 81.9,426.5 83.4,426.8 85.1,427.0 86.7,426.3 88.5,426.3 89.9,424.9 91.6,424.8 93.3,424.8 94.9,424.4 96.7,424.7 98.4,424.3 99.9,423.3 101.5,422.8 103.2,422.8 104.8,422.3 106.4,422.0 108.1,422.1 109.5,420.8 111.2,420.8 112.9,420.8 114.4,420.3 116.0,420.0 117.6,419.6 119.1,418.9 120.3,420.3 121.8,421.4 123.0,422.8 123.9,424.0 124.6,425.3 125.0,426.9 126.0,428.0 126.1,429.7 125.6,431.3 124.5,432.7 124.7,434.5 124.0,436.0 124.0,437.7 123.5,439.2 122.4,440.5 122.0,442.0 122.7,443.6 122.4,445.5 123.1,447.1 124.0,448.6" fill="none" stroke="#141414" stroke-width="0.9" stroke-linejoin="round"/>
<path d="M124.0,448.6 125.3,449.6 127.0,449.3 128.6,449.5 129.9,450.5 131.3,451.7 131.9,453.5 132.7,455.1 133.9,456.5 133.5,458.0 133.2,459.6 132.5,461.0 131.9,462.4 133.4,463.0 134.8,463.6 136.3,464.2 137.9,464.4 139.8,465.1 141.8,465.3 143.8,465.4 145.5,466.4 146.2,468.4 147.8,469.4 148.6,467.6 149.8,466.1 150.7,464.4 151.9,463.3 153.4,462.6 154.2,461.1 155.7,460.4 157.6,459.8 159.6,459.5 161.6,459.5 163.1,458.9 164.8,459.6 166.4,459.0 167.9,458.5 169.5,458.5 171.0,457.9 172.7,458.1 174.0,457.0 175.5,456.5 177.5,456.5 179.4,457.5 181.4,457.5 182.3,458.8 182.9,460.3 184.8,460.9 185.4,462.4 187.4,463.4 189.3,464.4 190.7,465.3 192.2,465.8 193.6,466.4 195.3,466.4 196.9,465.8 198.5,466.2 200.0,465.9 201.6,466.0 203.2,466.4 204.5,467.4 206.1,467.5 207.5,468.4 209.1,468.4" fill="none" stroke="#141414" stroke-width="0.9" stroke-linejoin="round"/>
<path d="M159.6,430.7 160.5,432.2 160.8,434.1 162.1,435.5 163.1,437.0 163.6,438.7 164.9,440.0 166.3,441.1 168.3,441.2 169.5,442.6 171.5,444.6 172.6,445.9 173.8,447.1 175.3,447.9 176.4,449.2 177.5,450.5 179.1,450.1 180.8,450.1 182.4,450.5 182.6,449.0 183.4,447.7 183.9,446.3 183.9,444.7 184.1,443.2 185.1,441.9" fill="none" stroke="#141414" stroke-width="0.9" stroke-linejoin="round"/>
<path d="M245.0,439.2 246.5,440.1 247.5,441.5 249.3,442.1 250.5,443.3 251.7,444.6 252.7,443.0 254.6,442.2 255.6,440.6" fill="none" stroke="#141414" stroke-width="0.9" stroke-linejoin="round"/>
<path d="M161.6,424.8 161.0,426.3 161.1,427.9 160.6,429.4 159.6,430.7" fill="none" stroke="#141414" stroke-width="0.9" stroke-linejoin="round"/>
<path d="M239.8,405.0 239.7,406.6 239.3,408.2 239.0,409.7 239.5,411.4 238.8,412.9 240.1,414.0 240.6,415.7 241.8,416.9 241.4,418.4 241.0,419.9 240.5,421.4 239.8,422.8 238.9,424.2 239.2,426.0 238.5,427.5 238.4,429.2 237.8,430.7 238.3,432.3 238.2,434.0 238.4,435.6 239.6,437.1 239.8,438.7 240.6,440.1 240.5,441.7 241.6,443.0 241.8,444.6" fill="none" stroke="#141414" stroke-width="0.9" stroke-linejoin="round"/>
<path d="M170.2,353.0 171.1,351.3 173.1,350.7 174.1,349.1 175.3,348.1 176.8,347.5 177.7,346.1 179.0,345.2 180.3,344.2 180.9,342.7 181.6,341.2 182.9,340.2 184.8,339.2 186.9,339.3 187.3,341.3 187.9,343.2 186.8,344.3 185.5,345.2 185.3,347.1 183.8,347.8 182.9,349.1 182.3,350.6 181.4,352.0 181.1,353.7 180.0,355.0 179.5,356.6 178.5,357.9 177.3,359.2 177.0,360.9 178.4,361.9 179.0,363.4 179.7,365.0 181.0,366.0 182.9,364.8" fill="none" stroke="#141414" stroke-width="0.9" stroke-linejoin="round"/>
<path d="M207.5,393.8 207.5,395.4 208.8,396.5 209.0,398.0 210.7,398.6 211.7,400.4 213.2,401.5 215.0,402.0 216.7,401.6 218.2,400.8 220.1,401.5 221.6,400.5 223.4,400.8 225.0,400.0 226.3,400.9 227.6,401.9 229.4,402.0 230.4,403.5 232.0,404.0 233.6,403.9 235.1,404.3 236.6,405.0 238.2,405.2 239.8,405.0" fill="none" stroke="#141414" stroke-width="0.9" stroke-linejoin="round"/>
<path d="M212.5,385.0 214.5,384.8 216.4,384.9 218.3,385.4 220.2,384.8 222.1,384.5 224.0,384.0" fill="none" stroke="#141414" stroke-width="0.9" stroke-linejoin="round"/>
<path d="M222.2,337.3 220.2,337.1 218.2,337.1 216.3,336.3 216.9,338.0 216.5,339.8 216.6,341.5 217.3,343.2 217.2,345.0 216.1,346.3 215.3,347.8 215.5,349.6 214.4,351.0 214.3,353.0 215.5,354.9 215.4,356.9 214.8,358.3 214.3,359.8 213.8,361.3 213.4,362.8 213.8,364.4 213.8,366.1 213.8,367.8 214.2,369.4 214.0,371.1 214.4,372.7 215.9,372.2 217.5,371.8 218.9,370.9 220.7,371.2 222.2,370.7" fill="none" stroke="#141414" stroke-width="0.9" stroke-linejoin="round"/>
<path d="M240.1,319.9 241.5,319.2 242.8,318.2 244.4,317.7 245.9,318.6 247.6,319.1 249.4,319.3 251.0,319.9 252.5,318.7 254.3,318.2 255.7,317.0 257.6,316.6 259.2,315.9 260.9,316.0 262.5,315.3 264.2,315.5 265.9,316.3 267.4,317.2 269.3,317.5 270.7,318.8 272.1,320.0 273.9,320.6 275.1,322.1 276.7,321.6 278.2,320.9 279.5,319.9 281.0,321.0 282.8,321.7 283.9,323.2 285.5,324.0 287.2,324.7 288.5,326.2 290.4,326.5 291.9,325.5 293.8,325.8 295.5,325.4 297.0,324.3 298.3,323.4 299.5,322.4 300.0,320.7 301.4,319.9 303.1,319.7 304.3,318.4 306.0,318.2 307.4,317.4 308.5,315.9 310.1,315.5 311.7,315.2 313.1,314.7 314.1,313.1 315.7,312.8 317.3,312.6 318.4,311.4 320.0,311.1" fill="none" stroke="#141414" stroke-width="0.9" stroke-linejoin="round"/>
<path d="M297.6,298.0 298.2,299.5 299.8,300.2 300.2,301.8 301.8,302.4 302.5,303.9 304.0,304.6 305.2,305.8 307.1,305.8 308.4,306.8 309.6,307.9 310.3,309.3 311.5,310.4 312.3,311.8" fill="none" stroke="#141414" stroke-width="0.9" stroke-linejoin="round"/>
<path d="M239.6,317.6 239.8,319.7 239.4,321.6 238.7,323.5 239.8,324.8 239.7,326.7 240.7,328.0 241.6,329.4 241.1,331.4 242.0,333.3 241.6,335.3 240.9,336.8 241.2,338.6 240.4,340.0 239.8,341.6 239.6,343.2 240.1,344.9 239.7,346.6 240.4,348.3 240.6,350.0 240.6,351.7 241.8,353.2 241.6,355.0 240.1,356.1 239.5,357.9 238.8,359.5 237.7,360.9 237.8,362.5 238.9,363.8 238.6,365.5 239.6,366.8 241.0,367.4 242.6,367.6 243.9,368.5 245.5,368.7" fill="none" stroke="#141414" stroke-width="0.9" stroke-linejoin="round"/>
<path d="M223.2,305.0 224.4,306.1 225.7,307.1 226.4,308.7 228.1,309.3 228.6,311.1 230.0,312.0 231.5,312.5 232.7,313.7 233.8,314.9 235.4,315.3 236.8,316.2 238.3,316.6 239.6,317.6" fill="none" stroke="#141414" stroke-width="0.9" stroke-linejoin="round"/>
<path d="M251.4,329.4 252.7,328.4 254.2,327.9 255.7,327.6 257.3,327.5 258.7,328.3 260.3,328.9 261.7,329.7 263.2,330.4 263.4,332.2 264.9,333.5 265.2,335.3 264.1,336.9 262.5,337.8 261.3,339.3 259.6,339.3 258.2,338.9 256.8,338.0 255.4,337.3 254.2,335.9 253.6,334.2 252.7,332.7 252.3,330.9 251.4,329.4" fill="none" stroke="#141414" stroke-width="0.9" stroke-linejoin="round"/>
<path d="M265.2,335.3 265.9,336.9 267.1,338.3 267.4,340.1 268.3,341.6 269.1,343.2 270.8,343.8 271.8,345.6 273.7,345.9 275.0,347.1" fill="none" stroke="#141414" stroke-width="0.9" stroke-linejoin="round"/>
<path d="M273.0,320.6 273.9,322.1 274.5,323.7 274.3,325.4 275.0,327.0 275.7,328.5 277.0,329.4" fill="none" stroke="#141414" stroke-width="0.9" stroke-linejoin="round"/>
<path d="M241.6,355.0 242.7,356.3 244.3,356.9 245.7,357.7 247.2,358.5 248.1,360.1 249.5,360.9 251.1,360.6 252.7,360.1 254.4,360.1 256.0,359.5 257.8,359.7 259.3,358.9 260.8,358.3 261.9,357.0 263.7,356.8 264.6,355.1 266.3,354.7 267.6,353.7 269.1,353.0 270.2,351.8 271.4,350.6 273.0,350.1" fill="none" stroke="#141414" stroke-width="0.9" stroke-linejoin="round"/>
<path d="M224.0,384.0 225.3,385.3 227.3,385.5 228.5,387.1 230.0,388.0 230.8,389.6 232.7,390.1 233.9,391.3 234.7,392.9 236.0,394.0 236.5,395.5 236.8,397.1 237.1,398.6 238.0,400.0 239.0,401.5 239.4,403.3 239.8,405.0" fill="none" stroke="#141414" stroke-width="0.9" stroke-linejoin="round"/>
<path d="M191.2,348.8 192.8,348.5 194.4,348.2 195.9,349.2 197.5,348.8 199.3,348.2 200.9,347.3 202.5,346.2 203.4,344.8 205.2,344.7 206.4,343.7 207.5,342.5 208.7,341.5 210.2,340.9 211.2,339.6 212.5,338.8 214.2,338.4 215.8,338.3 217.5,338.8 220.0,337.5" fill="none" stroke="#141414" stroke-width="0.9" stroke-linejoin="round"/>
<path d="M191.2,348.8 190.0,351.2 190.9,353.0 191.2,355.0 189.7,356.0 188.0,356.0 186.2,356.2 185.3,358.0 185.0,360.0 185.6,361.4 186.3,362.7 187.5,363.8 186.1,364.8 185.2,366.4 183.8,367.5 184.3,369.4 185.0,371.2 184.4,373.1 183.8,375.0 183.6,376.7 184.2,378.3 184.4,380.0 183.0,381.5 181.3,382.5 179.9,383.6 178.8,385.0" fill="none" stroke="#141414" stroke-width="0.9" stroke-linejoin="round"/>
<path d="M191.2,355.0 192.6,356.1 194.5,355.9 195.8,357.3 197.5,357.5 199.1,357.8 200.2,358.9 201.3,360.0 201.2,361.6 200.3,363.1 199.8,364.6 200.0,366.2 198.6,367.0 197.6,368.3 196.0,368.7 195.0,370.0 193.3,370.2 191.7,370.3 190.0,370.0" fill="none" stroke="#141414" stroke-width="0.9" stroke-linejoin="round"/>
<path d="M213.8,372.0 215.3,372.3 216.8,371.9 218.3,371.8 219.8,371.6 221.2,371.2 222.9,371.5 224.4,370.6 226.0,370.7 227.5,370.0 229.1,369.7 230.6,369.4 232.0,368.4 233.6,368.3 235.0,367.5 236.7,367.2 238.3,366.4 239.9,365.9 241.7,366.0 243.2,364.9 245.0,365.0" fill="none" stroke="#141414" stroke-width="0.9" stroke-linejoin="round"/>
<path d="M238.8,342.5 238.0,344.0 238.5,345.7 238.4,347.3 237.5,348.8 238.3,350.2 237.6,352.0 238.6,353.4 238.8,355.0 239.6,356.6 240.1,358.2 240.0,360.0 239.1,361.6 237.5,362.5" fill="none" stroke="#141414" stroke-width="0.9" stroke-linejoin="round"/>
<path d="M206.3,383.8 207.8,384.3 209.3,384.5 210.9,384.9 212.5,385.0 211.1,385.7 210.3,387.3 208.7,387.7 207.5,388.8 207.7,390.4 207.1,392.1 207.5,393.8" fill="none" stroke="#141414" stroke-width="0.9" stroke-linejoin="round"/>
<path d="M165.0,380.0 166.5,381.2 168.1,382.1 170.0,382.5 171.1,384.2 171.2,386.2 172.9,386.4 174.5,386.1 176.0,385.8 177.5,385.0 179.2,384.9 180.7,385.3 182.3,385.5 183.8,386.2 185.5,386.4 186.7,387.9 188.3,388.5 190.0,388.8 191.5,389.5 193.0,390.4 194.6,390.8 196.2,391.2 197.3,392.4 198.3,393.5 198.7,395.0 197.2,395.0 197.0,396.6 195.6,397.6 195.5,399.2 194.5,400.4 192.8,401.5 190.9,402.2 189.1,403.0 187.6,404.4 185.7,405.1 183.8,405.7 181.7,405.3 179.7,404.4 178.6,405.6 178.1,407.2 177.1,408.4 178.0,410.3 178.4,412.4 179.5,413.6 181.1,413.8 182.3,414.8 183.8,415.1 185.6,414.8 187.2,413.7 189.1,413.8 191.1,413.0 193.1,412.4 194.5,413.0 195.7,414.0 197.2,414.3 198.5,415.1 199.7,416.6 201.1,417.8 202.5,419.1 203.7,420.2 203.9,422.0 205.2,423.1 205.0,425.3 203.9,427.2 204.5,428.7 206.0,429.6 206.6,431.2 207.2,433.2 206.6,435.2" fill="none" stroke="#141414" stroke-width="0.9" stroke-linejoin="round"/>
<path d="M165.0,416.4 166.5,416.8 167.6,418.0 168.8,418.9 170.4,419.1 172.1,419.5 173.1,420.9 174.4,421.8 175.0,419.8 175.7,417.8 176.8,419.1 178.6,419.5 179.8,420.8 181.1,421.8" fill="none" stroke="#141414" stroke-width="0.9" stroke-linejoin="round"/>
<path d="M185.1,441.9 186.3,440.9 188.0,440.6 189.0,439.3 190.7,439.2 191.8,437.9 193.4,437.6 195.0,437.6 196.6,438.1 198.2,437.9 199.8,437.9 200.9,436.8 202.6,436.7 203.6,435.4 205.2,435.2 206.9,435.2 208.6,434.8 210.3,434.6 211.9,433.9 213.6,434.1 215.2,433.7 216.9,433.8 218.6,433.9 219.6,435.2 220.0,436.8 221.3,437.9 221.1,439.5 219.5,440.4 219.8,442.2 218.6,443.3 220.1,443.9 221.4,444.8 222.6,445.9 224.2,445.2 225.3,443.8 226.5,442.6 228.2,442.0 229.3,440.6 231.0,439.8 232.9,439.6 234.7,439.2 236.7,439.9 238.7,440.6 240.3,440.5 241.9,440.2 243.5,439.7 245.0,439.2" fill="none" stroke="#141414" stroke-width="0.9" stroke-linejoin="round"/>
<path d="M222.6,445.9 223.2,447.7 223.7,449.4 224.0,451.3 223.7,452.8 222.3,453.8 221.8,455.3 221.3,456.7 220.1,458.3 219.9,460.4 218.6,462.0 217.3,463.4 215.7,464.4 214.6,466.0" fill="none" stroke="#141414" stroke-width="0.9" stroke-linejoin="round"/>
<path d="M165.0,425.8 166.2,426.9 167.8,427.6 168.8,428.9 170.0,430.0 170.3,431.5 171.8,432.4 172.6,433.7 173.0,435.2 174.5,436.4 175.6,438.0 177.1,439.2 178.1,440.9 180.1,441.6 181.1,443.3 181.8,444.9 182.0,446.6 182.3,448.3 182.4,450.0" fill="none" stroke="#141414" stroke-width="0.9" stroke-linejoin="round"/>
<path d="M240.4,412.4 242.0,411.9 243.5,410.9 245.1,410.6 246.7,409.9 248.4,409.7 250.2,409.7 251.7,408.9 253.1,407.7 255.0,408.1 256.4,407.1 258.3,407.1 260.0,407.8 261.8,408.4 263.7,408.5 265.5,407.9 267.2,407.1 268.3,405.9 268.9,404.3 269.9,403.0 270.5,401.5 271.8,400.4 272.5,399.0 273.5,397.3 275.2,396.3" fill="none" stroke="#141414" stroke-width="0.9" stroke-linejoin="round"/>
<path d="M269.9,409.7 270.7,411.4 270.9,413.3 271.2,415.1 272.6,416.1 273.1,417.7 273.9,419.1 271.8,419.5 269.9,420.5 268.0,421.2 266.3,422.2 264.5,423.1 263.1,423.9 261.9,424.9 260.5,425.8 259.4,427.4 257.7,428.4 256.4,429.8 256.1,431.6 255.3,433.3 255.1,435.2 254.2,436.9 254.3,438.8 253.8,440.6 252.4,441.5 250.9,442.4 249.8,443.7 248.4,444.6 246.5,444.5 244.9,443.5 243.0,443.3" fill="none" stroke="#141414" stroke-width="0.9" stroke-linejoin="round"/>
<path d="M253.8,440.6 254.8,442.2 256.2,443.5 257.6,444.7 259.1,445.9 259.2,447.8 259.8,449.6 260.5,451.3" fill="none" stroke="#141414" stroke-width="0.9" stroke-linejoin="round"/>
<path d="M273.9,419.1 275.3,418.3 276.5,417.3 277.9,416.4 279.1,415.3 280.7,414.8 281.9,413.8 283.0,412.5 284.6,411.9 286.0,411.0" fill="none" stroke="#141414" stroke-width="0.9" stroke-linejoin="round"/>
<path d="M275.2,396.3 276.3,397.5 277.7,398.3 279.2,399.0 280.8,399.5 282.5,399.4 284.0,400.0" fill="none" stroke="#141414" stroke-width="0.9" stroke-linejoin="round"/>
<path d="M255.1,395.0 254.8,396.8 254.3,398.6 253.8,400.4 253.9,402.3 254.4,404.1 254.5,406.0" fill="none" stroke="#141414" stroke-width="0.9" stroke-linejoin="round"/>
<path d="M245.7,370.0 247.2,370.7 248.7,371.5 250.6,371.2 252.1,372.1 254.3,371.8 256.4,371.1 258.5,371.9 260.7,372.1 262.4,373.1 263.9,374.3 265.5,374.0 267.2,373.8 269.1,373.5 270.4,372.1 272.4,371.1 274.7,371.1 276.3,370.0 277.9,368.9 278.9,366.8" fill="none" stroke="#141414" stroke-width="0.9" stroke-linejoin="round"/>
<path d="M255.4,376.4 256.3,377.9 256.4,379.7 255.1,378.8 253.7,378.1 252.1,378.0 251.0,379.3 250.0,380.7 249.7,382.3 248.5,383.5 247.9,385.0 248.9,387.2 250.5,388.3 252.1,389.3 252.4,391.5 253.2,393.6 251.1,395.7 252.1,397.3 253.2,398.9 254.2,400.6 255.4,402.2 254.5,403.7 254.3,405.4" fill="none" stroke="#141414" stroke-width="0.9" stroke-linejoin="round"/>
<path d="M235.0,389.3 236.8,390.0 238.6,390.6 240.4,391.4 242.0,392.6 244.1,392.5 245.7,393.6 247.4,394.5 249.3,394.9 251.1,395.7" fill="none" stroke="#141414" stroke-width="0.9" stroke-linejoin="round"/>
<path d="M266.1,378.6 266.9,380.4 268.2,381.8 269.7,383.1 270.4,385.0 271.0,386.5 272.5,387.2 272.1,388.9 271.4,390.4 272.9,391.7 273.6,393.6 274.9,395.1 275.7,396.8 276.9,398.3 277.9,400.0 277.3,401.7 275.8,402.8 274.7,404.1 273.6,405.4 271.9,406.3 270.4,407.5 268.9,408.7 267.2,409.7" fill="none" stroke="#141414" stroke-width="0.9" stroke-linejoin="round"/>
<path d="M277.9,400.0 279.7,400.1 281.5,400.4 283.2,401.1 285.3,401.9 287.5,402.2 288.8,403.7 290.7,404.3" fill="none" stroke="#141414" stroke-width="0.9" stroke-linejoin="round"/>
<path d="M256.4,406.4 258.2,407.2 260.1,407.6 261.8,408.6 263.2,410.0 265.0,410.7" fill="none" stroke="#141414" stroke-width="0.9" stroke-linejoin="round"/>
<path d="M235.0,358.2 236.8,358.8 238.7,359.3 240.4,360.4 242.2,360.3 243.9,361.4 245.7,361.4 247.1,362.8 248.9,363.6 248.1,365.3 247.5,367.1 246.8,368.9" fill="none" stroke="#141414" stroke-width="0.9" stroke-linejoin="round"/>
<path d="M250.0,355.0 250.5,357.2 251.1,359.3 250.7,360.9 249.1,361.9 248.9,363.6" fill="none" stroke="#141414" stroke-width="0.9" stroke-linejoin="round"/>
<circle cx="220.8" cy="499.8" r="0.65" fill="#333"/>
<circle cx="226.5" cy="501.1" r="0.65" fill="#333"/>
<circle cx="230.0" cy="503.3" r="0.65" fill="#333"/>
<circle cx="222.1" cy="505.0" r="0.65" fill="#333"/>
<circle cx="223.0" cy="506.8" r="0.65" fill="#333"/>
<circle cx="228.2" cy="507.5" r="0.65" fill="#333"/>
<circle cx="224.7" cy="505.5" r="0.65" fill="#333"/>
<circle cx="222.5" cy="504.0" r="0.65" fill="#333"/>
<path d="M237.4,511.0 238.5,508.7 241.5,507.1 244.5,506.1 245.6,506.8 244.6,508.6 241.5,510.2 238.6,511.4Z" fill="none" stroke="#222" stroke-width="0.8"/>
<path d="M302.2,447.1 300.8,453.0" fill="none" stroke="#222" stroke-width="0.8"/>
<path d="M296.2,467.2 291.0,473.2" fill="none" stroke="#222" stroke-width="0.8"/>
<path d="M282.7,485.8 279.0,492.5" fill="none" stroke="#222" stroke-width="0.8"/>
<path d="M309.8,435.9 307.5,437.4" fill="none" stroke="#222" stroke-width="0.8"/>
<path d="M204.5,506.1 208.6,515.2" fill="none" stroke="#222" stroke-width="0.8"/>
</g>
<line x1="35.77" y1="515.30" x2="35.77" y2="518.90" stroke="#333" stroke-width="1"/>
<line x1="50.33" y1="515.30" x2="50.33" y2="518.90" stroke="#333" stroke-width="1"/>
<line x1="64.88" y1="515.30" x2="64.88" y2="522.30" stroke="#333" stroke-width="1"/>
<text x="64.88" y="533.90" font-size="11.4" text-anchor="middle" fill="#222" >90E</text>
<line x1="79.42" y1="515.30" x2="79.42" y2="518.90" stroke="#333" stroke-width="1"/>
<line x1="93.97" y1="515.30" x2="93.97" y2="518.90" stroke="#333" stroke-width="1"/>
<line x1="108.53" y1="515.30" x2="108.53" y2="518.90" stroke="#333" stroke-width="1"/>
<line x1="123.08" y1="515.30" x2="123.08" y2="518.90" stroke="#333" stroke-width="1"/>
<line x1="137.62" y1="515.30" x2="137.62" y2="522.30" stroke="#333" stroke-width="1"/>
<text x="137.62" y="533.90" font-size="11.4" text-anchor="middle" fill="#222" >100E</text>
<line x1="152.18" y1="515.30" x2="152.18" y2="518.90" stroke="#333" stroke-width="1"/>
<line x1="166.72" y1="515.30" x2="166.72" y2="518.90" stroke="#333" stroke-width="1"/>
<line x1="181.28" y1="515.30" x2="181.28" y2="518.90" stroke="#333" stroke-width="1"/>
<line x1="195.82" y1="515.30" x2="195.82" y2="518.90" stroke="#333" stroke-width="1"/>
<line x1="210.38" y1="515.30" x2="210.38" y2="522.30" stroke="#333" stroke-width="1"/>
<text x="210.38" y="533.90" font-size="11.4" text-anchor="middle" fill="#222" >110E</text>
<line x1="224.93" y1="515.30" x2="224.93" y2="518.90" stroke="#333" stroke-width="1"/>
<line x1="239.47" y1="515.30" x2="239.47" y2="518.90" stroke="#333" stroke-width="1"/>
<line x1="254.03" y1="515.30" x2="254.03" y2="518.90" stroke="#333" stroke-width="1"/>
<line x1="268.57" y1="515.30" x2="268.57" y2="518.90" stroke="#333" stroke-width="1"/>
<line x1="283.12" y1="515.30" x2="283.12" y2="522.30" stroke="#333" stroke-width="1"/>
<text x="283.12" y="533.90" font-size="11.4" text-anchor="middle" fill="#222" >120E</text>
<line x1="297.68" y1="515.30" x2="297.68" y2="518.90" stroke="#333" stroke-width="1"/>
<line x1="312.23" y1="515.30" x2="312.23" y2="518.90" stroke="#333" stroke-width="1"/>
<line x1="24.90" y1="508.06" x2="28.50" y2="508.06" stroke="#333" stroke-width="1"/>
<line x1="24.90" y1="493.59" x2="28.50" y2="493.59" stroke="#333" stroke-width="1"/>
<line x1="22.20" y1="479.12" x2="28.50" y2="479.12" stroke="#333" stroke-width="1"/>
<text x="20.30" y="483.43" font-size="11.4" text-anchor="end" fill="#222" >20N</text>
<line x1="24.90" y1="464.65" x2="28.50" y2="464.65" stroke="#333" stroke-width="1"/>
<line x1="24.90" y1="450.18" x2="28.50" y2="450.18" stroke="#333" stroke-width="1"/>
<line x1="24.90" y1="435.71" x2="28.50" y2="435.71" stroke="#333" stroke-width="1"/>
<line x1="24.90" y1="421.25" x2="28.50" y2="421.25" stroke="#333" stroke-width="1"/>
<line x1="22.20" y1="406.77" x2="28.50" y2="406.77" stroke="#333" stroke-width="1"/>
<text x="20.30" y="411.07" font-size="11.4" text-anchor="end" fill="#222" >30N</text>
<line x1="24.90" y1="392.31" x2="28.50" y2="392.31" stroke="#333" stroke-width="1"/>
<line x1="24.90" y1="377.83" x2="28.50" y2="377.83" stroke="#333" stroke-width="1"/>
<line x1="24.90" y1="363.37" x2="28.50" y2="363.37" stroke="#333" stroke-width="1"/>
<line x1="24.90" y1="348.89" x2="28.50" y2="348.89" stroke="#333" stroke-width="1"/>
<line x1="22.20" y1="334.43" x2="28.50" y2="334.43" stroke="#333" stroke-width="1"/>
<text x="20.30" y="338.73" font-size="11.4" text-anchor="end" fill="#222" >40N</text>
<line x1="24.90" y1="319.95" x2="28.50" y2="319.95" stroke="#333" stroke-width="1"/>
<line x1="24.90" y1="305.49" x2="28.50" y2="305.49" stroke="#333" stroke-width="1"/>
<rect x="28.50" y="298.25" width="291.00" height="217.05" fill="none" stroke="#222" stroke-width="1.1"/>
<rect x="64.88" y="334.43" width="218.25" height="144.70" fill="none" stroke="#2f69b3" stroke-width="1.2"/>
<rect x="45.10" y="538.90" width="12.06" height="9.90" fill="#0b4e95"/>
<rect x="56.86" y="538.90" width="12.06" height="9.90" fill="#0653a0"/>
<rect x="68.62" y="538.90" width="12.06" height="9.90" fill="#0858a4"/>
<rect x="80.38" y="538.90" width="12.06" height="9.90" fill="#0a78b8"/>
<rect x="92.14" y="538.90" width="12.06" height="9.90" fill="#12a0d6"/>
<rect x="103.90" y="538.90" width="23.82" height="9.90" fill="#08b4e2"/>
<rect x="127.42" y="538.90" width="12.06" height="9.90" fill="#2cb6dd"/>
<rect x="139.18" y="538.90" width="12.06" height="9.90" fill="#52c0e0"/>
<rect x="150.94" y="538.90" width="12.06" height="9.90" fill="#7ccbe3"/>
<rect x="162.70" y="538.90" width="12.06" height="9.90" fill="#a8d7e3"/>
<rect x="174.46" y="538.90" width="12.06" height="9.90" fill="#f9f0cb"/>
<rect x="186.22" y="538.90" width="12.06" height="9.90" fill="#f6e39b"/>
<rect x="197.98" y="538.90" width="12.06" height="9.90" fill="#f1cc76"/>
<rect x="209.74" y="538.90" width="12.06" height="9.90" fill="#f0b54e"/>
<rect x="221.50" y="538.90" width="23.82" height="9.90" fill="#f09d30"/>
<rect x="245.02" y="538.90" width="12.06" height="9.90" fill="#ee8633"/>
<rect x="256.78" y="538.90" width="12.06" height="9.90" fill="#ec6b34"/>
<rect x="268.54" y="538.90" width="12.06" height="9.90" fill="#e95137"/>
<rect x="280.30" y="538.90" width="12.06" height="9.90" fill="#e72e38"/>
<rect x="292.06" y="538.90" width="12.06" height="9.90" fill="#d11d30"/>
<rect x="45.10" y="538.90" width="258.72" height="9.90" fill="none" stroke="#444" stroke-width="0.9"/>
<text x="56.86" y="559.90" font-size="11.2" text-anchor="middle" fill="#222" >-1</text>
<text x="103.90" y="559.90" font-size="11.2" text-anchor="middle" fill="#222" >-0.6</text>
<text x="150.94" y="559.90" font-size="11.2" text-anchor="middle" fill="#222" >-0.2</text>
<text x="197.98" y="559.90" font-size="11.2" text-anchor="middle" fill="#222" >0.2</text>
<text x="245.02" y="559.90" font-size="11.2" text-anchor="middle" fill="#222" >0.6</text>
<text x="292.06" y="559.90" font-size="11.2" text-anchor="middle" fill="#222" >1</text>
<clipPath id="clipd"><rect x="357.0" y="297.6" width="290.00" height="217.70"/></clipPath>
<g clip-path="url(#clipd)">
<rect x="357.0" y="297.6" width="290.00" height="217.70" fill="#f09d30"/>
<path d="M357.0,336.0 380.0,334.0 392.0,336.0 393.0,370.0 392.0,418.0 375.0,420.0 357.0,418.0Z" fill="#f0b54e"/>
<path d="M357.0,360.0 375.0,358.0 386.0,362.0 387.0,380.0 384.0,391.0 370.0,392.0 357.0,390.0Z" fill="#f1cc76"/>
<path d="M412.0,378.0 430.0,376.0 450.0,380.0 452.0,400.0 448.0,415.0 430.0,416.0 415.0,410.0Z" fill="#f0b54e"/>
<path d="M425.8,385.5 440.0,384.0 446.0,392.0 445.4,403.0 432.0,404.0 426.0,396.0Z" fill="#f1cc76"/>
<path d="M357.0,336.0 375.0,333.0 392.0,336.0 392.0,356.0 380.0,360.0 365.0,362.0 357.0,360.0Z" fill="#f0b54e"/>
<path d="M396.0,340.0 410.0,338.0 425.0,341.0 439.5,348.0 442.0,360.0 439.5,371.7 425.0,372.0 410.0,368.0 398.0,360.0Z" fill="#f0b54e"/>
<path d="M357.0,405.0 375.0,403.0 392.6,405.0 392.6,417.0 375.0,418.0 357.0,418.0Z" fill="#f0b54e"/>
<path d="M498.0,352.0 515.0,350.0 527.7,356.0 527.7,383.4 512.0,385.0 500.0,376.0Z" fill="#f0b54e"/>
<path d="M568.0,425.0 587.0,422.0 607.0,428.0 610.0,445.0 607.0,460.0 590.0,462.0 570.0,460.0 568.0,440.0Z" fill="#f0b54e"/>
<path d="M613.0,310.8 632.5,310.8 632.5,318.6 613.0,318.6Z" fill="#f0b54e"/>
<path d="M545.0,374.0 575.0,376.0 598.0,380.0 605.0,395.0 595.0,405.0 575.0,404.0 555.0,398.0 545.0,388.0Z" fill="#f0b54e"/>
<path d="M545.0,330.0 565.0,330.0 568.0,345.0 562.0,354.0 548.0,354.0Z" fill="#f0b54e"/>
<path d="M450.0,326.0 475.0,323.0 495.0,326.0 505.0,334.0 502.0,350.0 490.0,354.0 470.0,354.0 455.0,348.0 448.0,336.0Z" fill="#f1cc76"/>
<path d="M455.0,329.0 472.0,327.0 492.0,331.0 500.0,340.0 495.0,349.0 478.0,351.0 462.0,348.0 454.0,340.0Z" fill="#f6e39b"/>
<path d="M464.8,332.4 480.0,331.0 492.3,335.0 490.0,344.2 476.0,344.2 466.0,341.0Z" fill="#f9f0cb"/>
<path d="M365.0,360.0 382.0,358.0 384.0,370.0 380.0,378.0 368.0,378.0 363.0,370.0Z" fill="#f1cc76"/>
<path d="M368.8,362.0 379.0,362.0 380.6,370.0 377.0,375.6 370.0,375.6 367.0,369.0Z" fill="#f6e39b"/>
<path d="M548.0,336.0 560.0,334.0 566.0,342.0 562.0,350.0 548.0,352.0Z" fill="#f1cc76"/>
<path d="M548.0,338.0 554.0,338.0 556.0,344.0 548.0,346.0Z" fill="#f6e39b"/>
<path d="M545.0,372.0 570.0,370.0 595.0,375.0 612.0,385.0 614.0,405.0 600.0,412.0 575.0,410.0 555.0,400.0 545.0,388.0Z" fill="#f1cc76"/>
<path d="M566.0,380.0 585.0,379.0 600.0,386.0 605.0,400.0 590.0,404.0 572.0,398.0Z" fill="#f6e39b"/>
<path d="M580.0,388.0 590.0,387.0 595.0,395.0 588.0,399.0 580.0,395.0Z" fill="#f9f0cb"/>
<path d="M585.0,405.0 600.0,403.0 615.0,405.0 615.0,428.8 600.0,430.0 588.0,425.0Z" fill="#f1cc76"/>
<path d="M598.0,405.0 615.0,405.0 615.0,420.0 605.0,421.0 598.0,414.0Z" fill="#f6e39b"/>
<path d="M420.0,480.0 435.0,478.0 448.0,482.0 450.0,496.0 448.0,508.0 430.0,510.0 420.0,500.0Z" fill="#f1cc76"/>
<path d="M424.0,484.0 440.0,483.0 446.0,492.0 444.0,506.0 430.0,508.0 423.0,498.0Z" fill="#f6e39b"/>
<path d="M425.0,488.0 438.0,488.0 442.0,496.0 438.0,506.0 428.0,506.0Z" fill="#f9f0cb"/>
<path d="M426.0,492.0 434.0,492.0 436.0,502.0 430.0,508.0 425.0,502.0Z" fill="#7ccbe3"/>
<path d="M600.0,336.0 612.0,334.0 616.0,344.0 606.0,348.0Z" fill="#f0b54e"/>
<path d="M357.0,300.0 362.0,298.0 365.0,310.0 357.0,312.0Z" fill="#f0b54e"/>
<path d="M365.0,299.0 402.0,299.0 405.0,310.0 402.0,320.6 390.0,322.0 378.6,320.6 368.8,312.7 360.0,306.0Z" fill="#ee8633"/>
<path d="M368.8,301.0 378.6,301.0 380.0,306.8 372.0,307.5 368.0,305.0Z" fill="#ec6b34"/>
<path d="M380.6,310.8 396.3,310.8 398.0,318.6 385.0,319.0 380.0,315.0Z" fill="#ec6b34"/>
<path d="M579.4,328.4 593.2,328.4 601.0,336.3 597.1,348.1 587.3,356.0 577.5,361.8 571.6,357.9 575.5,346.1 577.0,336.0Z" fill="#ee8633"/>
<path d="M622.7,328.4 632.5,328.4 636.4,336.3 626.6,338.3Z" fill="#ee8633"/>
<path d="M472.6,371.7 482.5,373.6 492.3,377.5 500.2,383.4 508.0,389.3 512.0,399.2 505.0,425.0 502.5,440.6 504.5,454.5 498.5,462.4 492.6,468.4 478.7,470.3 468.0,465.0 460.0,455.0 453.0,450.0 450.0,444.0 453.0,430.0 458.0,418.0 460.0,405.0 465.0,385.0Z" fill="#ee8633"/>
<path d="M465.0,392.0 480.0,390.0 490.0,398.0 488.6,420.8 478.0,425.0 466.0,418.0 462.0,405.0Z" fill="#ec6b34"/>
<path d="M470.0,400.0 480.0,399.0 482.0,410.0 474.0,413.0 468.0,408.0Z" fill="#e95137"/>
<path d="M357.0,436.7 375.0,435.0 395.0,438.0 406.5,444.0 406.5,456.5 390.0,458.0 370.0,457.0 357.0,456.0Z" fill="#ee8633"/>
<path d="M430.0,452.5 442.0,452.5 444.0,464.4 432.0,464.4Z" fill="#ec6b34"/>
<path d="M518.0,430.7 535.0,428.0 548.0,432.0 548.0,444.6 535.0,446.0 520.0,443.0Z" fill="#ee8633"/>
<path d="M548.0,435.0 553.0,435.0 553.0,442.6 548.0,442.6Z" fill="#ec6b34"/>
<path d="M424.0,342.0 428.0,342.0 428.0,348.0 424.0,348.0Z" fill="#ee8633"/>
<path d="M541.0,308.5 546.0,308.5 546.0,313.5 541.0,313.5Z" fill="#ee8633"/>
<path d="M357.0,299.0 447.4,299.0 443.4,306.8 439.5,312.7 431.7,318.6 419.9,322.5 408.1,326.5 396.3,330.4 382.5,328.4 378.6,320.6 368.8,312.7 359.0,308.8Z" fill="url(#stip)"/>
<path d="M498.0,305.0 520.0,304.0 542.0,308.0 545.0,314.0 530.0,320.0 512.0,322.0 500.0,318.0Z" fill="url(#stip)"/>
<path d="M502.1,324.5 517.8,322.5 523.7,336.3 515.9,344.2 504.1,346.1 500.0,335.0Z" fill="url(#stip)"/>
<path d="M573.5,326.5 585.3,324.5 599.1,328.4 607.0,330.4 601.0,336.3 597.0,345.0 593.2,352.0 581.4,359.9 571.6,365.8 559.8,369.7 548.0,369.7 548.0,356.0 559.8,354.0 567.6,344.2 571.6,334.3Z" fill="url(#stip)"/>
<path d="M622.7,328.4 632.5,328.4 636.4,336.3 626.6,338.3 621.0,333.0Z" fill="url(#stip)"/>
<path d="M394.3,365.8 402.2,367.7 408.1,375.6 416.0,381.5 419.9,389.3 416.0,399.2 414.0,407.0 420.0,418.0 422.0,420.8 422.0,440.0 435.0,446.0 450.0,444.6 450.0,405.0 457.0,405.0 472.6,371.7 482.5,373.6 492.3,377.5 492.6,390.0 492.6,424.8 502.5,440.6 504.5,454.5 498.5,462.4 506.5,464.4 512.4,470.3 492.6,468.4 478.7,470.3 468.8,472.3 464.9,476.3 466.9,484.2 472.8,494.1 462.0,490.0 453.0,476.3 440.2,468.4 426.3,466.4 412.4,464.4 388.7,461.4 376.8,464.4 357.0,464.4 357.0,430.7 368.9,432.7 382.7,430.7 392.6,424.8 392.0,405.0 390.0,380.0Z" fill="url(#stip)"/>
<path d="M548.0,389.0 567.6,389.0 567.6,407.0 548.0,407.0Z" fill="url(#stip)"/>
<path d="M560.0,405.0 577.7,405.0 575.0,424.8 562.0,422.0Z" fill="url(#stip)"/>
<path d="M473.0,320.0 480.0,318.0 482.0,324.0 476.0,326.0Z" fill="url(#stip)"/>
<path d="M647.5,344.8 643.0,344.8 643.0,332.0 638.6,334.7 633.5,335.9 629.4,337.2 625.2,338.5 621.8,339.3 618.4,341.9 619.2,339.3 620.9,336.8 622.6,334.2 625.2,331.7 626.0,329.2 623.5,326.6 618.4,327.2 615.0,329.2 610.8,331.7 606.6,335.9 601.6,339.1 599.2,341.5 598.9,345.4 600.2,347.9 601.6,348.6 606.4,351.8 612.2,351.3 615.5,349.2 619.7,350.8 625.1,351.3 628.9,352.9 627.2,355.0 623.0,356.7 618.7,357.7 615.5,359.3 611.7,362.0 609.0,365.2 607.4,367.9 608.1,370.9 612.8,374.0 614.9,380.3 617.1,386.7 619.7,389.9 623.0,392.6 624.0,395.3 621.9,398.5 624.0,399.6 626.2,403.9 623.0,407.0 624.0,411.3 620.8,415.6 619.7,419.8 616.5,424.1 613.3,428.4 610.6,432.7 609.0,434.7 608.0,437.6 603.7,441.4 600.6,443.5 596.3,447.2 593.1,450.5 587.7,454.2 583.4,455.8 578.1,458.0 573.9,459.0 569.6,460.1 565.3,462.2 562.1,463.3 558.5,465.3 554.2,466.3 549.9,467.4 545.7,468.5 543.4,469.5 542.4,472.5 541.9,475.5 540.4,478.0 536.9,478.0 535.4,475.5 534.7,471.5 534.4,469.0 532.9,467.4 528.6,466.3 524.3,467.4 520.6,468.5 515.9,470.0 512.1,473.2 509.4,476.4 507.3,480.7 506.7,485.0 508.4,488.7 510.5,491.4 513.2,494.6 516.8,498.9 520.0,503.1 523.9,508.4 526.9,512.4 528.7,515.4 647.5,515.4Z" fill="#fff"/>
<path d="M356.5,483.3 358.2,483.3 365.3,479.8 371.4,470.2 373.9,468.5 379.2,465.0 380.9,467.6 386.2,466.8 394.1,465.0 399.3,460.6 403.6,458.9 407.1,462.4 408.9,467.6 412.4,473.7 417.6,478.9 420.2,482.4 424.6,490.3 426.4,499.1 425.5,507.7 428.1,509.5 433.3,507.7 438.5,504.2 443.8,501.6 447.3,505.1 450.8,515.4 356.5,515.4Z" fill="#fff"/>
<path d="M528.6,483.9 530.8,481.8 535.0,480.2 539.3,479.1 543.6,479.1 545.2,480.2 543.6,482.9 542.0,486.1 539.3,489.3 535.0,491.4 531.3,490.9 528.6,489.3 528.1,486.1Z" fill="#f0b54e" stroke="#111" stroke-width="0.8"/>
<path d="M389.9,460.6 395.0,460.6 395.0,466.1 389.9,466.1Z" fill="#d2d2d2"/>
<path d="M406.7,460.6 411.0,460.6 411.0,467.1 406.7,467.1Z" fill="#d2d2d2"/>
<path d="M360.8,475.3 369.4,475.3 369.4,479.5 360.8,479.5Z" fill="#d2d2d2"/>
<path d="M368.3,467.9 372.5,467.9 372.5,475.3 368.3,475.3Z" fill="#d2d2d2"/>
<path d="M415.3,475.3 419.6,475.3 419.6,479.0 415.3,479.0Z" fill="#d2d2d2"/>
<path d="M433.5,503.1 440.2,503.1 440.2,506.9 433.5,506.9Z" fill="#d2d2d2"/>
<path d="M448.2,501.4 454.2,501.4 454.2,504.9 448.2,504.9Z" fill="#d2d2d2"/>
<path d="M512.5,468.6 517.9,468.6 517.9,476.5 512.5,476.5Z" fill="#d2d2d2"/>
<path d="M507.0,488.5 512.0,488.5 512.0,495.5 507.0,495.5Z" fill="#d2d2d2"/>
<path d="M514.0,507.4 519.9,507.4 519.9,514.4 514.0,514.4Z" fill="#d2d2d2"/>
<path d="M564.8,460.6 572.8,460.6 572.8,464.6 564.8,464.6Z" fill="#d2d2d2"/>
<path d="M592.7,448.6 597.7,448.6 597.7,452.6 592.7,452.6Z" fill="#d2d2d2"/>
<path d="M603.6,434.7 608.6,434.7 608.6,440.6 603.6,440.6Z" fill="#d2d2d2"/>
<path d="M613.3,383.5 616.1,383.5 616.1,388.3 613.3,388.3Z" fill="#d2d2d2"/>
<path d="M606.6,424.1 610.6,424.1 610.6,430.6 606.6,430.6Z" fill="#d2d2d2"/>
<path d="M607.9,330.3 613.7,330.3 613.7,333.2 607.9,333.2Z" fill="#d2d2d2"/>
<path d="M599.8,337.3 602.7,337.3 602.7,339.6 599.8,339.6Z" fill="#d2d2d2"/>
<path d="M605.0,336.1 607.9,336.1 607.9,339.6 605.0,339.6Z" fill="#d2d2d2"/>
<path d="M621.9,357.2 624.2,357.2 624.2,361.5 621.9,361.5Z" fill="#d2d2d2"/>
<path d="M577.7,457.6 583.7,457.6 583.7,460.1 577.7,460.1Z" fill="#d2d2d2"/>
<path d="M552.8,465.6 557.8,465.6 557.8,468.6 552.8,468.6Z" fill="#d2d2d2"/>
<path d="M622.3,440.9 624.6,442.4 623.8,446.1 622.3,450.6 620.8,456.6 618.6,460.3 616.4,464.8 614.9,461.8 611.9,457.3 611.1,452.9 613.4,447.6 617.1,443.1 620.1,440.9Z" fill="#f09d30"/>
<path d="M620.1,440.9 622.3,440.9 624.6,442.4 623.8,446.1 617.6,448.1 613.4,448.1 617.1,443.1Z" fill="#d2d2d2"/>
<path d="M622.3,440.9 624.6,442.4 623.8,446.1 622.3,450.6 620.8,456.6 618.6,460.3 616.4,464.8 614.9,461.8 611.9,457.3 611.1,452.9 613.4,447.6 617.1,443.1 620.1,440.9Z" fill="none" stroke="#111" stroke-width="0.8"/>
<path d="M615.6,489.5 618.6,489.2 621.6,491.0 627.6,489.5 628.3,494.0 628.3,499.9 625.3,503.7 622.3,507.4 621.6,513.4 621.6,515.9 610.1,515.9 610.4,514.2 609.6,508.2 612.6,504.4 613.4,500.7 612.6,495.5 614.1,491.0Z" fill="#f0b54e"/>
<path d="M615.6,489.5 618.6,489.2 621.6,491.0 627.6,489.5 628.3,494.0 628.3,499.9 625.3,503.7 622.3,507.4 621.6,513.4 621.6,515.9 610.1,515.9 610.4,514.2 609.6,508.2 612.6,504.4 613.4,500.7 612.6,495.5 614.1,491.0Z" fill="none" stroke="#111" stroke-width="0.8"/>
<path d="M647.5,344.8 645.3,345.0 643.0,344.8 642.7,343.2 643.2,341.6 642.6,340.0 643.0,338.4 642.9,336.8 642.6,335.2 643.0,333.6 643.0,332.0 641.8,333.3 640.1,333.8 638.6,334.7 637.0,335.5 635.3,335.9 633.5,335.9 631.5,336.6 629.4,337.2 627.2,337.5 625.2,338.5 623.6,339.2 621.8,339.3 620.3,340.8 618.4,341.9 619.2,339.3 620.9,336.8 622.6,334.2 624.0,333.0 625.2,331.7 626.0,329.2 625.0,327.6 623.5,326.6 621.8,326.7 620.1,327.1 618.4,327.2 616.5,327.8 615.0,329.2 613.8,330.4 612.0,330.6 610.8,331.7 609.6,333.2 608.3,334.7 606.6,335.9 605.1,337.3 603.4,338.2 601.6,339.1 600.1,340.0 599.2,341.5 599.3,343.5 598.9,345.4 600.2,347.9 601.6,348.6 603.1,349.8 604.7,350.9 606.4,351.8 608.4,351.5 610.3,351.5 612.2,351.3 613.6,349.9 615.5,349.2 617.8,349.6 619.7,350.8 621.5,350.7 623.3,351.3 625.1,351.3 627.0,352.1 628.9,352.9 627.2,355.0 625.1,356.0 623.0,356.7 620.8,357.1 618.7,357.7 617.1,358.5 615.5,359.3 613.7,360.8 611.7,362.0 610.2,363.4 609.0,365.2 607.4,367.9 608.1,370.9 609.6,372.1 611.4,372.7 612.8,374.0" fill="none" stroke="#111" stroke-width="1.0" stroke-linejoin="round"/>
<path d="M612.8,374.0 613.1,375.3 613.6,376.5 613.4,378.0 614.1,379.2 614.9,380.3 615.7,381.5 615.0,383.2 616.9,383.9 616.8,385.4 617.1,386.7 617.6,388.1 619.3,388.4 619.7,389.9 620.8,390.8 622.4,391.1 623.0,392.6 623.2,394.0 624.0,395.3 622.5,396.6 621.9,398.5 624.0,399.6 624.6,401.1 624.8,402.7 626.2,403.9 625.3,405.2 623.8,405.7 623.0,407.0 623.1,408.5 623.5,409.9 624.0,411.3 623.2,412.5 621.9,413.1 620.9,414.1 620.8,415.6 620.5,417.0 619.8,418.3 619.7,419.8 619.5,421.4 617.8,421.7 617.1,422.9 616.5,424.1 615.0,424.6 614.4,425.9 614.4,427.5 613.3,428.4 612.6,429.9 611.3,431.1 610.6,432.7 609.0,434.7 609.3,436.4 608.0,437.6 607.0,438.6 606.3,440.0 605.3,441.0 603.7,441.4 602.6,443.1 600.6,443.5 599.2,444.1 598.9,445.9 597.6,446.6 596.3,447.2 595.4,448.5 593.7,448.9 593.1,450.5 592.4,451.9 591.0,452.1 589.8,452.6 588.4,452.9 587.7,454.2 586.1,454.2 584.6,454.6 583.4,455.8 582.3,456.7 580.8,457.0 579.6,457.7 578.1,458.0 576.6,457.6 575.1,457.8 573.9,459.0 572.6,460.0 571.1,460.3 569.6,460.1 568.4,461.2 566.9,461.9 565.3,462.2 563.7,462.7 562.1,463.3 560.8,463.8 559.9,465.0 558.5,465.3 557.3,466.5 555.7,466.1 554.2,466.3 552.8,466.9 551.3,466.9 549.9,467.4 548.3,466.9 547.1,467.8 545.7,468.5 544.5,469.0 543.4,469.5 542.7,471.0 542.4,472.5 541.8,474.0 541.9,475.5 541.8,477.2 540.4,478.0 538.6,477.3 536.9,478.0 536.6,476.5 535.4,475.5" fill="none" stroke="#111" stroke-width="1.5" stroke-linejoin="round"/>
<path d="M535.4,475.5 535.3,473.5 534.7,471.5 534.4,469.0 532.9,467.4 530.8,466.6 528.6,466.3 526.5,466.9 524.3,467.4 522.5,468.0 520.6,468.5 519.1,469.3 517.4,469.4 515.9,470.0 514.8,471.4 513.6,472.4 512.1,473.2 510.9,475.0 509.4,476.4 508.6,478.7 507.3,480.7 507.1,482.9 506.7,485.0 507.9,486.7 508.4,488.7 509.7,489.8 510.5,491.4 512.0,492.8 513.2,494.6 514.6,495.8 515.7,497.4 516.8,498.9 518.2,500.1 518.7,501.9 520.0,503.1 520.9,504.5 522.2,505.6 523.1,507.0 523.9,508.4 525.0,509.7 526.0,511.0 526.9,512.4" fill="none" stroke="#111" stroke-width="0.9" stroke-linejoin="round"/>
<path d="M358.2,483.3 359.8,482.1 361.9,481.9 363.7,481.1 365.3,479.8 366.1,478.4 367.0,477.1 367.5,475.5 368.4,474.1 369.5,472.9 370.3,471.5 371.4,470.2 373.9,468.5 375.9,467.6 377.3,465.8 379.2,465.0 380.9,467.6 382.6,466.8 384.5,467.5 386.2,466.8 387.8,466.4 389.3,465.7 390.9,465.7 392.4,464.9 394.1,465.0 395.4,463.9 397.0,463.1 398.2,461.9 399.3,460.6 401.5,459.9 403.6,458.9 405.0,459.9 406.1,461.1 407.1,462.4 408.0,464.0 408.1,465.9 408.9,467.6 409.8,469.1 410.4,470.8 411.7,472.1 412.4,473.7 413.9,474.8 414.8,476.5 416.0,478.0 417.6,478.9 418.6,480.9 420.2,482.4 420.8,484.1 421.7,485.7 422.6,487.2 423.9,488.6 424.6,490.3 424.9,492.0 425.4,493.8 426.1,495.4 426.5,497.2 426.4,499.1 426.4,500.8 426.2,502.5 425.6,504.2 425.2,505.9 425.5,507.7 428.1,509.5 429.8,508.9 431.7,508.7 433.3,507.7 435.3,507.0 437.0,505.8 438.5,504.2 440.2,503.3 441.9,502.3 443.8,501.6 445.2,502.6 446.3,503.8 447.3,505.1 448.1,506.7 448.3,508.6 448.7,510.4 449.3,512.1 450.2,513.7 450.8,515.4" fill="none" stroke="#111" stroke-width="0.9" stroke-linejoin="round"/>
<path d="M438.7,368.3 440.3,368.7 441.9,369.1 443.7,369.0 445.2,369.7 446.8,370.2 448.5,370.3 450.4,370.7 452.3,370.9 454.2,371.0 456.2,371.3 457.5,370.2 459.3,369.6 460.6,368.4 462.1,367.6 463.5,366.5 464.8,365.4 465.7,363.9 466.9,362.7 468.1,361.5 469.7,363.2 471.7,364.3 473.4,364.2 474.9,363.5 476.6,363.1 478.2,362.8 480.0,363.0 481.6,362.3 483.2,362.2 484.8,361.5 486.5,361.6 488.1,361.4 489.7,360.9 491.3,360.4 492.7,359.4 494.3,358.5 495.6,357.3 497.0,356.2 498.8,355.8 500.1,354.5 500.9,353.1 501.6,351.6 502.6,350.2 503.1,348.6 504.4,347.6 505.8,346.8 507.1,345.8 508.2,344.5 509.5,343.5 510.9,342.7 512.1,341.3 513.4,339.9 514.9,338.8 515.2,336.8 515.4,334.8 515.9,332.9 517.0,331.6 518.1,330.2 519.7,329.4 520.7,327.9 522.4,327.7 524.0,327.6 525.6,327.5 527.3,327.6 528.9,327.0 530.5,326.9 532.1,327.5 533.8,327.6 535.4,327.9 537.0,328.2 538.7,328.2 540.3,328.8 541.9,329.4 543.5,329.8 545.1,330.3 546.5,331.4 548.1,331.9 549.3,333.7 550.0,335.8 549.4,337.3 548.6,338.7 548.1,340.2 547.6,341.8 546.8,343.2 546.1,344.7 545.8,346.3 545.3,347.9 545.4,349.7 544.8,351.2 544.7,352.9 544.2,354.5 543.8,356.2 543.0,357.7 542.7,359.4 542.2,361.1 541.6,362.7 541.3,364.3 541.0,366.3 541.3,368.3 541.2,370.3 541.3,372.3 542.9,371.3 544.6,370.3 546.3,369.4 547.8,368.3 549.6,368.4 551.3,368.5 553.0,368.6 554.7,369.1 556.4,369.0 558.1,369.3 559.9,369.4 561.6,369.3 563.2,369.0 564.9,369.0 566.6,369.1 568.3,368.9 569.9,368.3 571.6,368.1 573.3,368.3 574.5,367.2 575.7,366.0 577.1,365.2 578.3,364.1 579.9,363.4 581.1,362.3 582.6,361.7 584.1,360.9 585.2,359.6 586.8,359.1 588.2,358.2 589.4,357.1 590.9,356.4 592.4,355.8 593.9,355.0 595.0,353.7 596.6,353.3 597.8,352.1 599.3,351.3 600.7,350.5 601.9,349.2 602.7,347.6" fill="none" stroke="#3f6fa6" stroke-width="0.95" stroke-linejoin="round"/>
<path d="M468.1,361.5 468.3,363.2 469.1,364.7 469.4,366.3 469.7,368.0 470.1,369.6 471.4,371.0 472.8,372.4 473.9,374.0 475.1,375.6 476.7,375.5 478.2,374.8 479.9,375.0 481.5,374.7 483.1,374.6 483.4,372.5 484.3,370.5 485.1,368.6 483.3,367.7 481.6,367.0 479.7,366.6 478.1,365.6 476.6,364.9 474.9,364.8 473.4,364.3 471.7,364.3" fill="none" stroke="#3f6fa6" stroke-width="0.95" stroke-linejoin="round"/>
<path d="M399.6,374.2 401.3,374.0 402.9,374.3 404.6,374.3 406.3,374.9 408.0,374.7 409.7,374.8 411.3,375.2 412.9,374.8 414.6,374.8 416.2,374.4 417.8,373.7 419.4,373.3 421.1,373.2 422.7,373.1 424.2,372.5 425.8,372.2 427.3,371.4 429.0,371.3 430.6,371.6 432.0,372.6 433.6,373.0 435.3,373.3 436.7,374.2 437.9,375.4 439.3,376.2 440.5,377.3 442.1,377.9 443.1,379.3 444.6,380.1 446.1,381.2 447.0,382.9 448.5,384.0 449.8,385.3 451.2,386.6 452.5,388.0 453.4,389.7 454.1,391.5 455.4,392.9 456.2,394.6 457.0,396.2 457.4,398.0 458.3,399.6 459.0,401.2 459.6,402.9 460.0,404.7 460.7,406.2 461.0,407.8 461.4,409.4 461.8,411.0 461.9,412.6 462.6,414.1 462.8,415.8 463.5,417.3 463.7,418.9 464.0,420.5 465.7,421.2 467.1,422.4 468.6,423.2 469.9,424.5 470.2,426.2 470.7,427.7 471.3,429.2 471.5,430.9 471.9,432.5 473.5,432.9 475.2,432.5 476.8,433.2 478.5,433.1 480.1,433.3 481.8,433.5 482.7,431.8 483.1,430.0 483.9,428.3 484.7,426.6 486.2,425.7 487.8,424.7 488.9,423.3 490.6,422.5 492.0,421.3 493.3,420.1 495.0,419.4 496.6,418.4 498.2,417.5 499.9,416.8 501.4,416.0 502.9,415.6 504.5,415.1 506.2,415.1 507.6,414.3 509.1,413.7 510.8,413.5 512.0,412.3 513.6,411.8 515.0,410.8 516.3,409.7 517.5,408.5 518.9,407.6 520.3,406.6 521.7,405.8 523.2,404.8 524.5,403.8 526.1,403.0 527.5,402.0 529.2,401.5 530.5,400.4 532.4,400.3 534.1,399.7 535.9,399.1 537.8,399.2 539.5,398.4 541.4,398.2 542.9,398.8 544.4,399.3 545.8,400.2 547.2,401.0 548.7,401.7 550.1,402.5 551.7,403.2 553.0,404.3 554.7,404.9 556.0,406.0 557.5,406.8 558.8,408.0 560.4,407.9 562.1,407.7 563.7,407.6 565.4,408.0 566.7,406.8 568.2,405.6 569.8,404.7 571.2,403.6 572.7,402.6 574.1,401.4 575.8,402.1 577.5,402.8 579.2,403.6 581.1,403.9 582.8,404.7 584.2,403.8 585.9,403.5 587.1,402.3 588.7,401.9 590.2,401.2 591.6,400.4 592.9,399.3 594.6,399.1 596.1,398.4 597.4,397.5 598.9,396.8 600.3,395.9 601.8,395.2 603.0,393.9 604.7,393.2 606.1,392.3 607.7,391.5 609.0,390.4 610.8,390.4 612.5,390.2 614.2,389.8 616.0,389.8 617.7,389.3 619.2,390.2 620.7,391.0 622.3,391.6" fill="none" stroke="#3f6fa6" stroke-width="0.95" stroke-linejoin="round"/>
<path d="M421.1,297.3 422.7,297.8 424.3,298.3 425.7,299.2 427.0,300.2 428.6,300.6 429.7,302.1 431.3,302.6 432.8,303.3 433.7,304.8 434.7,306.3 435.6,307.8 436.7,309.2 437.7,310.8 439.2,312.2 439.7,314.1 441.5,314.5 443.2,314.4 445.0,314.1 446.7,314.1 448.5,314.1 450.0,314.4 451.6,313.8 453.1,314.7 454.6,314.3 456.2,314.7 457.8,314.1 459.5,314.2 461.2,314.7 462.8,314.0 464.5,314.6 466.2,314.8 467.8,314.1 469.3,314.4 470.9,314.6 472.4,315.0 473.9,315.6 475.4,316.0 477.0,316.2 478.5,316.5 480.1,316.2 481.6,317.0 483.3,316.9 484.9,317.4 486.4,318.3 488.1,318.1 489.7,318.8 491.3,319.0 493.1,318.8 494.7,319.2 496.3,319.7 497.8,320.6 499.4,320.9 501.1,321.0 502.8,320.7 504.3,319.8 506.0,319.5 507.7,319.0 509.3,318.5 511.0,318.0 512.5,317.2 514.3,317.8 515.8,316.7 517.6,317.3 519.2,316.9 520.7,316.1 522.1,315.2 523.8,315.4 525.4,315.5 526.9,315.3 528.3,314.4 529.8,313.8 531.3,313.4 533.0,314.0 534.4,313.1 535.7,312.3 537.4,312.2 538.7,311.2 540.3,311.2 541.9,311.2 543.1,309.7 544.8,310.0 546.1,309.2 547.5,307.9 549.1,306.9 550.0,305.3 549.9,303.6 549.1,302.0 549.0,300.3 550.4,299.1 551.0,297.3" fill="none" stroke="#141414" stroke-width="0.9" stroke-linejoin="round"/>
<path d="M439.7,314.1 438.8,315.7 438.4,317.7 436.9,319.0 435.5,320.2 433.7,320.2 432.2,320.9 430.6,321.6 429.0,322.0 427.6,323.2 425.9,323.8 424.3,324.6 422.5,324.8 421.1,325.9 419.9,327.4 418.0,327.6 416.4,328.5 415.2,329.8 415.4,331.9 414.1,333.7 414.3,335.8 414.5,337.3 415.2,338.8" fill="none" stroke="#141414" stroke-width="0.9" stroke-linejoin="round"/>
<path d="M446.6,314.1 446.8,315.9 448.1,317.3 448.5,319.0 449.6,320.4 450.6,321.9 451.0,323.8 452.5,324.9 453.8,326.2 455.4,327.3 456.7,328.6 458.1,329.8 459.4,329.1 460.8,328.4 462.3,328.0 463.9,327.9 465.8,328.8 467.8,328.8 466.7,330.4 464.9,331.2 463.9,332.9 465.6,333.6 467.0,334.6 468.3,335.8 469.8,336.8 471.5,337.0 473.0,337.8 474.3,339.0 475.9,339.5 477.6,339.7 479.3,339.9 480.9,339.5 482.6,339.7 484.2,339.6 485.8,339.0 487.5,338.8 489.0,338.8 490.5,337.8 492.1,338.4 493.7,337.9 495.2,337.8 494.6,339.3 494.4,341.0 494.2,342.7 493.5,344.1 492.7,345.6 491.3,346.6 491.9,348.4 493.3,349.6 495.2,350.2 496.6,351.5 498.2,352.5" fill="none" stroke="#141414" stroke-width="0.9" stroke-linejoin="round"/>
<path d="M415.2,338.8 416.9,338.7 418.5,338.8 420.1,339.5 421.7,339.9 423.4,339.2 425.1,339.7 426.7,340.2 428.4,340.1 429.9,340.7 431.6,340.9 433.3,341.0 434.8,341.7 436.5,341.9 438.1,342.6 439.3,343.9 441.1,344.1 442.6,344.7 443.3,343.2 445.0,342.3 445.6,340.7 447.4,341.0 449.0,340.1 450.7,339.5 452.5,339.7 454.2,340.0 455.8,340.6 457.3,341.5 459.0,341.9 460.5,342.7 461.9,343.7 463.5,344.1 464.7,345.2 465.9,346.2 467.4,346.8 469.0,347.1 470.4,347.8 471.7,348.6 473.1,349.2 474.6,349.6 476.0,350.1 477.5,350.3 478.8,351.1 480.0,352.5 481.6,352.5 483.2,353.5 484.2,355.1 485.5,356.4 485.7,358.0 485.8,359.7 487.0,361.1 487.3,362.7 487.5,364.3 486.7,366.4 485.5,368.3 486.8,369.5 488.1,370.9 489.3,372.3 490.5,373.7 492.1,374.6 493.5,375.6 495.2,376.2 496.7,377.9 497.2,380.1 498.2,381.4 498.0,383.1 498.3,384.7 499.2,386.0 501.1,386.0 503.1,386.1 505.0,386.0 506.7,384.5 509.0,384.0" fill="none" stroke="#141414" stroke-width="0.9" stroke-linejoin="round"/>
<path d="M415.2,338.8 413.6,339.2 411.8,338.9 410.2,339.3 408.6,339.6 407.0,339.8 405.4,340.7 404.0,341.4 402.4,341.9 400.9,342.3 399.2,342.3 397.7,342.7 396.5,344.0 395.7,345.6 396.7,347.5 398.6,348.6 399.3,350.2 400.4,351.7 401.3,353.2 402.5,354.5 401.5,356.4 399.6,357.5 397.7,358.4 396.6,359.9 395.7,361.4" fill="none" stroke="#141414" stroke-width="0.9" stroke-linejoin="round"/>
<path d="M357.0,365.1 358.6,364.2 360.4,364.3 362.1,364.1 363.4,362.9 365.3,363.1 366.7,362.2 368.3,361.4 369.9,360.9 371.5,360.4 373.3,360.3 375.0,360.5 376.7,360.2 378.3,359.3 380.0,359.4 381.8,359.3 383.3,360.1 384.9,360.5 386.6,360.6 388.2,360.8 389.8,361.4 391.7,361.6 393.7,360.9 395.7,361.4" fill="none" stroke="#141414" stroke-width="0.9" stroke-linejoin="round"/>
<path d="M392.7,362.3 392.9,364.3 392.7,366.3 392.7,368.3 392.0,369.8 392.1,371.4 391.7,373.0 392.0,374.6 391.8,376.2 392.6,377.6 393.0,379.1 392.7,380.8 393.7,382.1 395.2,382.7 396.9,382.6 398.5,382.7 400.0,383.6 401.5,384.0 403.1,384.5 404.8,384.6 406.5,384.7 408.0,385.5 409.6,386.2 411.3,386.0 413.0,386.0 414.7,386.1 416.2,386.8 417.8,387.3 419.4,387.9 421.1,388.0 422.7,388.0 424.1,389.1 425.7,389.4 427.4,389.6 429.0,389.9 430.6,390.2 431.9,391.7 433.7,391.5 435.0,392.7 436.7,392.9 438.1,392.1 439.6,391.6 441.2,391.7 442.6,390.9 444.0,390.0 445.8,390.0 447.0,388.7 448.5,388.0 450.0,387.4 451.5,387.3 453.1,387.3 454.6,387.4 456.2,387.0 457.4,388.2 459.3,387.9 460.7,388.9 462.1,389.6 463.7,389.8 464.9,391.2 466.8,390.7 468.1,391.6" fill="none" stroke="#141414" stroke-width="0.9" stroke-linejoin="round"/>
<path d="M460.0,404.7 460.9,406.2 461.2,407.9 461.2,409.6 460.9,411.4 461.3,413.0 462.0,414.6 462.6,416.2 463.2,417.7 464.1,419.1 465.6,420.2 466.6,421.5 466.6,423.4 467.9,424.5 468.9,425.9 470.7,426.5 471.4,428.2 472.8,429.2 473.9,430.4 475.5,431.3 477.0,432.3 478.5,433.1 479.8,434.5 481.1,433.1 482.8,432.6 484.4,431.9 486.3,431.7 487.6,430.4" fill="none" stroke="#141414" stroke-width="0.9" stroke-linejoin="round"/>
<path d="M453.2,391.6 454.2,393.1 453.8,395.0 455.3,396.3 455.7,398.0 456.2,399.7 456.8,401.1 457.8,402.4 459.1,403.4 460.0,404.7" fill="none" stroke="#141414" stroke-width="0.9" stroke-linejoin="round"/>
<path d="M357.0,417.6 358.6,417.5 360.0,418.4 361.5,418.7 362.8,419.7 364.4,419.6 366.0,419.4 367.5,419.8 369.0,420.6 370.7,419.8 372.2,420.5 373.9,420.4 375.6,420.9 377.3,420.8 379.0,420.0 380.7,420.0 382.4,420.0 384.1,420.5 384.7,422.7 386.1,424.5 388.1,422.5 389.2,421.3 390.9,420.8 392.0,419.6 393.5,420.6 395.3,420.4 397.0,420.8 398.4,422.1 400.2,422.2 401.8,422.5 403.4,422.8 404.6,423.9 406.2,424.0 407.6,424.6 409.1,424.8 410.2,426.2 411.7,426.5 413.5,426.7 415.0,426.0 416.8,426.1 418.2,424.6 419.9,424.6 421.6,424.5 423.2,424.2 425.0,424.4 426.6,424.1 428.1,423.1 429.7,422.6 431.4,422.5 433.0,422.0 434.6,421.7 436.4,421.8 437.7,420.5 439.4,420.5 441.1,420.5 442.6,420.0 444.2,419.8 445.8,419.3 447.3,418.6 448.5,420.0 450.0,421.1 451.2,422.5 452.1,423.7 452.8,425.0 453.1,426.6 454.2,427.7 454.3,429.5 453.7,431.0 452.7,432.5 452.9,434.2 452.2,435.8 452.2,437.4 451.7,438.9 450.6,440.3 450.2,441.8 450.9,443.4 450.6,445.3 451.2,446.9 452.2,448.4" fill="none" stroke="#141414" stroke-width="0.9" stroke-linejoin="round"/>
<path d="M452.2,448.4 453.5,449.4 455.2,449.1 456.7,449.4 458.1,450.3 459.5,451.5 460.0,453.3 460.8,455.0 462.0,456.3 461.6,457.8 461.3,459.4 460.6,460.8 460.0,462.2 461.5,462.9 463.0,463.4 464.4,464.0 466.0,464.2 467.9,465.0 469.9,465.1 471.9,465.3 473.6,466.3 474.3,468.2 475.9,469.3 476.6,467.5 477.9,466.0 478.8,464.2 479.9,463.1 481.5,462.5 482.3,461.0 483.8,460.2 485.7,459.6 487.6,459.3 489.6,459.3 491.2,458.7 492.9,459.4 494.4,458.8 495.9,458.3 497.5,458.3 499.0,457.7 500.7,457.9 502.0,456.8 503.5,456.3 505.5,456.3 507.4,457.4 509.4,457.3 510.2,458.7 510.9,460.2 512.7,460.7 513.4,462.2 515.3,463.2 517.2,464.2 518.6,465.1 520.1,465.6 521.6,466.2 523.2,466.3 524.8,465.7 526.4,466.0 528.0,465.8 529.5,465.9 531.1,466.3 532.4,467.3 534.0,467.4 535.3,468.2 537.0,468.3" fill="none" stroke="#141414" stroke-width="0.9" stroke-linejoin="round"/>
<path d="M487.6,430.4 488.6,432.0 488.9,433.9 490.1,435.2 491.1,436.7 491.6,438.5 492.9,439.7 494.3,440.9 496.3,441.0 497.5,442.4 499.5,444.4 500.6,445.7 501.8,446.9 503.3,447.7 504.4,449.0 505.5,450.3 507.1,449.9 508.7,450.0 510.4,450.3 510.5,448.8 511.4,447.5 511.9,446.0 511.8,444.4 512.1,442.9 513.1,441.7" fill="none" stroke="#141414" stroke-width="0.9" stroke-linejoin="round"/>
<path d="M572.8,439.0 574.2,439.9 575.3,441.3 577.0,441.9 578.2,443.1 579.4,444.4 580.5,442.8 582.3,442.0 583.3,440.4" fill="none" stroke="#141414" stroke-width="0.9" stroke-linejoin="round"/>
<path d="M489.6,424.5 489.1,426.0 489.1,427.7 488.6,429.1 487.6,430.4" fill="none" stroke="#141414" stroke-width="0.9" stroke-linejoin="round"/>
<path d="M567.6,404.7 567.5,406.3 567.1,407.8 566.8,409.4 567.3,411.1 566.6,412.6 567.9,413.7 568.4,415.4 569.6,416.6 569.2,418.1 568.8,419.6 568.3,421.1 567.6,422.5 566.6,424.0 567.0,425.7 566.3,427.3 566.1,428.9 565.6,430.4 566.1,432.0 566.0,433.8 566.2,435.4 567.3,436.8 567.6,438.5 568.4,439.8 568.3,441.5 569.4,442.8 569.6,444.4" fill="none" stroke="#141414" stroke-width="0.9" stroke-linejoin="round"/>
<path d="M498.2,352.5 499.1,350.8 501.1,350.2 502.1,348.6 503.3,347.6 504.8,346.9 505.7,345.6 507.0,344.7 508.3,343.7 508.9,342.2 509.6,340.7 510.9,339.7 512.7,338.7 514.9,338.8 515.3,340.7 515.9,342.7 514.7,343.8 513.5,344.7 513.2,346.6 511.8,347.3 510.9,348.6 510.3,350.1 509.4,351.6 509.1,353.2 508.0,354.5 507.5,356.1 506.5,357.5 505.3,358.7 505.0,360.4 506.4,361.4 507.0,363.0 507.7,364.5 509.0,365.6 510.9,364.3" fill="none" stroke="#141414" stroke-width="0.9" stroke-linejoin="round"/>
<path d="M535.4,393.4 535.4,395.0 536.7,396.1 536.9,397.6 538.6,398.3 539.6,400.1 541.0,401.1 542.9,401.7 544.5,401.3 546.1,400.5 547.9,401.2 549.5,400.2 551.3,400.5 552.8,399.7 554.1,400.6 555.4,401.6 557.2,401.7 558.2,403.2 559.8,403.7 561.4,403.5 562.9,404.0 564.4,404.7 566.0,404.9 567.6,404.7" fill="none" stroke="#141414" stroke-width="0.9" stroke-linejoin="round"/>
<path d="M540.4,384.6 542.3,384.4 544.2,384.5 546.1,385.0 548.0,384.4 549.9,384.1 551.8,383.6" fill="none" stroke="#141414" stroke-width="0.9" stroke-linejoin="round"/>
<path d="M550.0,336.8 548.1,336.6 546.0,336.5 544.2,335.8 544.7,337.5 544.4,339.3 544.4,341.0 545.2,342.7 545.1,344.4 543.9,345.8 543.1,347.3 543.4,349.1 542.3,350.5 542.1,352.1 543.2,353.4 542.9,355.0 543.3,356.4 542.7,357.9 542.1,359.3 542.0,360.9 541.3,362.3 541.5,364.0 541.5,365.7 541.9,367.3 541.7,369.0 542.2,370.6 542.3,372.3 543.8,371.8 545.2,370.9 547.0,371.2 548.5,370.7 550.0,370.3" fill="none" stroke="#141414" stroke-width="0.9" stroke-linejoin="round"/>
<path d="M567.9,319.3 569.2,318.3 570.9,318.1 572.2,317.1 573.7,318.0 575.5,318.2 577.2,318.4 578.7,319.3 580.4,318.5 581.8,317.2 583.5,316.4 585.3,316.0 586.9,315.6 588.5,315.0 590.2,315.1 591.9,314.9 593.5,315.7 595.4,316.1 596.7,317.5 598.4,318.2 600.1,318.9 601.1,320.6 602.8,321.5 604.4,321.1 605.7,320.1 607.1,319.3 608.9,320.0 610.1,321.5 611.5,322.6 613.2,323.3 614.5,324.8 616.6,324.7 618.0,325.9 619.8,325.8 621.5,325.4 623.0,324.5 624.6,323.7 625.9,322.9 626.5,321.3 628.3,320.8 629.0,319.3 630.4,318.6 632.1,318.3 633.5,317.6 634.6,316.0 636.3,315.9 637.6,314.9 639.3,314.7 640.2,313.2 641.8,312.8 643.4,312.7 644.5,311.4 646.3,311.6 647.5,310.5" fill="none" stroke="#141414" stroke-width="0.9" stroke-linejoin="round"/>
<path d="M625.2,297.3 626.4,298.4 626.8,300.0 628.4,300.6 629.1,302.1 630.1,303.3 631.3,304.4 633.2,304.4 634.6,305.2 635.9,306.2 636.9,307.4 638.1,308.6 639.3,309.6 639.8,311.2" fill="none" stroke="#141414" stroke-width="0.9" stroke-linejoin="round"/>
<path d="M567.4,317.0 567.5,319.0 567.2,321.0 566.5,322.9 566.7,324.6 567.7,326.0 568.2,327.6 569.4,328.8 569.8,330.8 569.0,332.8 569.4,334.8 569.4,336.5 568.5,337.9 568.0,339.5 567.9,341.1 567.4,342.7 567.2,344.2 567.8,345.7 568.0,347.1 567.9,348.7 569.1,350.0 568.3,351.7 569.0,353.1 569.4,354.5 568.5,356.1 567.1,357.3 566.7,359.1 565.5,360.4 565.4,362.1 566.3,363.4 567.1,364.8 567.4,366.4 568.7,367.1 570.3,367.2 571.9,367.4 573.3,368.3" fill="none" stroke="#141414" stroke-width="0.9" stroke-linejoin="round"/>
<path d="M551.0,304.4 552.0,305.7 553.7,306.3 554.1,308.1 555.8,308.8 556.6,310.3 557.8,311.4 558.9,312.7 560.5,313.1 561.8,314.0 563.4,314.4 564.9,314.9 566.3,315.7 567.4,317.0" fill="none" stroke="#141414" stroke-width="0.9" stroke-linejoin="round"/>
<path d="M579.1,328.8 580.5,328.0 582.1,328.0 583.5,327.3 585.0,326.9 586.5,327.7 587.7,328.8 589.6,328.7 590.9,329.8 591.9,331.4 592.1,333.2 592.9,334.8 592.0,336.5 590.7,337.9 589.0,338.8 587.5,338.4 585.9,338.2 584.5,337.4 583.1,336.8 582.0,335.3 581.6,333.6 580.8,332.0 579.6,330.6 579.1,328.8" fill="none" stroke="#141414" stroke-width="0.9" stroke-linejoin="round"/>
<path d="M592.9,334.8 593.5,336.4 594.5,337.9 595.6,339.3 595.5,341.3 596.8,342.7 598.4,343.4 599.9,344.3 601.5,345.2 602.7,346.6" fill="none" stroke="#141414" stroke-width="0.9" stroke-linejoin="round"/>
<path d="M600.7,320.0 601.0,321.7 601.2,323.4 601.8,324.9 602.7,326.4 603.7,327.6 604.6,328.8" fill="none" stroke="#141414" stroke-width="0.9" stroke-linejoin="round"/>
<path d="M569.4,354.5 570.8,355.3 572.3,356.0 573.2,357.6 574.6,358.5 576.0,359.3 577.2,360.4 578.9,360.3 580.5,359.7 582.2,359.9 583.8,359.4 585.3,358.5 587.0,358.4 588.7,358.0 589.5,356.3 591.2,355.9 592.5,355.0 593.8,353.9 595.1,352.9 596.8,352.5 598.3,351.8 599.0,350.1 600.7,349.6" fill="none" stroke="#141414" stroke-width="0.9" stroke-linejoin="round"/>
<path d="M551.8,383.6 553.3,384.7 554.5,386.1 556.6,386.3 557.8,387.6 559.3,388.6 560.1,390.1 561.4,391.2 562.5,392.6 563.8,393.6 563.9,395.3 565.2,396.5 565.5,398.1 565.8,399.7 566.6,401.2 567.5,402.8 567.6,404.7" fill="none" stroke="#141414" stroke-width="0.9" stroke-linejoin="round"/>
<path d="M519.2,348.3 520.7,348.7 522.3,348.6 523.9,348.5 525.4,348.3 526.8,346.9 528.9,346.9 530.4,345.7 531.8,345.0 532.9,343.8 534.3,343.2 535.4,342.0 536.6,341.0 537.7,339.8 538.8,338.8 540.4,338.2 542.0,337.9 543.7,337.7 545.4,338.2 547.8,337.0" fill="none" stroke="#141414" stroke-width="0.9" stroke-linejoin="round"/>
<path d="M519.2,348.3 517.9,350.8 518.8,352.6 519.2,354.5 517.5,354.6 515.8,355.1 514.2,355.8 513.2,357.5 513.0,359.5 513.6,360.9 514.9,361.9 515.5,363.3 514.2,364.5 513.0,365.9 511.7,367.1 512.0,369.0 513.0,370.8 512.3,372.7 511.7,374.6 512.2,376.2 512.0,377.9 512.4,379.6 510.4,380.4 509.2,382.1 508.2,383.6 506.7,384.6" fill="none" stroke="#141414" stroke-width="0.9" stroke-linejoin="round"/>
<path d="M519.2,354.5 520.6,355.6 522.5,355.2 524.0,356.1 525.4,357.0 526.8,357.6 527.7,358.9 529.2,359.5 528.3,361.0 528.2,362.6 528.4,364.3 527.9,365.8 526.4,366.4 525.5,367.8 524.4,368.9 522.9,369.6 521.3,369.1 519.6,369.4 517.9,369.6" fill="none" stroke="#141414" stroke-width="0.9" stroke-linejoin="round"/>
<path d="M541.6,371.6 543.1,371.7 544.6,371.5 546.2,371.7 547.6,370.9 549.1,370.8 550.7,370.9 552.2,370.4 553.8,370.3 555.3,369.6 556.8,369.0 558.4,368.8 559.8,368.1 561.2,367.3 562.8,367.1 564.4,366.3 566.1,366.4 567.6,365.3 569.6,365.9 571.0,364.6 572.8,364.5" fill="none" stroke="#141414" stroke-width="0.9" stroke-linejoin="round"/>
<path d="M566.5,342.0 566.8,343.7 566.4,345.2 565.1,346.6 565.3,348.3 565.8,349.8 566.3,351.3 566.8,352.8 566.5,354.5 567.5,356.1 567.1,357.9 567.8,359.5 566.4,360.7 565.3,362.0" fill="none" stroke="#141414" stroke-width="0.9" stroke-linejoin="round"/>
<path d="M534.1,383.4 535.6,383.9 537.2,384.3 538.9,383.8 540.4,384.6 539.1,385.5 538.0,386.6 536.4,387.1 535.4,388.4 535.0,390.0 534.9,391.7 535.4,393.4" fill="none" stroke="#141414" stroke-width="0.9" stroke-linejoin="round"/>
<path d="M493.0,379.6 494.9,380.0 496.2,381.7 498.0,382.1 498.2,384.1 499.3,385.9 500.9,386.1 502.3,384.8 503.9,384.6 505.5,384.6 507.1,384.5 508.7,384.7 510.1,386.0 511.7,385.9 513.1,386.8 514.8,387.3 516.2,388.1 517.9,388.4 519.4,389.1 521.2,389.4 522.8,389.8 524.2,390.9 525.4,391.9 525.6,393.6 526.7,394.6 525.1,394.6 524.8,396.2 524.0,397.4 523.2,398.7 522.4,400.1 520.9,401.4 519.0,402.1 517.0,402.7 515.4,403.8 513.4,404.2 511.8,405.4 509.7,404.9 507.7,404.1 507.0,405.5 505.5,406.4 505.1,408.1 505.7,410.1 506.4,412.1 507.5,413.1 509.0,413.6 510.7,413.6 511.8,414.8 513.5,414.3 515.3,413.9 517.0,413.5 519.2,413.1 521.0,412.1 522.5,412.6 523.6,413.7 525.1,414.2 526.4,414.8 528.0,415.9 528.8,417.8 530.4,418.8 531.7,419.9 531.9,421.7 533.1,422.8 532.8,425.0 531.8,426.9 533.2,427.9 533.9,429.4 534.5,430.9 534.2,433.0 534.5,435.0" fill="none" stroke="#141414" stroke-width="0.9" stroke-linejoin="round"/>
<path d="M493.0,416.1 494.1,417.3 496.0,416.9 497.1,418.1 498.4,418.8 499.7,419.7 500.9,420.9 502.4,421.5 502.7,419.4 503.7,417.5 505.0,418.5 506.5,419.4 507.5,420.8 509.1,421.5" fill="none" stroke="#141414" stroke-width="0.9" stroke-linejoin="round"/>
<path d="M513.1,441.7 514.2,440.6 516.0,440.5 516.9,439.1 518.2,438.2 519.7,437.7 521.3,437.9 522.9,437.7 524.5,437.2 526.1,437.8 527.7,437.7 528.8,436.5 530.6,436.6 531.9,435.8 533.1,435.0 534.8,435.0 536.5,434.5 538.1,433.8 539.8,433.7 541.4,433.5 543.1,433.5 544.8,434.1 546.4,433.7 547.8,434.7 547.9,436.6 549.1,437.7 549.0,439.3 548.1,440.5 547.4,441.9 546.4,443.1 547.5,444.4 549.1,444.8 550.4,445.7 551.7,444.5 553.4,443.9 554.2,442.3 555.7,441.4 557.1,440.4 558.9,439.9 560.8,439.7 562.5,439.0 564.4,440.0 566.5,440.4 568.1,440.2 569.6,439.5 571.1,439.1 572.8,439.0" fill="none" stroke="#141414" stroke-width="0.9" stroke-linejoin="round"/>
<path d="M550.4,445.7 551.3,447.4 551.0,449.4 551.8,451.1 551.0,452.4 550.2,453.7 550.2,455.3 549.1,456.5 548.3,458.3 547.1,459.9 546.4,461.8 545.1,463.1 544.1,464.8 542.5,465.9" fill="none" stroke="#141414" stroke-width="0.9" stroke-linejoin="round"/>
<path d="M493.0,425.5 494.3,426.6 495.2,428.0 497.0,428.5 498.0,429.7 499.1,430.9 499.7,432.2 500.0,433.8 501.0,435.0 502.1,436.6 504.0,437.3 505.1,439.0 506.7,440.1 508.0,441.5 509.1,443.1 509.6,444.7 509.7,446.4 510.4,448.0 510.4,449.8" fill="none" stroke="#141414" stroke-width="0.9" stroke-linejoin="round"/>
<path d="M568.2,412.1 569.7,411.4 571.2,410.7 573.1,411.0 574.6,410.2 576.1,409.4 577.6,408.4 579.5,408.9 580.8,407.4 582.5,407.2 584.1,406.8 585.8,407.8 587.6,408.0 589.5,408.1 591.4,407.9 593.1,407.1 594.9,406.8 595.5,405.2 596.8,404.1 597.6,402.7 598.0,401.1 599.0,399.8 600.2,398.7 601.4,397.2 602.9,395.9" fill="none" stroke="#141414" stroke-width="0.9" stroke-linejoin="round"/>
<path d="M597.6,409.4 598.5,411.1 598.6,413.0 598.9,414.8 599.5,416.3 600.5,417.6 601.6,418.8 599.6,419.5 597.6,420.2 595.7,420.9 594.0,422.0 592.2,422.8 591.1,424.1 589.5,424.5 588.2,425.5 586.9,427.0 585.3,428.0 584.1,429.5 583.2,431.2 583.3,433.2 582.8,435.0 582.3,436.7 581.7,438.5 581.5,440.4 580.2,441.5 579.0,442.6 577.3,443.2 576.1,444.4 574.5,443.5 572.6,443.2 570.8,443.1" fill="none" stroke="#141414" stroke-width="0.9" stroke-linejoin="round"/>
<path d="M581.5,440.4 582.7,441.9 583.9,443.3 585.3,444.5 586.8,445.7 587.1,447.5 587.8,449.3 588.2,451.1" fill="none" stroke="#141414" stroke-width="0.9" stroke-linejoin="round"/>
<path d="M601.6,418.8 602.8,417.7 604.3,417.1 605.5,416.1 606.6,414.8 608.1,414.3 609.5,413.5 611.1,412.8 612.4,411.8 613.6,410.7" fill="none" stroke="#141414" stroke-width="0.9" stroke-linejoin="round"/>
<path d="M602.9,395.9 604.1,397.0 605.7,397.5 606.8,398.7 608.5,398.9 610.0,399.3 611.6,399.7" fill="none" stroke="#141414" stroke-width="0.9" stroke-linejoin="round"/>
<path d="M582.8,394.6 582.2,396.4 582.1,398.3 581.5,400.1 581.5,402.0 581.5,403.9 582.2,405.7" fill="none" stroke="#141414" stroke-width="0.9" stroke-linejoin="round"/>
<path d="M573.5,369.6 575.2,369.7 576.6,370.8 578.1,371.5 579.8,371.7 581.9,371.0 584.1,370.7 586.3,371.2 588.4,371.7 589.7,373.2 591.6,373.9 593.2,373.1 594.9,373.4 596.5,372.6 598.1,371.7 600.1,370.8 602.4,370.7 604.1,369.8 605.5,368.5 606.5,366.4" fill="none" stroke="#141414" stroke-width="0.9" stroke-linejoin="round"/>
<path d="M583.1,376.0 583.1,377.8 584.1,379.3 582.7,378.7 581.1,378.6 579.8,377.6 578.7,378.9 577.7,380.3 577.0,381.7 576.1,383.1 575.6,384.6 576.6,386.8 578.2,387.9 579.8,388.9 580.2,391.1 580.9,393.2 578.8,395.3 579.6,397.2 580.9,398.6 582.0,400.2 583.1,401.9 582.7,403.5 582.0,405.1" fill="none" stroke="#141414" stroke-width="0.9" stroke-linejoin="round"/>
<path d="M562.8,388.9 564.4,390.1 566.5,390.0 568.2,391.0 569.8,392.0 571.7,392.4 573.5,393.2 575.1,394.2 577.2,394.2 578.8,395.3" fill="none" stroke="#141414" stroke-width="0.9" stroke-linejoin="round"/>
<path d="M593.8,378.2 594.3,380.1 595.9,381.4 597.1,382.9 598.1,384.6 599.5,385.3 600.2,386.8 599.9,388.5 599.1,390.0 600.3,391.6 601.3,393.2 602.8,394.5 603.4,396.4 604.5,398.0 605.5,399.7 604.5,401.1 603.2,402.2 602.5,403.8 601.3,405.1 599.8,406.4 598.1,407.2 596.7,408.6 594.9,409.4" fill="none" stroke="#141414" stroke-width="0.9" stroke-linejoin="round"/>
<path d="M605.5,399.7 607.2,400.3 609.0,400.9 610.8,400.8 613.0,401.3 615.1,401.9 616.9,402.6 618.3,404.0" fill="none" stroke="#141414" stroke-width="0.9" stroke-linejoin="round"/>
<path d="M584.1,406.1 585.8,407.1 587.8,407.4 589.5,408.3 591.3,409.0 592.7,410.4" fill="none" stroke="#141414" stroke-width="0.9" stroke-linejoin="round"/>
<path d="M562.8,357.7 564.8,358.1 566.3,359.5 568.2,359.9 569.9,360.6 571.7,360.8 573.5,360.9 575.1,362.0 576.6,363.1 575.9,364.9 575.6,366.8 574.5,368.5" fill="none" stroke="#141414" stroke-width="0.9" stroke-linejoin="round"/>
<path d="M577.7,354.5 577.7,356.8 578.8,358.8 578.3,360.4 577.2,361.6 576.6,363.1" fill="none" stroke="#141414" stroke-width="0.9" stroke-linejoin="round"/>
<circle cx="548.6" cy="499.8" r="0.65" fill="#333"/>
<circle cx="554.3" cy="501.0" r="0.65" fill="#333"/>
<circle cx="557.8" cy="503.2" r="0.65" fill="#333"/>
<circle cx="549.9" cy="504.9" r="0.65" fill="#333"/>
<circle cx="550.8" cy="506.7" r="0.65" fill="#333"/>
<circle cx="556.0" cy="507.5" r="0.65" fill="#333"/>
<circle cx="552.5" cy="505.4" r="0.65" fill="#333"/>
<circle cx="550.3" cy="503.9" r="0.65" fill="#333"/>
<path d="M565.2,511.0 566.3,508.7 569.3,507.0 572.3,506.0 573.4,506.7 572.4,508.6 569.3,510.2 566.4,511.4Z" fill="none" stroke="#222" stroke-width="0.8"/>
<path d="M629.8,446.9 628.3,452.9" fill="none" stroke="#222" stroke-width="0.8"/>
<path d="M623.8,467.1 618.6,473.0" fill="none" stroke="#222" stroke-width="0.8"/>
<path d="M610.4,485.7 606.6,492.5" fill="none" stroke="#222" stroke-width="0.8"/>
<path d="M637.3,435.7 635.0,437.2" fill="none" stroke="#222" stroke-width="0.8"/>
<path d="M532.4,506.0 536.5,515.2" fill="none" stroke="#222" stroke-width="0.8"/>
</g>
<line x1="364.25" y1="515.30" x2="364.25" y2="518.90" stroke="#333" stroke-width="1"/>
<line x1="378.75" y1="515.30" x2="378.75" y2="518.90" stroke="#333" stroke-width="1"/>
<line x1="393.25" y1="515.30" x2="393.25" y2="522.30" stroke="#333" stroke-width="1"/>
<text x="393.25" y="533.90" font-size="11.4" text-anchor="middle" fill="#222" >90E</text>
<line x1="407.75" y1="515.30" x2="407.75" y2="518.90" stroke="#333" stroke-width="1"/>
<line x1="422.25" y1="515.30" x2="422.25" y2="518.90" stroke="#333" stroke-width="1"/>
<line x1="436.75" y1="515.30" x2="436.75" y2="518.90" stroke="#333" stroke-width="1"/>
<line x1="451.25" y1="515.30" x2="451.25" y2="518.90" stroke="#333" stroke-width="1"/>
<line x1="465.75" y1="515.30" x2="465.75" y2="522.30" stroke="#333" stroke-width="1"/>
<text x="465.75" y="533.90" font-size="11.4" text-anchor="middle" fill="#222" >100E</text>
<line x1="480.25" y1="515.30" x2="480.25" y2="518.90" stroke="#333" stroke-width="1"/>
<line x1="494.75" y1="515.30" x2="494.75" y2="518.90" stroke="#333" stroke-width="1"/>
<line x1="509.25" y1="515.30" x2="509.25" y2="518.90" stroke="#333" stroke-width="1"/>
<line x1="523.75" y1="515.30" x2="523.75" y2="518.90" stroke="#333" stroke-width="1"/>
<line x1="538.25" y1="515.30" x2="538.25" y2="522.30" stroke="#333" stroke-width="1"/>
<text x="538.25" y="533.90" font-size="11.4" text-anchor="middle" fill="#222" >110E</text>
<line x1="552.75" y1="515.30" x2="552.75" y2="518.90" stroke="#333" stroke-width="1"/>
<line x1="567.25" y1="515.30" x2="567.25" y2="518.90" stroke="#333" stroke-width="1"/>
<line x1="581.75" y1="515.30" x2="581.75" y2="518.90" stroke="#333" stroke-width="1"/>
<line x1="596.25" y1="515.30" x2="596.25" y2="518.90" stroke="#333" stroke-width="1"/>
<line x1="610.75" y1="515.30" x2="610.75" y2="522.30" stroke="#333" stroke-width="1"/>
<text x="610.75" y="533.90" font-size="11.4" text-anchor="middle" fill="#222" >120E</text>
<line x1="625.25" y1="515.30" x2="625.25" y2="518.90" stroke="#333" stroke-width="1"/>
<line x1="639.75" y1="515.30" x2="639.75" y2="518.90" stroke="#333" stroke-width="1"/>
<line x1="353.40" y1="508.04" x2="357.00" y2="508.04" stroke="#333" stroke-width="1"/>
<line x1="353.40" y1="493.53" x2="357.00" y2="493.53" stroke="#333" stroke-width="1"/>
<line x1="350.70" y1="479.02" x2="357.00" y2="479.02" stroke="#333" stroke-width="1"/>
<text x="348.80" y="483.32" font-size="11.4" text-anchor="end" fill="#222" >20N</text>
<line x1="353.40" y1="464.50" x2="357.00" y2="464.50" stroke="#333" stroke-width="1"/>
<line x1="353.40" y1="449.99" x2="357.00" y2="449.99" stroke="#333" stroke-width="1"/>
<line x1="353.40" y1="435.48" x2="357.00" y2="435.48" stroke="#333" stroke-width="1"/>
<line x1="353.40" y1="420.96" x2="357.00" y2="420.96" stroke="#333" stroke-width="1"/>
<line x1="350.70" y1="406.45" x2="357.00" y2="406.45" stroke="#333" stroke-width="1"/>
<text x="348.80" y="410.75" font-size="11.4" text-anchor="end" fill="#222" >30N</text>
<line x1="353.40" y1="391.94" x2="357.00" y2="391.94" stroke="#333" stroke-width="1"/>
<line x1="353.40" y1="377.42" x2="357.00" y2="377.42" stroke="#333" stroke-width="1"/>
<line x1="353.40" y1="362.91" x2="357.00" y2="362.91" stroke="#333" stroke-width="1"/>
<line x1="353.40" y1="348.40" x2="357.00" y2="348.40" stroke="#333" stroke-width="1"/>
<line x1="350.70" y1="333.88" x2="357.00" y2="333.88" stroke="#333" stroke-width="1"/>
<text x="348.80" y="338.18" font-size="11.4" text-anchor="end" fill="#222" >40N</text>
<line x1="353.40" y1="319.37" x2="357.00" y2="319.37" stroke="#333" stroke-width="1"/>
<line x1="353.40" y1="304.86" x2="357.00" y2="304.86" stroke="#333" stroke-width="1"/>
<rect x="357.00" y="297.60" width="290.00" height="217.70" fill="none" stroke="#222" stroke-width="1.1"/>
<rect x="393.25" y="333.88" width="217.50" height="145.13" fill="none" stroke="#2f69b3" stroke-width="1.2"/>
<rect x="372.90" y="538.30" width="12.06" height="10.10" fill="#0b4e95"/>
<rect x="384.66" y="538.30" width="12.06" height="10.10" fill="#0653a0"/>
<rect x="396.42" y="538.30" width="12.06" height="10.10" fill="#0858a4"/>
<rect x="408.18" y="538.30" width="12.06" height="10.10" fill="#0a78b8"/>
<rect x="419.94" y="538.30" width="12.06" height="10.10" fill="#12a0d6"/>
<rect x="431.70" y="538.30" width="23.82" height="10.10" fill="#08b4e2"/>
<rect x="455.22" y="538.30" width="12.06" height="10.10" fill="#2cb6dd"/>
<rect x="466.98" y="538.30" width="12.06" height="10.10" fill="#52c0e0"/>
<rect x="478.74" y="538.30" width="12.06" height="10.10" fill="#7ccbe3"/>
<rect x="490.50" y="538.30" width="12.06" height="10.10" fill="#a8d7e3"/>
<rect x="502.26" y="538.30" width="12.06" height="10.10" fill="#f9f0cb"/>
<rect x="514.02" y="538.30" width="12.06" height="10.10" fill="#f6e39b"/>
<rect x="525.78" y="538.30" width="12.06" height="10.10" fill="#f1cc76"/>
<rect x="537.54" y="538.30" width="12.06" height="10.10" fill="#f0b54e"/>
<rect x="549.30" y="538.30" width="23.82" height="10.10" fill="#f09d30"/>
<rect x="572.82" y="538.30" width="12.06" height="10.10" fill="#ee8633"/>
<rect x="584.58" y="538.30" width="12.06" height="10.10" fill="#ec6b34"/>
<rect x="596.34" y="538.30" width="12.06" height="10.10" fill="#e95137"/>
<rect x="608.10" y="538.30" width="12.06" height="10.10" fill="#e72e38"/>
<rect x="619.86" y="538.30" width="12.06" height="10.10" fill="#d11d30"/>
<rect x="372.90" y="538.30" width="258.72" height="10.10" fill="none" stroke="#444" stroke-width="0.9"/>
<text x="384.66" y="559.50" font-size="11.2" text-anchor="middle" fill="#222" >-1</text>
<text x="431.70" y="559.50" font-size="11.2" text-anchor="middle" fill="#222" >-0.6</text>
<text x="478.74" y="559.50" font-size="11.2" text-anchor="middle" fill="#222" >-0.2</text>
<text x="525.78" y="559.50" font-size="11.2" text-anchor="middle" fill="#222" >0.2</text>
<text x="572.82" y="559.50" font-size="11.2" text-anchor="middle" fill="#222" >0.6</text>
<text x="619.86" y="559.50" font-size="11.2" text-anchor="middle" fill="#222" >1</text>
<text x="28.40" y="8.80" font-size="11.3" text-anchor="start" fill="#222" >(a) Cor(XJH, Tmax)</text>
<text x="30.4" y="292.2" font-size="11.2" fill="#222">(c) Cor(AMO<tspan font-size="6.5" dy="0.3">CORE</tspan><tspan dy="-0.3">, Summer heat days)</tspan></text>
<text x="356.70" y="292.00" font-size="11.4" text-anchor="start" fill="#222" >(d) Cor(WPSST, Summer heat days)</text>
<line x1="355.50" y1="230.00" x2="355.50" y2="235.80" stroke="#333" stroke-width="1"/>
<text x="355.50" y="251.50" font-size="11.4" text-anchor="middle" fill="#222" >1900</text>
<line x1="367.98" y1="230.00" x2="367.98" y2="233.50" stroke="#333" stroke-width="1"/>
<line x1="380.46" y1="230.00" x2="380.46" y2="233.50" stroke="#333" stroke-width="1"/>
<line x1="392.94" y1="230.00" x2="392.94" y2="233.50" stroke="#333" stroke-width="1"/>
<line x1="405.41" y1="230.00" x2="405.41" y2="235.80" stroke="#333" stroke-width="1"/>
<text x="405.41" y="251.50" font-size="11.4" text-anchor="middle" fill="#222" >1920</text>
<line x1="417.89" y1="230.00" x2="417.89" y2="233.50" stroke="#333" stroke-width="1"/>
<line x1="430.37" y1="230.00" x2="430.37" y2="233.50" stroke="#333" stroke-width="1"/>
<line x1="442.85" y1="230.00" x2="442.85" y2="233.50" stroke="#333" stroke-width="1"/>
<line x1="455.33" y1="230.00" x2="455.33" y2="235.80" stroke="#333" stroke-width="1"/>
<text x="455.33" y="251.50" font-size="11.4" text-anchor="middle" fill="#222" >1940</text>
<line x1="467.81" y1="230.00" x2="467.81" y2="233.50" stroke="#333" stroke-width="1"/>
<line x1="480.29" y1="230.00" x2="480.29" y2="233.50" stroke="#333" stroke-width="1"/>
<line x1="492.76" y1="230.00" x2="492.76" y2="233.50" stroke="#333" stroke-width="1"/>
<line x1="505.24" y1="230.00" x2="505.24" y2="235.80" stroke="#333" stroke-width="1"/>
<text x="505.24" y="251.50" font-size="11.4" text-anchor="middle" fill="#222" >1960</text>
<line x1="517.72" y1="230.00" x2="517.72" y2="233.50" stroke="#333" stroke-width="1"/>
<line x1="530.20" y1="230.00" x2="530.20" y2="233.50" stroke="#333" stroke-width="1"/>
<line x1="542.68" y1="230.00" x2="542.68" y2="233.50" stroke="#333" stroke-width="1"/>
<line x1="555.16" y1="230.00" x2="555.16" y2="235.80" stroke="#333" stroke-width="1"/>
<text x="555.16" y="251.50" font-size="11.4" text-anchor="middle" fill="#222" >1980</text>
<line x1="567.64" y1="230.00" x2="567.64" y2="233.50" stroke="#333" stroke-width="1"/>
<line x1="580.12" y1="230.00" x2="580.12" y2="233.50" stroke="#333" stroke-width="1"/>
<line x1="592.59" y1="230.00" x2="592.59" y2="233.50" stroke="#333" stroke-width="1"/>
<line x1="605.07" y1="230.00" x2="605.07" y2="235.80" stroke="#333" stroke-width="1"/>
<text x="605.07" y="251.50" font-size="11.4" text-anchor="middle" fill="#222" >2000</text>
<line x1="617.55" y1="230.00" x2="617.55" y2="233.50" stroke="#333" stroke-width="1"/>
<line x1="630.03" y1="230.00" x2="630.03" y2="233.50" stroke="#333" stroke-width="1"/>
<line x1="642.51" y1="230.00" x2="642.51" y2="233.50" stroke="#333" stroke-width="1"/>
<line x1="350.00" y1="230.00" x2="355.50" y2="230.00" stroke="#333" stroke-width="1"/>
<text x="347.90" y="234.10" font-size="11.4" text-anchor="end" fill="#222" >0</text>
<line x1="352.30" y1="219.28" x2="355.50" y2="219.28" stroke="#333" stroke-width="1"/>
<line x1="352.30" y1="208.56" x2="355.50" y2="208.56" stroke="#333" stroke-width="1"/>
<line x1="350.00" y1="197.84" x2="355.50" y2="197.84" stroke="#333" stroke-width="1"/>
<text x="347.90" y="201.94" font-size="11.4" text-anchor="end" fill="#222" >3</text>
<line x1="352.30" y1="187.12" x2="355.50" y2="187.12" stroke="#333" stroke-width="1"/>
<line x1="352.30" y1="176.40" x2="355.50" y2="176.40" stroke="#333" stroke-width="1"/>
<line x1="350.00" y1="165.68" x2="355.50" y2="165.68" stroke="#333" stroke-width="1"/>
<text x="347.90" y="169.78" font-size="11.4" text-anchor="end" fill="#222" >6</text>
<line x1="352.30" y1="154.96" x2="355.50" y2="154.96" stroke="#333" stroke-width="1"/>
<line x1="352.30" y1="144.24" x2="355.50" y2="144.24" stroke="#333" stroke-width="1"/>
<line x1="350.00" y1="133.52" x2="355.50" y2="133.52" stroke="#333" stroke-width="1"/>
<text x="347.90" y="137.62" font-size="11.4" text-anchor="end" fill="#222" >9</text>
<line x1="352.30" y1="122.80" x2="355.50" y2="122.80" stroke="#333" stroke-width="1"/>
<line x1="352.30" y1="112.08" x2="355.50" y2="112.08" stroke="#333" stroke-width="1"/>
<line x1="350.00" y1="101.36" x2="355.50" y2="101.36" stroke="#333" stroke-width="1"/>
<text x="347.90" y="105.46" font-size="11.4" text-anchor="end" fill="#222" >12</text>
<line x1="352.30" y1="90.64" x2="355.50" y2="90.64" stroke="#333" stroke-width="1"/>
<line x1="352.30" y1="79.92" x2="355.50" y2="79.92" stroke="#333" stroke-width="1"/>
<line x1="350.00" y1="69.20" x2="355.50" y2="69.20" stroke="#333" stroke-width="1"/>
<text x="347.90" y="73.30" font-size="11.4" text-anchor="end" fill="#222" >15</text>
<line x1="352.30" y1="58.48" x2="355.50" y2="58.48" stroke="#333" stroke-width="1"/>
<line x1="352.30" y1="47.76" x2="355.50" y2="47.76" stroke="#333" stroke-width="1"/>
<line x1="350.00" y1="37.04" x2="355.50" y2="37.04" stroke="#333" stroke-width="1"/>
<text x="347.90" y="41.14" font-size="11.4" text-anchor="end" fill="#222" >18</text>
<line x1="352.30" y1="26.32" x2="355.50" y2="26.32" stroke="#333" stroke-width="1"/>
<line x1="352.30" y1="15.60" x2="355.50" y2="15.60" stroke="#333" stroke-width="1"/>
<line x1="647.50" y1="230.00" x2="653.00" y2="230.00" stroke="#333" stroke-width="1"/>
<text x="673.30" y="234.10" font-size="11.4" text-anchor="end" fill="#222" >-0.6</text>
<line x1="647.50" y1="212.13" x2="651.00" y2="212.13" stroke="#333" stroke-width="1"/>
<line x1="647.50" y1="194.27" x2="651.00" y2="194.27" stroke="#333" stroke-width="1"/>
<line x1="647.50" y1="176.40" x2="653.00" y2="176.40" stroke="#333" stroke-width="1"/>
<text x="673.30" y="180.50" font-size="11.4" text-anchor="end" fill="#222" >-0.3</text>
<line x1="647.50" y1="158.53" x2="651.00" y2="158.53" stroke="#333" stroke-width="1"/>
<line x1="647.50" y1="140.67" x2="651.00" y2="140.67" stroke="#333" stroke-width="1"/>
<line x1="647.50" y1="122.80" x2="653.00" y2="122.80" stroke="#333" stroke-width="1"/>
<text x="673.30" y="126.90" font-size="11.4" text-anchor="end" fill="#222" >0.0</text>
<line x1="647.50" y1="104.93" x2="651.00" y2="104.93" stroke="#333" stroke-width="1"/>
<line x1="647.50" y1="87.07" x2="651.00" y2="87.07" stroke="#333" stroke-width="1"/>
<line x1="647.50" y1="69.20" x2="653.00" y2="69.20" stroke="#333" stroke-width="1"/>
<text x="673.30" y="73.30" font-size="11.4" text-anchor="end" fill="#222" >0.3</text>
<line x1="647.50" y1="51.33" x2="651.00" y2="51.33" stroke="#333" stroke-width="1"/>
<line x1="647.50" y1="33.47" x2="651.00" y2="33.47" stroke="#333" stroke-width="1"/>
<line x1="647.50" y1="15.60" x2="653.00" y2="15.60" stroke="#333" stroke-width="1"/>
<text x="673.30" y="19.70" font-size="11.4" text-anchor="end" fill="#222" >0.6</text>
<rect x="355.5" y="15.6" width="292.0" height="214.4" fill="none" stroke="#222" stroke-width="1.1"/>
<path d="M356.0,120.0 L358.4,122.1 L361.3,126.4 L363.4,123.6 L365.6,128.6 L367.7,132.9 L369.9,133.6 L371.3,133.1 L373.4,137.9 L376.3,134.3 L379.1,129.3 L382.0,128.6 L384.1,132.9 L386.3,137.1 L388.4,141.4 L390.6,150.0 L392.7,149.3 L395.6,146.4 L398.4,149.3 L401.3,151.4 L405.6,147.9 L408.4,150.7 L411.7,145.0 L415.9,135.0 L418.7,126.4 L422.3,116.4 L425.9,110.0 L428.0,102.1 L430.9,95.7 L433.4,92.1 L435.1,82.1 L437.3,73.6 L439.4,68.6 L441.6,67.1 L443.4,68.6 L445.4,73.6 L447.3,73.3 L450.9,75.0 L453.0,73.3 L455.1,74.3 L458.0,79.3 L460.1,85.0 L462.3,97.1 L464.4,100.4 L467.6,106.4 L470.4,97.9 L472.6,90.7 L474.7,89.3 L479.7,90.7 L482.6,95.4 L487.6,90.7 L490.4,92.6 L495.4,88.6 L499.0,102.1 L502.6,112.9 L505.4,121.4 L507.2,129.7 L509.8,135.0 L512.5,141.4 L515.2,145.7 L517.9,148.4 L520.0,159.7 L522.2,164.0 L525.4,167.2 L528.1,173.1 L530.7,172.9 L533.6,167.9 L535.7,163.6 L537.9,165.0 L541.4,162.1 L545.0,159.7 L550.0,160.3 L552.9,165.0 L555.0,158.9 L558.6,159.3 L562.1,159.3 L565.0,152.1 L567.9,148.3 L570.7,149.3 L574.3,154.3 L577.1,155.7 L579.6,147.5 L583.1,150.2 L587.6,142.1 L591.1,143.9 L593.9,141.3 L597.4,143.0 L602.8,121.6 L607.3,113.6 L609.9,112.7 L612.6,106.0 L615.3,109.1 L618.9,110.0 L622.4,108.2 L626.0,103.8 L629.6,104.3 L633.1,101.4 L635.8,103.8 L638.5,94.8 L642.0,90.4 L646.5,79.6" fill="none" stroke="#4fae48" stroke-width="1.15" stroke-linejoin="round"/>
<path d="M356.0,117.1 L357.7,116.4 L360.6,123.6 L363.4,127.9 L366.3,137.1 L370.6,145.0 L373.4,138.6 L375.6,137.9 L377.7,129.3 L380.6,127.9 L382.7,128.6 L387.7,135.7 L390.6,125.0 L393.4,115.7 L397.7,112.1 L400.6,118.6 L402.7,126.4 L405.6,132.1 L408.4,127.1 L412.3,125.7 L415.4,121.4 L418.0,125.0 L420.6,130.0 L423.7,125.0 L426.6,119.3 L429.4,112.1 L432.3,111.4 L435.9,113.6 L438.7,113.6 L440.9,107.1 L443.0,105.0 L445.9,93.6 L448.0,83.6 L450.1,82.1 L453.0,83.3 L457.3,80.7 L461.6,79.3 L464.0,76.4 L465.7,77.1 L467.6,83.6 L469.4,82.9 L471.1,88.6 L473.3,97.1 L475.4,101.4 L477.6,110.0 L479.7,118.6 L481.9,127.1 L484.0,134.3 L486.1,140.0 L487.6,143.6 L490.0,143.1 L492.7,147.3 L495.4,142.0 L497.5,147.3 L500.2,151.6 L502.3,162.9 L505.0,163.4 L507.7,161.3 L510.4,160.2 L512.5,161.8 L515.2,164.5 L517.3,170.9 L520.0,169.9 L522.7,172.5 L525.4,173.1 L527.5,175.2 L529.7,172.5 L530.7,171.4 L534.3,174.0 L537.9,168.6 L541.4,165.7 L545.0,161.4 L548.6,166.4 L552.1,170.0 L555.0,169.3 L558.6,167.1 L562.1,160.0 L565.0,167.1 L570.0,161.4 L575.0,162.1 L579.6,151.1 L584.0,145.7 L587.6,142.1 L590.5,142.8 L593.9,138.6 L599.2,130.5 L602.8,127.0 L605.5,127.8 L608.1,116.3 L610.8,117.2 L614.4,110.9 L618.9,102.0 L621.5,102.9 L625.1,94.8 L627.8,93.9 L632.3,84.1 L634.9,88.6 L637.6,85.9 L640.3,74.3 L643.9,71.6 L646.5,67.1" fill="none" stroke="#eba23a" stroke-width="1.15" stroke-linejoin="round"/>
<path d="M356.0,108.3 L360.6,103.6 L363.4,106.9 L365.6,107.9 L367.7,110.0 L370.6,118.6 L373.4,122.1 L375.6,126.4 L377.7,132.9 L380.6,125.7 L382.7,126.4 L385.6,133.6 L388.4,137.4 L392.0,135.7 L394.9,132.9 L397.7,125.0 L400.6,127.4 L402.7,119.3 L405.6,115.7 L408.4,113.6 L410.9,111.4 L414.4,105.0 L419.4,101.4 L422.3,104.3 L423.7,105.3 L427.3,105.7 L430.1,111.4 L433.0,108.1 L435.9,113.6 L440.1,120.0 L444.4,120.0 L448.0,121.9 L450.9,116.4 L455.1,107.1 L460.9,104.7 L464.4,105.3 L466.9,107.1 L470.4,111.4 L474.7,115.0 L478.3,122.9 L481.9,131.4 L485.4,134.3 L488.3,140.0 L491.1,140.0 L494.3,137.7 L497.5,133.4 L500.7,132.0 L502.9,133.4 L505.5,139.3 L507.7,136.1 L510.4,129.1 L513.1,125.9 L515.7,121.1 L518.4,122.7 L522.2,130.7 L525.9,138.2 L530.0,148.3 L532.9,145.7 L535.7,152.1 L538.6,157.1 L541.4,163.6 L545.0,166.4 L548.6,165.0 L551.4,164.0 L554.3,162.9 L557.1,154.3 L561.4,149.3 L564.3,150.7 L567.1,146.4 L570.0,142.1 L572.9,142.9 L575.7,140.0 L579.6,127.0 L582.8,121.6 L587.6,119.8 L590.3,122.9 L593.9,124.3 L597.4,123.4 L602.8,112.7 L606.4,115.4 L612.6,119.8 L615.3,112.7 L618.9,110.9 L624.2,115.4 L628.7,113.6 L633.1,108.2 L637.6,104.6 L641.2,93.0 L643.9,89.5 L646.5,77.0" fill="none" stroke="#2262b0" stroke-width="1.15" stroke-linejoin="round"/>
<line x1="577" y1="25.5" x2="598.3" y2="25.5" stroke="#eba23a" stroke-width="1.3"/>
<text x="600.50" y="29.60" font-size="11.4" text-anchor="start" fill="#eba23a" >CECSH</text>
<line x1="577" y1="37.3" x2="598.3" y2="37.3" stroke="#4fae48" stroke-width="1.3"/>
<text x="600.5" y="41.4" font-size="11.4" fill="#4fae48">AMO<tspan font-size="7.2" dy="0.3">CORE</tspan></text>
<line x1="577" y1="49.1" x2="598.3" y2="49.1" stroke="#2262b0" stroke-width="1.3"/>
<text x="600.50" y="53.20" font-size="11.4" text-anchor="start" fill="#2262b0" >WPSST</text>
<text transform="translate(333.2,135.7) rotate(-90)" font-size="11.4" text-anchor="middle" fill="#222">CECSH (day)</text>
<text transform="translate(684.5,122) rotate(-90)" font-size="11.1" text-anchor="middle" fill="#222">AMO<tspan font-size="6.6" dy="0.3">CORE</tspan><tspan dy="-0.3"> &amp; WPSST</tspan></text>
<text x="356.00" y="10.20" font-size="11.0" text-anchor="start" fill="#222" >(b)</text>
</svg></body></html>
